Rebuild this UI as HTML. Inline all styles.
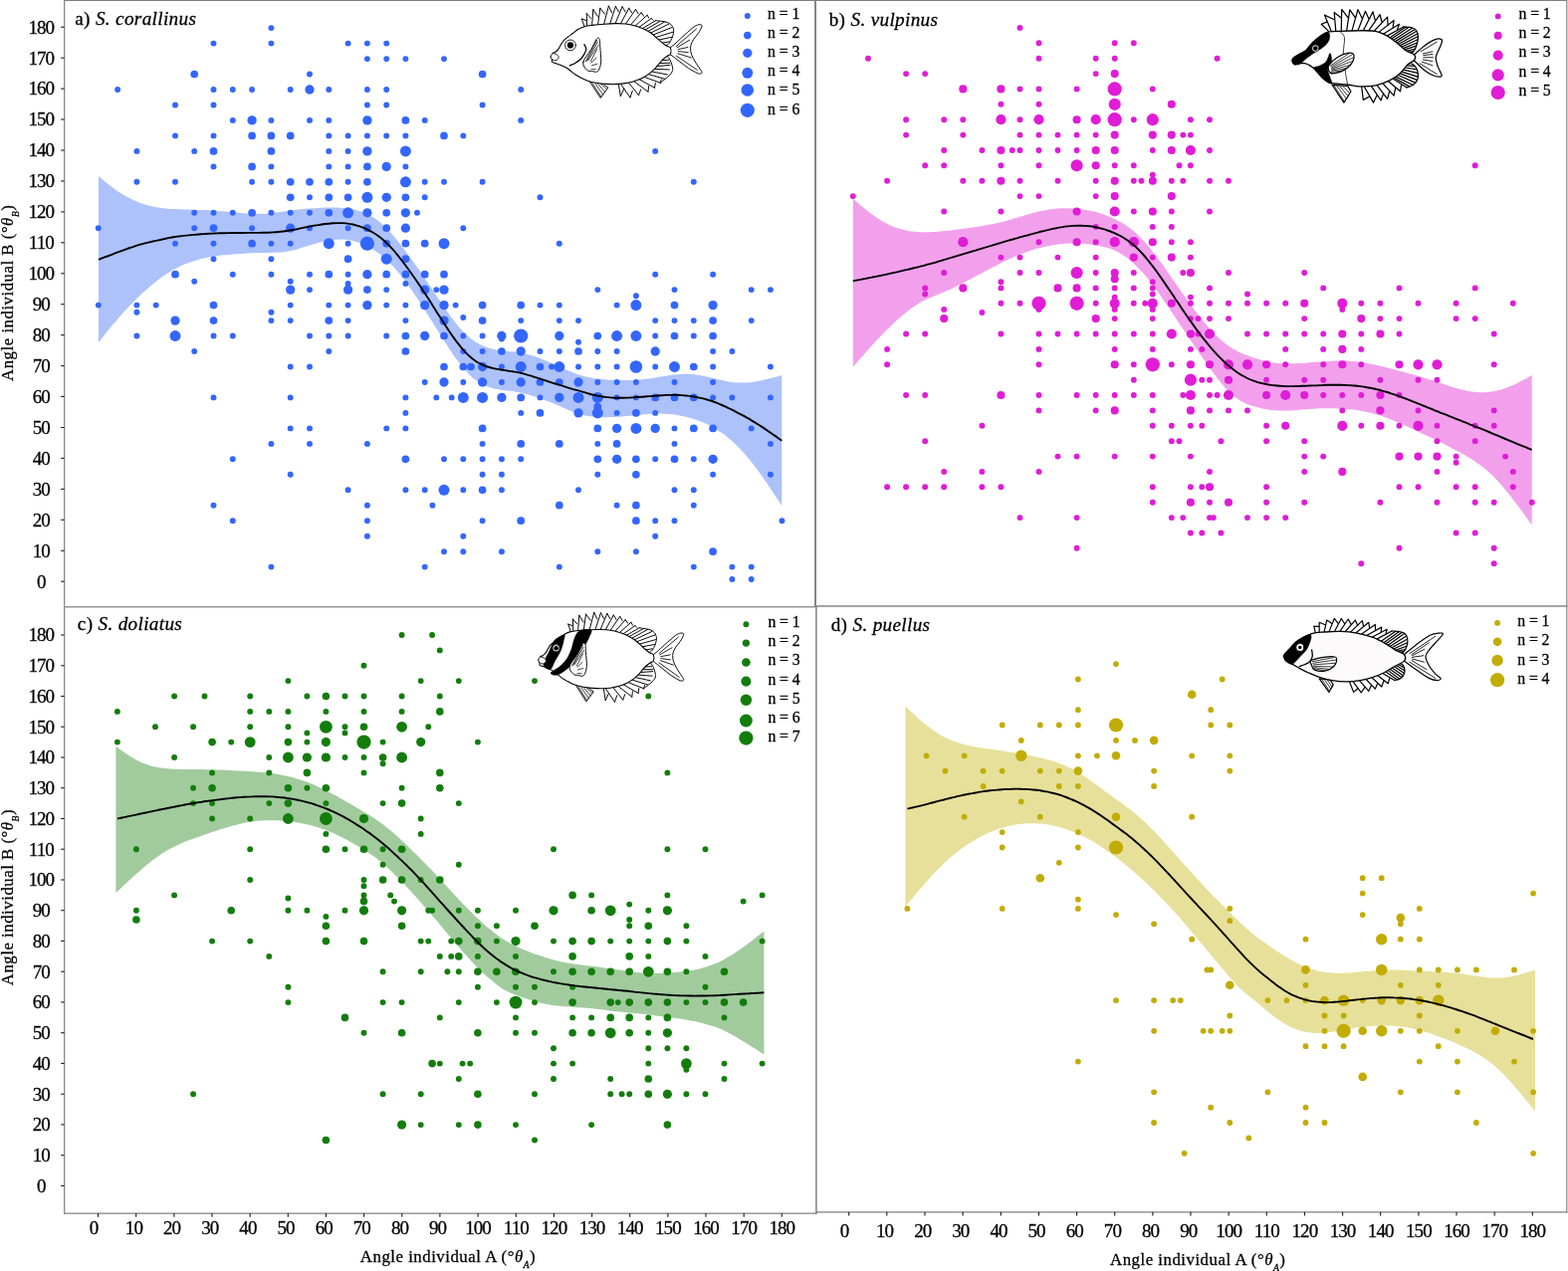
<!DOCTYPE html>
<html lang="en"><head><meta charset="utf-8"><title>Angle individual A vs B</title>
<style>html,body{margin:0;padding:0;background:#fff}svg{display:block}text{stroke:#000;stroke-width:0.28px}</style></head>
<body>
<svg width="1575" height="1277" viewBox="0 0 1575 1277" font-family="'Liberation Serif', 'DejaVu Serif', serif" fill="#000">
<rect width="1575" height="1277" fill="#fff"/>
<path d="M99,177C99.8,177.7 102.3,179.8 104,181.2C105.7,182.5 107.3,183.9 109,185.2C110.7,186.6 112.4,187.9 114,189.1C115.7,190.4 117.4,191.6 119,192.7C120.7,193.8 122.4,194.8 124,195.8C125.7,196.8 127.4,197.7 129.1,198.6C130.7,199.5 132.4,200.3 134.1,201.1C135.7,201.8 137.4,202.5 139.1,203.2C140.7,203.8 142.4,204.4 144.1,205C145.8,205.5 147.4,206 149.1,206.5C150.8,206.9 152.4,207.3 154.1,207.7C155.8,208.1 157.4,208.4 159.1,208.6C160.8,208.9 162.5,209.1 164.1,209.3C165.8,209.5 167.5,209.6 169.1,209.7C170.8,209.9 172.5,210 174.1,210.1C175.8,210.2 177.5,210.2 179.2,210.3C180.8,210.4 182.5,210.4 184.2,210.5C185.8,210.5 187.5,210.6 189.2,210.6C190.8,210.7 192.5,210.7 194.2,210.8C195.9,210.8 197.5,210.9 199.2,210.9C200.9,211 202.5,211 204.2,211.1C205.9,211.1 207.5,211.2 209.2,211.2C210.9,211.3 212.5,211.4 214.2,211.5C215.9,211.6 217.6,211.7 219.2,211.9C220.9,212 222.6,212.1 224.2,212.3C225.9,212.4 227.6,212.6 229.2,212.8C230.9,212.9 232.6,213.1 234.3,213.2C235.9,213.4 237.6,213.6 239.3,213.7C240.9,213.9 242.6,214 244.3,214.2C245.9,214.3 247.6,214.4 249.3,214.5C251,214.6 252.6,214.7 254.3,214.7C256,214.8 257.6,214.8 259.3,214.8C261,214.8 262.6,214.7 264.3,214.7C266,214.6 267.7,214.5 269.3,214.4C271,214.3 272.7,214.1 274.3,213.9C276,213.7 277.7,213.5 279.3,213.3C281,213.1 282.7,212.8 284.4,212.6C286,212.3 287.7,212.1 289.4,211.8C291,211.6 292.7,211.4 294.4,211.2C296,210.9 297.7,210.7 299.4,210.6C301,210.4 302.7,210.2 304.4,210C306.1,209.9 307.7,209.7 309.4,209.6C311.1,209.5 312.7,209.3 314.4,209.2C316.1,209.1 317.7,209 319.4,208.9C321.1,208.8 322.8,208.8 324.4,208.7C326.1,208.6 327.8,208.6 329.4,208.6C331.1,208.5 332.8,208.5 334.4,208.5C336.1,208.6 337.8,208.6 339.5,208.6C341.1,208.7 342.8,208.8 344.5,208.9C346.1,209 347.8,209.2 349.5,209.4C351.1,209.7 352.8,209.9 354.5,210.3C356.2,210.6 357.8,211 359.5,211.5C361.2,212 362.8,212.6 364.5,213.2C366.2,213.8 367.8,214.5 369.5,215.4C371.2,216.2 372.9,217.1 374.5,218.1C376.2,219.2 377.9,220.3 379.5,221.6C381.2,222.9 382.9,224.3 384.5,225.8C386.2,227.4 387.9,229 389.6,230.8C391.2,232.5 392.9,234.4 394.6,236.3C396.2,238.2 397.9,240.3 399.6,242.3C401.2,244.4 402.9,246.6 404.6,248.7C406.2,250.9 407.9,253.1 409.6,255.4C411.3,257.6 412.9,259.9 414.6,262.2C416.3,264.5 417.9,266.8 419.6,269.1C421.3,271.5 422.9,273.9 424.6,276.4C426.3,278.8 428,281.3 429.6,283.8C431.3,286.3 433,288.9 434.6,291.4C436.3,293.9 438,296.5 439.6,299C441.3,301.5 443,304 444.7,306.4C446.3,308.9 448,311.3 449.7,313.7C451.3,316 453,318.3 454.7,320.5C456.3,322.7 458,324.9 459.7,326.9C461.4,328.9 463,330.8 464.7,332.6C466.4,334.4 468,336 469.7,337.5C471.4,339 473,340.3 474.7,341.5C476.4,342.8 478.1,343.8 479.7,344.8C481.4,345.7 483.1,346.6 484.7,347.3C486.4,348.1 488.1,348.7 489.7,349.3C491.4,349.8 493.1,350.3 494.7,350.7C496.4,351.1 498.1,351.4 499.8,351.7C501.4,352 503.1,352.2 504.8,352.4C506.4,352.6 508.1,352.7 509.8,352.9C511.4,353 513.1,353.2 514.8,353.3C516.5,353.5 518.1,353.6 519.8,353.9C521.5,354.1 523.1,354.4 524.8,354.7C526.5,355.1 528.1,355.4 529.8,355.9C531.5,356.3 533.2,356.8 534.8,357.3C536.5,357.9 538.2,358.4 539.8,359C541.5,359.6 543.2,360.3 544.8,360.9C546.5,361.6 548.2,362.3 549.9,363C551.5,363.8 553.2,364.5 554.9,365.3C556.5,366 558.2,366.8 559.9,367.5C561.5,368.3 563.2,369.1 564.9,369.8C566.6,370.6 568.2,371.3 569.9,372C571.6,372.8 573.2,373.5 574.9,374.1C576.6,374.8 578.2,375.4 579.9,376C581.6,376.6 583.3,377.1 584.9,377.5C586.6,378 588.3,378.4 589.9,378.8C591.6,379.1 593.3,379.5 594.9,379.8C596.6,380.1 598.3,380.3 599.9,380.5C601.6,380.8 603.3,381 605,381.1C606.6,381.3 608.3,381.4 610,381.5C611.6,381.6 613.3,381.7 615,381.8C616.6,381.9 618.3,382 620,382C621.7,382.1 623.3,382.1 625,382.1C626.7,382.1 628.3,382.1 630,382.1C631.7,382.1 633.3,382 635,382C636.7,381.9 638.4,381.8 640,381.7C641.7,381.6 643.4,381.4 645,381.2C646.7,381.1 648.4,380.8 650,380.6C651.7,380.4 653.4,380.2 655.1,379.9C656.7,379.7 658.4,379.4 660.1,379.1C661.7,378.8 663.4,378.5 665.1,378.3C666.7,378 668.4,377.7 670.1,377.4C671.8,377.2 673.4,376.9 675.1,376.7C676.8,376.5 678.4,376.3 680.1,376.2C681.8,376 683.4,375.9 685.1,375.9C686.8,375.8 688.4,375.8 690.1,375.8C691.8,375.9 693.5,376 695.1,376.1C696.8,376.2 698.5,376.4 700.1,376.7C701.8,376.9 703.5,377.2 705.1,377.5C706.8,377.8 708.5,378.2 710.2,378.5C711.8,378.9 713.5,379.3 715.2,379.7C716.8,380.1 718.5,380.5 720.2,380.9C721.8,381.3 723.5,381.7 725.2,382.1C726.9,382.5 728.5,382.9 730.2,383.2C731.9,383.5 733.5,383.8 735.2,384C736.9,384.2 738.5,384.4 740.2,384.5C741.9,384.6 743.6,384.6 745.2,384.6C746.9,384.6 748.6,384.5 750.2,384.4C751.9,384.3 753.6,384.2 755.2,384C756.9,383.8 758.6,383.5 760.3,383.2C761.9,382.9 763.6,382.6 765.3,382.2C766.9,381.8 768.6,381.4 770.3,381C771.9,380.6 773.6,380.2 775.3,379.8C777,379.4 778.6,378.9 780.3,378.5C782,378 784.5,377.3 785.3,377.1L785.3,508C784.5,506.7 782,503 780.3,500.4C778.6,497.9 777,495.4 775.3,492.9C773.6,490.4 771.9,488 770.3,485.5C768.6,483.1 766.9,480.6 765.3,478.3C763.6,475.9 761.9,473.5 760.3,471.3C758.6,469 756.9,466.8 755.2,464.7C753.6,462.6 751.9,460.5 750.2,458.6C748.6,456.6 746.9,454.8 745.2,453C743.6,451.2 741.9,449.5 740.2,447.8C738.5,446.2 736.9,444.6 735.2,443.1C733.5,441.6 731.9,440.2 730.2,438.9C728.5,437.6 726.9,436.3 725.2,435.1C723.5,433.9 721.8,432.8 720.2,431.7C718.5,430.6 716.8,429.6 715.2,428.7C713.5,427.8 711.8,427 710.2,426.2C708.5,425.4 706.8,424.7 705.1,424C703.5,423.3 701.8,422.7 700.1,422.1C698.5,421.5 696.8,421 695.1,420.5C693.5,420 691.8,419.5 690.1,419.1C688.4,418.7 686.8,418.3 685.1,418C683.4,417.6 681.8,417.3 680.1,417C678.4,416.8 676.8,416.5 675.1,416.3C673.4,416.2 671.8,416 670.1,415.9C668.4,415.8 666.7,415.7 665.1,415.7C663.4,415.6 661.7,415.6 660.1,415.6C658.4,415.6 656.7,415.7 655.1,415.7C653.4,415.8 651.7,415.9 650,416C648.4,416.2 646.7,416.3 645,416.4C643.4,416.6 641.7,416.7 640,416.9C638.4,417.1 636.7,417.2 635,417.4C633.3,417.6 631.7,417.7 630,417.9C628.3,418 626.7,418.2 625,418.4C623.3,418.5 621.7,418.6 620,418.8C618.3,418.9 616.6,419 615,419.1C613.3,419.2 611.6,419.2 610,419.3C608.3,419.3 606.6,419.3 605,419.3C603.3,419.3 601.6,419.2 599.9,419.1C598.3,419 596.6,418.8 594.9,418.6C593.3,418.4 591.6,418.2 589.9,417.8C588.3,417.5 586.6,417.2 584.9,416.7C583.3,416.3 581.6,415.8 579.9,415.3C578.2,414.7 576.6,414.1 574.9,413.5C573.2,412.8 571.6,412.1 569.9,411.4C568.2,410.7 566.6,410 564.9,409.3C563.2,408.5 561.5,407.8 559.9,407.1C558.2,406.4 556.5,405.7 554.9,405.1C553.2,404.4 551.5,403.7 549.9,403.1C548.2,402.4 546.5,401.8 544.8,401.2C543.2,400.6 541.5,400 539.8,399.4C538.2,398.8 536.5,398.2 534.8,397.7C533.2,397.2 531.5,396.7 529.8,396.2C528.1,395.7 526.5,395.3 524.8,394.9C523.1,394.5 521.5,394.2 519.8,393.9C518.1,393.6 516.5,393.4 514.8,393.1C513.1,392.9 511.4,392.7 509.8,392.5C508.1,392.3 506.4,392.1 504.8,391.9C503.1,391.6 501.4,391.4 499.8,391C498.1,390.7 496.4,390.4 494.7,389.9C493.1,389.5 491.4,389 489.7,388.3C488.1,387.7 486.4,387 484.7,386.2C483.1,385.3 481.4,384.4 479.7,383.3C478.1,382.2 476.4,380.9 474.7,379.5C473,378.1 471.4,376.6 469.7,374.8C468,373.1 466.4,371.2 464.7,369.1C463,367.1 461.4,364.9 459.7,362.6C458,360.3 456.3,357.9 454.7,355.4C453,353 451.3,350.4 449.7,347.9C448,345.3 446.3,342.7 444.7,340C443,337.4 441.3,334.7 439.6,332.1C438,329.4 436.3,326.8 434.6,324.1C433,321.5 431.3,318.8 429.6,316.2C428,313.5 426.3,310.9 424.6,308.3C422.9,305.7 421.3,303.2 419.6,300.6C417.9,298.1 416.3,295.6 414.6,293.1C412.9,290.7 411.3,288.3 409.6,286C407.9,283.7 406.2,281.4 404.6,279.2C402.9,277.1 401.2,275 399.6,273C397.9,271 396.2,269.1 394.6,267.3C392.9,265.5 391.2,263.8 389.6,262.2C387.9,260.6 386.2,259.1 384.5,257.7C382.9,256.3 381.2,255.1 379.5,253.9C377.9,252.7 376.2,251.6 374.5,250.5C372.9,249.5 371.2,248.6 369.5,247.7C367.8,246.9 366.2,246.1 364.5,245.4C362.8,244.7 361.2,244 359.5,243.5C357.8,242.9 356.2,242.4 354.5,242C352.8,241.6 351.1,241.3 349.5,241.1C347.8,240.8 346.1,240.7 344.5,240.6C342.8,240.6 341.1,240.6 339.5,240.7C337.8,240.7 336.1,240.8 334.4,241C332.8,241.2 331.1,241.4 329.4,241.7C327.8,242 326.1,242.3 324.4,242.7C322.8,243.1 321.1,243.5 319.4,244C317.7,244.4 316.1,244.9 314.4,245.4C312.7,245.9 311.1,246.5 309.4,247C307.7,247.5 306.1,248.1 304.4,248.6C302.7,249.2 301,249.7 299.4,250.2C297.7,250.7 296,251.2 294.4,251.6C292.7,252 291,252.3 289.4,252.6C287.7,252.9 286,253.1 284.4,253.2C282.7,253.4 281,253.5 279.3,253.6C277.7,253.7 276,253.8 274.3,253.8C272.7,253.9 271,253.9 269.3,253.9C267.7,254 266,254 264.3,254C262.6,254 261,254 259.3,254.1C257.6,254.1 256,254.1 254.3,254.2C252.6,254.3 251,254.3 249.3,254.4C247.6,254.5 245.9,254.6 244.3,254.7C242.6,254.8 240.9,255 239.3,255.1C237.6,255.2 235.9,255.3 234.3,255.5C232.6,255.6 230.9,255.7 229.2,255.9C227.6,256 225.9,256.2 224.2,256.3C222.6,256.5 220.9,256.6 219.2,256.9C217.6,257.1 215.9,257.3 214.2,257.6C212.5,257.8 210.9,258.1 209.2,258.5C207.5,258.8 205.9,259.2 204.2,259.6C202.5,260 200.9,260.4 199.2,260.9C197.5,261.3 195.9,261.8 194.2,262.4C192.5,262.9 190.8,263.5 189.2,264.1C187.5,264.7 185.8,265.4 184.2,266.1C182.5,266.8 180.8,267.6 179.2,268.4C177.5,269.2 175.8,270 174.1,271C172.5,271.9 170.8,272.9 169.1,274C167.5,275 165.8,276.2 164.1,277.3C162.5,278.5 160.8,279.7 159.1,281C157.4,282.2 155.8,283.6 154.1,284.9C152.4,286.3 150.8,287.7 149.1,289.2C147.4,290.6 145.8,292.1 144.1,293.6C142.4,295.2 140.7,296.7 139.1,298.3C137.4,299.9 135.7,301.6 134.1,303.3C132.4,304.9 130.7,306.7 129.1,308.4C127.4,310.2 125.7,312 124,313.8C122.4,315.6 120.7,317.5 119,319.4C117.4,321.4 115.7,323.3 114,325.3C112.4,327.3 110.7,329.4 109,331.5C107.3,333.5 105.7,335.6 104,337.7C102.3,339.8 99.8,342.9 99,344Z" fill="#adc2fb"/>
<path d="M856.8,199.4C857.6,200.1 860.1,202.4 861.8,203.9C863.5,205.3 865.2,206.8 866.8,208.2C868.5,209.6 870.2,211 871.8,212.3C873.5,213.7 875.2,214.9 876.9,216.1C878.5,217.3 880.2,218.5 881.9,219.6C883.5,220.7 885.2,221.7 886.9,222.7C888.6,223.6 890.2,224.5 891.9,225.3C893.6,226.1 895.2,226.9 896.9,227.5C898.6,228.2 900.3,228.8 901.9,229.3C903.6,229.9 905.3,230.4 906.9,230.8C908.6,231.2 910.3,231.6 912,231.9C913.6,232.2 915.3,232.4 917,232.6C918.6,232.8 920.3,232.9 922,233C923.7,233.1 925.3,233.2 927,233.2C928.7,233.3 930.3,233.3 932,233.2C933.7,233.2 935.4,233.1 937,233C938.7,233 940.4,232.9 942,232.7C943.7,232.6 945.4,232.5 947.1,232.3C948.7,232.1 950.4,232 952.1,231.8C953.7,231.6 955.4,231.4 957.1,231.2C958.8,231 960.4,230.7 962.1,230.5C963.8,230.3 965.4,230.1 967.1,229.8C968.8,229.6 970.4,229.4 972.1,229.2C973.8,228.9 975.5,228.7 977.1,228.5C978.8,228.2 980.5,228 982.1,227.8C983.8,227.5 985.5,227.2 987.2,227C988.8,226.7 990.5,226.4 992.2,226.1C993.8,225.7 995.5,225.4 997.2,225.1C998.9,224.7 1000.5,224.3 1002.2,224C1003.9,223.6 1005.5,223.2 1007.2,222.7C1008.9,222.3 1010.6,221.9 1012.2,221.4C1013.9,220.9 1015.6,220.5 1017.2,220C1018.9,219.5 1020.6,219 1022.3,218.5C1023.9,218 1025.6,217.5 1027.3,217C1028.9,216.5 1030.6,216 1032.3,215.5C1034,215.1 1035.6,214.6 1037.3,214.1C1039,213.7 1040.6,213.2 1042.3,212.8C1044,212.4 1045.7,212 1047.3,211.7C1049,211.3 1050.7,211 1052.3,210.7C1054,210.4 1055.7,210.2 1057.4,210C1059,209.8 1060.7,209.6 1062.4,209.5C1064,209.4 1065.7,209.3 1067.4,209.3C1069.1,209.2 1070.7,209.2 1072.4,209.3C1074.1,209.3 1075.7,209.4 1077.4,209.5C1079.1,209.6 1080.8,209.7 1082.4,209.9C1084.1,210.1 1085.8,210.2 1087.4,210.5C1089.1,210.7 1090.8,210.9 1092.5,211.2C1094.1,211.5 1095.8,211.8 1097.5,212.2C1099.1,212.5 1100.8,213 1102.5,213.4C1104.2,213.9 1105.8,214.4 1107.5,215C1109.2,215.6 1110.8,216.2 1112.5,216.9C1114.2,217.6 1115.9,218.3 1117.5,219C1119.2,219.8 1120.9,220.6 1122.5,221.4C1124.2,222.3 1125.9,223.2 1127.6,224.2C1129.2,225.2 1130.9,226.2 1132.6,227.4C1134.2,228.6 1135.9,229.8 1137.6,231.2C1139.3,232.6 1140.9,234.1 1142.6,235.7C1144.3,237.3 1145.9,239 1147.6,240.7C1149.3,242.5 1151,244.4 1152.6,246.3C1154.3,248.3 1156,250.3 1157.6,252.4C1159.3,254.5 1161,256.7 1162.7,258.9C1164.3,261.2 1166,263.5 1167.7,265.8C1169.3,268.1 1171,270.5 1172.7,272.9C1174.4,275.4 1176,277.8 1177.7,280.2C1179.4,282.7 1181,285.1 1182.7,287.5C1184.4,289.9 1186.1,292.3 1187.7,294.7C1189.4,297 1191.1,299.4 1192.7,301.7C1194.4,304 1196.1,306.3 1197.8,308.5C1199.4,310.8 1201.1,313 1202.8,315.2C1204.4,317.4 1206.1,319.5 1207.8,321.6C1209.4,323.7 1211.1,325.7 1212.8,327.6C1214.5,329.6 1216.1,331.4 1217.8,333.2C1219.5,335 1221.1,336.7 1222.8,338.3C1224.5,339.9 1226.2,341.4 1227.8,342.8C1229.5,344.2 1231.2,345.5 1232.8,346.7C1234.5,347.9 1236.2,349 1237.9,350.1C1239.5,351.1 1241.2,352 1242.9,352.9C1244.5,353.7 1246.2,354.5 1247.9,355.2C1249.6,355.9 1251.2,356.5 1252.9,357.1C1254.6,357.8 1256.2,358.3 1257.9,358.9C1259.6,359.5 1261.3,360.1 1262.9,360.6C1264.6,361.1 1266.3,361.7 1267.9,362.1C1269.6,362.6 1271.3,363 1273,363.4C1274.6,363.8 1276.3,364.1 1278,364.3C1279.6,364.6 1281.3,364.7 1283,364.9C1284.7,365 1286.3,365.1 1288,365.2C1289.7,365.3 1291.3,365.3 1293,365.3C1294.7,365.3 1296.4,365.3 1298,365.3C1299.7,365.3 1301.4,365.2 1303,365.1C1304.7,365.1 1306.4,365 1308.1,364.9C1309.7,364.8 1311.4,364.6 1313.1,364.5C1314.7,364.4 1316.4,364.3 1318.1,364.1C1319.8,364 1321.4,363.8 1323.1,363.7C1324.8,363.6 1326.4,363.4 1328.1,363.3C1329.8,363.2 1331.5,363 1333.1,362.9C1334.8,362.8 1336.5,362.7 1338.1,362.6C1339.8,362.5 1341.5,362.4 1343.2,362.4C1344.8,362.4 1346.5,362.4 1348.2,362.4C1349.8,362.4 1351.5,362.5 1353.2,362.6C1354.9,362.7 1356.5,362.8 1358.2,363C1359.9,363.1 1361.5,363.3 1363.2,363.5C1364.9,363.7 1366.6,363.9 1368.2,364.2C1369.9,364.4 1371.6,364.7 1373.2,365C1374.9,365.3 1376.6,365.6 1378.3,366C1379.9,366.3 1381.6,366.7 1383.3,367C1384.9,367.4 1386.6,367.8 1388.3,368.2C1390,368.6 1391.6,369 1393.3,369.4C1395,369.8 1396.6,370.2 1398.3,370.7C1400,371.1 1401.7,371.5 1403.3,372C1405,372.4 1406.7,372.9 1408.3,373.3C1410,373.8 1411.7,374.2 1413.4,374.7C1415,375.1 1416.7,375.6 1418.4,376C1420,376.5 1421.7,377 1423.4,377.4C1425,377.9 1426.7,378.4 1428.4,378.9C1430.1,379.4 1431.7,379.9 1433.4,380.4C1435.1,381 1436.7,381.5 1438.4,382C1440.1,382.6 1441.8,383.1 1443.4,383.7C1445.1,384.2 1446.8,384.8 1448.4,385.3C1450.1,385.9 1451.8,386.5 1453.5,387C1455.1,387.6 1456.8,388.2 1458.5,388.7C1460.1,389.2 1461.8,389.7 1463.5,390.2C1465.2,390.7 1466.8,391.2 1468.5,391.6C1470.2,392 1471.8,392.4 1473.5,392.7C1475.2,393.1 1476.9,393.4 1478.5,393.6C1480.2,393.8 1481.9,394 1483.5,394.1C1485.2,394.3 1486.9,394.3 1488.6,394.3C1490.2,394.3 1491.9,394.2 1493.6,394.1C1495.2,393.9 1496.9,393.7 1498.6,393.5C1500.3,393.2 1501.9,392.9 1503.6,392.5C1505.3,392.1 1506.9,391.7 1508.6,391.2C1510.3,390.7 1512,390.1 1513.6,389.5C1515.3,388.9 1517,388.2 1518.6,387.5C1520.3,386.8 1522,386 1523.7,385.2C1525.3,384.4 1527,383.5 1528.7,382.6C1530.3,381.7 1532,380.8 1533.7,379.9C1535.4,379 1537.9,377.6 1538.7,377.1L1538.7,527.5C1537.9,526.3 1535.4,522.8 1533.7,520.5C1532,518.2 1530.3,515.9 1528.7,513.6C1527,511.3 1525.3,509 1523.7,506.8C1522,504.5 1520.3,502.3 1518.6,500.2C1517,498 1515.3,495.9 1513.6,493.9C1512,491.8 1510.3,489.8 1508.6,487.9C1506.9,486 1505.3,484.1 1503.6,482.3C1501.9,480.6 1500.3,478.9 1498.6,477.3C1496.9,475.7 1495.2,474.2 1493.6,472.7C1491.9,471.3 1490.2,469.9 1488.6,468.6C1486.9,467.3 1485.2,466.1 1483.5,465C1481.9,463.8 1480.2,462.7 1478.5,461.6C1476.9,460.6 1475.2,459.6 1473.5,458.6C1471.8,457.6 1470.2,456.7 1468.5,455.8C1466.8,454.9 1465.2,454 1463.5,453.1C1461.8,452.2 1460.1,451.3 1458.5,450.4C1456.8,449.5 1455.1,448.6 1453.5,447.7C1451.8,446.9 1450.1,446 1448.4,445.1C1446.8,444.3 1445.1,443.4 1443.4,442.6C1441.8,441.8 1440.1,441 1438.4,440.1C1436.7,439.3 1435.1,438.5 1433.4,437.7C1431.7,436.9 1430.1,436.2 1428.4,435.4C1426.7,434.6 1425,433.8 1423.4,433C1421.7,432.2 1420,431.5 1418.4,430.7C1416.7,429.9 1415,429.1 1413.4,428.4C1411.7,427.6 1410,426.9 1408.3,426.1C1406.7,425.4 1405,424.7 1403.3,423.9C1401.7,423.2 1400,422.5 1398.3,421.9C1396.6,421.2 1395,420.6 1393.3,419.9C1391.6,419.3 1390,418.7 1388.3,418.2C1386.6,417.6 1384.9,417.1 1383.3,416.6C1381.6,416.1 1379.9,415.6 1378.3,415.2C1376.6,414.8 1374.9,414.4 1373.2,414C1371.6,413.7 1369.9,413.3 1368.2,413C1366.6,412.7 1364.9,412.5 1363.2,412.3C1361.5,412 1359.9,411.8 1358.2,411.6C1356.5,411.5 1354.9,411.3 1353.2,411.2C1351.5,411 1349.8,410.9 1348.2,410.8C1346.5,410.7 1344.8,410.6 1343.2,410.5C1341.5,410.4 1339.8,410.4 1338.1,410.3C1336.5,410.3 1334.8,410.2 1333.1,410.2C1331.5,410.2 1329.8,410.3 1328.1,410.3C1326.4,410.3 1324.8,410.4 1323.1,410.5C1321.4,410.6 1319.8,410.7 1318.1,410.8C1316.4,410.9 1314.7,411.1 1313.1,411.2C1311.4,411.3 1309.7,411.5 1308.1,411.6C1306.4,411.8 1304.7,411.9 1303,412C1301.4,412.2 1299.7,412.3 1298,412.4C1296.4,412.5 1294.7,412.6 1293,412.6C1291.3,412.7 1289.7,412.7 1288,412.7C1286.3,412.6 1284.7,412.6 1283,412.5C1281.3,412.4 1279.6,412.2 1278,412.1C1276.3,411.9 1274.6,411.7 1273,411.4C1271.3,411.1 1269.6,410.8 1267.9,410.5C1266.3,410.1 1264.6,409.7 1262.9,409.3C1261.3,408.8 1259.6,408.4 1257.9,407.8C1256.2,407.3 1254.6,406.7 1252.9,406C1251.2,405.3 1249.6,404.6 1247.9,403.7C1246.2,402.8 1244.5,401.9 1242.9,400.7C1241.2,399.6 1239.5,398.3 1237.9,396.8C1236.2,395.4 1234.5,393.8 1232.8,392C1231.2,390.2 1229.5,388.3 1227.8,386.3C1226.2,384.3 1224.5,382.2 1222.8,380C1221.1,377.8 1219.5,375.6 1217.8,373.3C1216.1,371 1214.5,368.7 1212.8,366.4C1211.1,364 1209.4,361.7 1207.8,359.3C1206.1,356.9 1204.4,354.4 1202.8,352C1201.1,349.6 1199.4,347.1 1197.8,344.6C1196.1,342.2 1194.4,339.7 1192.7,337.2C1191.1,334.7 1189.4,332.2 1187.7,329.7C1186.1,327.2 1184.4,324.7 1182.7,322.2C1181,319.7 1179.4,317.2 1177.7,314.7C1176,312.2 1174.4,309.7 1172.7,307.3C1171,304.8 1169.3,302.4 1167.7,299.9C1166,297.5 1164.3,295.1 1162.7,292.8C1161,290.5 1159.3,288.2 1157.6,286C1156,283.8 1154.3,281.6 1152.6,279.6C1151,277.6 1149.3,275.6 1147.6,273.8C1145.9,271.9 1144.3,270.2 1142.6,268.5C1140.9,266.8 1139.3,265.3 1137.6,263.8C1135.9,262.3 1134.2,260.9 1132.6,259.6C1130.9,258.3 1129.2,257.1 1127.6,256C1125.9,254.9 1124.2,253.9 1122.5,253C1120.9,252.1 1119.2,251.4 1117.5,250.7C1115.9,250.1 1114.2,249.5 1112.5,249.1C1110.8,248.6 1109.2,248.2 1107.5,247.8C1105.8,247.5 1104.2,247.1 1102.5,246.8C1100.8,246.5 1099.1,246.3 1097.5,246C1095.8,245.8 1094.1,245.5 1092.5,245.3C1090.8,245.1 1089.1,244.9 1087.4,244.8C1085.8,244.7 1084.1,244.5 1082.4,244.5C1080.8,244.4 1079.1,244.4 1077.4,244.4C1075.7,244.4 1074.1,244.5 1072.4,244.6C1070.7,244.7 1069.1,244.8 1067.4,245C1065.7,245.1 1064,245.3 1062.4,245.5C1060.7,245.8 1059,246 1057.4,246.3C1055.7,246.6 1054,246.9 1052.3,247.3C1050.7,247.6 1049,248 1047.3,248.4C1045.7,248.8 1044,249.2 1042.3,249.6C1040.6,250.1 1039,250.6 1037.3,251.1C1035.6,251.6 1034,252.2 1032.3,252.7C1030.6,253.3 1028.9,253.9 1027.3,254.5C1025.6,255.2 1023.9,255.8 1022.3,256.5C1020.6,257.2 1018.9,257.9 1017.2,258.7C1015.6,259.4 1013.9,260.2 1012.2,261C1010.6,261.8 1008.9,262.6 1007.2,263.4C1005.5,264.2 1003.9,265.1 1002.2,265.9C1000.5,266.8 998.9,267.7 997.2,268.6C995.5,269.4 993.8,270.3 992.2,271.2C990.5,272.1 988.8,273 987.2,273.9C985.5,274.8 983.8,275.6 982.1,276.5C980.5,277.4 978.8,278.3 977.1,279.2C975.5,280.1 973.8,280.9 972.1,281.8C970.4,282.7 968.8,283.6 967.1,284.4C965.4,285.3 963.8,286.1 962.1,287C960.4,287.8 958.8,288.6 957.1,289.5C955.4,290.3 953.7,291 952.1,291.8C950.4,292.5 948.7,293.3 947.1,293.9C945.4,294.6 943.7,295.3 942,295.9C940.4,296.6 938.7,297.2 937,297.9C935.4,298.5 933.7,299.2 932,300C930.3,300.7 928.7,301.6 927,302.5C925.3,303.4 923.7,304.3 922,305.4C920.3,306.4 918.6,307.5 917,308.7C915.3,309.9 913.6,311.1 912,312.4C910.3,313.7 908.6,315 906.9,316.4C905.3,317.8 903.6,319.3 901.9,320.8C900.3,322.3 898.6,323.8 896.9,325.4C895.2,327 893.6,328.6 891.9,330.3C890.2,331.9 888.6,333.6 886.9,335.4C885.2,337.1 883.5,338.8 881.9,340.6C880.2,342.4 878.5,344.2 876.9,346C875.2,347.8 873.5,349.7 871.8,351.6C870.2,353.4 868.5,355.3 866.8,357.2C865.2,359.1 863.5,361 861.8,362.9C860.1,364.8 857.6,367.7 856.8,368.7Z" fill="#f2a0ec"/>
<path d="M116.4,749.7C117.2,750.3 119.7,752.2 121.4,753.4C123.1,754.6 124.7,755.8 126.4,757C128.1,758.1 129.8,759.3 131.4,760.3C133.1,761.4 134.8,762.4 136.4,763.3C138.1,764.2 139.8,765.1 141.4,765.8C143.1,766.5 144.8,767.2 146.4,767.8C148.1,768.4 149.8,768.9 151.5,769.4C153.1,769.9 154.8,770.3 156.5,770.6C158.1,771 159.8,771.2 161.5,771.5C163.1,771.7 164.8,771.9 166.5,772.1C168.1,772.3 169.8,772.4 171.5,772.5C173.2,772.6 174.8,772.7 176.5,772.8C178.2,772.8 179.8,772.9 181.5,772.9C183.2,773 184.8,773 186.5,773C188.2,773 189.8,773 191.5,773C193.2,773 194.9,773.1 196.5,773.1C198.2,773.1 199.9,773.1 201.5,773.1C203.2,773.2 204.9,773.2 206.5,773.2C208.2,773.2 209.9,773.3 211.5,773.3C213.2,773.3 214.9,773.4 216.6,773.4C218.2,773.5 219.9,773.5 221.6,773.5C223.2,773.6 224.9,773.6 226.6,773.7C228.2,773.8 229.9,773.8 231.6,773.9C233.2,774 234.9,774.1 236.6,774.2C238.3,774.3 239.9,774.4 241.6,774.5C243.3,774.6 244.9,774.7 246.6,774.8C248.3,774.9 249.9,775 251.6,775.1C253.3,775.2 254.9,775.3 256.6,775.5C258.3,775.6 260,775.7 261.6,775.8C263.3,776 265,776.1 266.6,776.3C268.3,776.4 270,776.6 271.6,776.8C273.3,777 275,777.3 276.6,777.5C278.3,777.8 280,778.1 281.7,778.4C283.3,778.7 285,779 286.7,779.4C288.3,779.8 290,780.2 291.7,780.6C293.3,781 295,781.4 296.7,781.9C298.3,782.4 300,782.9 301.7,783.4C303.4,784 305,784.5 306.7,785.1C308.4,785.7 310,786.4 311.7,787.1C313.4,787.8 315,788.5 316.7,789.2C318.4,790 320,790.7 321.7,791.5C323.4,792.3 325.1,793.1 326.7,794C328.4,794.8 330.1,795.7 331.7,796.5C333.4,797.4 335.1,798.3 336.7,799.1C338.4,800 340.1,800.9 341.7,801.9C343.4,802.8 345.1,803.7 346.8,804.7C348.4,805.6 350.1,806.6 351.8,807.5C353.4,808.5 355.1,809.5 356.8,810.5C358.4,811.5 360.1,812.5 361.8,813.5C363.4,814.5 365.1,815.5 366.8,816.5C368.5,817.5 370.1,818.5 371.8,819.6C373.5,820.6 375.1,821.7 376.8,822.8C378.5,823.9 380.1,825 381.8,826.3C383.5,827.5 385.1,828.7 386.8,830C388.5,831.3 390.2,832.6 391.8,834C393.5,835.4 395.2,836.8 396.8,838.3C398.5,839.8 400.2,841.3 401.8,842.8C403.5,844.4 405.2,846 406.8,847.5C408.5,849.1 410.2,850.8 411.9,852.4C413.5,854 415.2,855.6 416.9,857.3C418.5,858.9 420.2,860.6 421.9,862.3C423.5,864 425.2,865.7 426.9,867.4C428.5,869.1 430.2,870.8 431.9,872.6C433.6,874.3 435.2,876.1 436.9,877.8C438.6,879.6 440.2,881.4 441.9,883.2C443.6,885 445.2,886.8 446.9,888.6C448.6,890.4 450.2,892.2 451.9,894C453.6,895.8 455.3,897.6 456.9,899.4C458.6,901.2 460.3,903 461.9,904.7C463.6,906.5 465.3,908.2 466.9,910C468.6,911.7 470.3,913.4 471.9,915.1C473.6,916.8 475.3,918.4 477,920.1C478.6,921.7 480.3,923.3 482,924.8C483.6,926.4 485.3,927.9 487,929.4C488.6,930.8 490.3,932.2 492,933.6C493.6,935 495.3,936.3 497,937.5C498.7,938.8 500.3,940 502,941.2C503.7,942.3 505.3,943.4 507,944.5C508.7,945.5 510.3,946.5 512,947.4C513.7,948.4 515.3,949.3 517,950.1C518.7,951 520.4,951.8 522,952.5C523.7,953.3 525.4,954 527,954.6C528.7,955.3 530.4,955.9 532,956.6C533.7,957.2 535.4,957.8 537,958.4C538.7,959 540.4,959.5 542.1,960.1C543.7,960.7 545.4,961.2 547.1,961.8C548.7,962.3 550.4,962.8 552.1,963.3C553.7,963.8 555.4,964.2 557.1,964.7C558.7,965.1 560.4,965.5 562.1,965.9C563.8,966.3 565.4,966.6 567.1,966.9C568.8,967.3 570.4,967.6 572.1,967.8C573.8,968.1 575.4,968.4 577.1,968.6C578.8,968.9 580.4,969.1 582.1,969.3C583.8,969.5 585.5,969.7 587.1,969.9C588.8,970.1 590.5,970.3 592.1,970.5C593.8,970.7 595.5,970.9 597.1,971.1C598.8,971.3 600.5,971.5 602.1,971.7C603.8,971.9 605.5,972.1 607.2,972.4C608.8,972.6 610.5,972.8 612.2,973.1C613.8,973.3 615.5,973.6 617.2,973.8C618.8,974.1 620.5,974.3 622.2,974.6C623.8,974.8 625.5,975.1 627.2,975.3C628.9,975.6 630.5,975.8 632.2,976C633.9,976.3 635.5,976.5 637.2,976.7C638.9,976.8 640.5,977 642.2,977.2C643.9,977.3 645.5,977.5 647.2,977.6C648.9,977.7 650.6,977.8 652.2,977.8C653.9,977.9 655.6,977.9 657.2,977.9C658.9,977.9 660.6,977.9 662.2,977.8C663.9,977.8 665.6,977.7 667.2,977.7C668.9,977.6 670.6,977.5 672.3,977.4C673.9,977.3 675.6,977.2 677.3,977.1C678.9,976.9 680.6,976.8 682.3,976.6C683.9,976.5 685.6,976.3 687.3,976.1C688.9,975.8 690.6,975.6 692.3,975.3C694,975.1 695.6,974.8 697.3,974.4C699,974.1 700.6,973.8 702.3,973.4C704,973 705.6,972.5 707.3,972C709,971.6 710.6,971 712.3,970.5C714,969.9 715.7,969.3 717.3,968.6C719,967.9 720.7,967.2 722.3,966.4C724,965.7 725.7,964.8 727.3,963.9C729,963.1 730.7,962.1 732.3,961.1C734,960.1 735.7,959 737.4,957.9C739,956.8 740.7,955.7 742.4,954.5C744,953.4 745.7,952.2 747.4,951C749,949.7 750.7,948.5 752.4,947.2C754,946 755.7,944.7 757.4,943.4C759.1,942.1 760.7,940.8 762.4,939.5C764.1,938.2 766.6,936.3 767.4,935.6L767.4,1059.5C766.6,1059 764.1,1057.4 762.4,1056.3C760.7,1055.2 759.1,1054.2 757.4,1053.1C755.7,1052 754,1051 752.4,1049.9C750.7,1048.9 749,1047.8 747.4,1046.8C745.7,1045.8 744,1044.7 742.4,1043.7C740.7,1042.7 739,1041.7 737.4,1040.7C735.7,1039.8 734,1038.8 732.3,1038C730.7,1037.1 729,1036.2 727.3,1035.5C725.7,1034.7 724,1034 722.3,1033.3C720.7,1032.6 719,1032 717.3,1031.5C715.7,1030.9 714,1030.4 712.3,1029.9C710.6,1029.4 709,1028.9 707.3,1028.4C705.6,1028 704,1027.6 702.3,1027.2C700.6,1026.8 699,1026.5 697.3,1026.1C695.6,1025.8 694,1025.5 692.3,1025.2C690.6,1024.9 688.9,1024.6 687.3,1024.3C685.6,1024 683.9,1023.8 682.3,1023.6C680.6,1023.3 678.9,1023.1 677.3,1022.8C675.6,1022.6 673.9,1022.4 672.3,1022.2C670.6,1022 668.9,1021.7 667.2,1021.5C665.6,1021.3 663.9,1021.1 662.2,1020.9C660.6,1020.6 658.9,1020.4 657.2,1020.2C655.6,1020 653.9,1019.8 652.2,1019.6C650.6,1019.4 648.9,1019.2 647.2,1019C645.5,1018.8 643.9,1018.6 642.2,1018.4C640.5,1018.3 638.9,1018.1 637.2,1017.9C635.5,1017.7 633.9,1017.5 632.2,1017.4C630.5,1017.2 628.9,1017 627.2,1016.9C625.5,1016.7 623.8,1016.6 622.2,1016.4C620.5,1016.2 618.8,1016.1 617.2,1015.9C615.5,1015.7 613.8,1015.5 612.2,1015.4C610.5,1015.2 608.8,1015 607.2,1014.8C605.5,1014.6 603.8,1014.3 602.1,1014.1C600.5,1013.9 598.8,1013.7 597.1,1013.6C595.5,1013.4 593.8,1013.2 592.1,1013C590.5,1012.9 588.8,1012.7 587.1,1012.6C585.5,1012.5 583.8,1012.3 582.1,1012.2C580.4,1012.1 578.8,1012 577.1,1011.9C575.4,1011.7 573.8,1011.6 572.1,1011.5C570.4,1011.4 568.8,1011.3 567.1,1011.2C565.4,1011 563.8,1010.9 562.1,1010.8C560.4,1010.6 558.7,1010.4 557.1,1010.2C555.4,1010 553.7,1009.8 552.1,1009.5C550.4,1009.2 548.7,1008.9 547.1,1008.6C545.4,1008.3 543.7,1007.9 542.1,1007.5C540.4,1007.1 538.7,1006.6 537,1006.1C535.4,1005.6 533.7,1005.1 532,1004.6C530.4,1004 528.7,1003.4 527,1002.8C525.4,1002.3 523.7,1001.7 522,1001.1C520.4,1000.5 518.7,1000 517,999.3C515.3,998.7 513.7,998.1 512,997.3C510.3,996.5 508.7,995.6 507,994.7C505.3,993.7 503.7,992.6 502,991.4C500.3,990.2 498.7,989 497,987.7C495.3,986.4 493.6,985 492,983.6C490.3,982.2 488.6,980.7 487,979.2C485.3,977.7 483.6,976.1 482,974.5C480.3,972.8 478.6,971.1 477,969.4C475.3,967.7 473.6,965.9 471.9,964.1C470.3,962.2 468.6,960.4 466.9,958.5C465.3,956.6 463.6,954.7 461.9,952.8C460.3,950.8 458.6,948.9 456.9,946.9C455.3,945 453.6,943 451.9,941C450.2,939 448.6,937 446.9,935C445.2,933.1 443.6,931.1 441.9,929.1C440.2,927.1 438.6,925.1 436.9,923.1C435.2,921.1 433.6,919.1 431.9,917.2C430.2,915.2 428.5,913.3 426.9,911.4C425.2,909.4 423.5,907.6 421.9,905.7C420.2,903.8 418.5,902 416.9,900.1C415.2,898.3 413.5,896.5 411.9,894.7C410.2,892.9 408.5,891.1 406.8,889.3C405.2,887.6 403.5,885.8 401.8,884.1C400.2,882.4 398.5,880.7 396.8,879C395.2,877.3 393.5,875.7 391.8,874.1C390.2,872.5 388.5,870.9 386.8,869.4C385.1,867.9 383.5,866.5 381.8,865.2C380.1,863.8 378.5,862.5 376.8,861.3C375.1,860.1 373.5,859 371.8,857.9C370.1,856.7 368.5,855.7 366.8,854.7C365.1,853.6 363.4,852.6 361.8,851.6C360.1,850.6 358.4,849.6 356.8,848.6C355.1,847.6 353.4,846.7 351.8,845.7C350.1,844.8 348.4,843.8 346.8,843C345.1,842.1 343.4,841.2 341.7,840.4C340.1,839.6 338.4,838.8 336.7,838C335.1,837.2 333.4,836.5 331.7,835.8C330.1,835.1 328.4,834.4 326.7,833.8C325.1,833.2 323.4,832.6 321.7,832C320,831.5 318.4,831 316.7,830.5C315,830 313.4,829.5 311.7,829.1C310,828.7 308.4,828.3 306.7,827.9C305,827.5 303.4,827.2 301.7,826.9C300,826.6 298.3,826.3 296.7,826C295,825.7 293.3,825.5 291.7,825.3C290,825.1 288.3,824.9 286.7,824.8C285,824.6 283.3,824.5 281.7,824.4C280,824.3 278.3,824.3 276.6,824.2C275,824.2 273.3,824.2 271.6,824.2C270,824.2 268.3,824.3 266.6,824.3C265,824.4 263.3,824.5 261.6,824.6C260,824.8 258.3,824.9 256.6,825.1C254.9,825.3 253.3,825.5 251.6,825.8C249.9,826 248.3,826.3 246.6,826.6C244.9,827 243.3,827.3 241.6,827.7C239.9,828.1 238.3,828.5 236.6,828.9C234.9,829.3 233.2,829.7 231.6,830.2C229.9,830.7 228.2,831.2 226.6,831.7C224.9,832.2 223.2,832.7 221.6,833.2C219.9,833.8 218.2,834.3 216.6,834.9C214.9,835.4 213.2,836 211.5,836.5C209.9,837.1 208.2,837.7 206.5,838.2C204.9,838.8 203.2,839.4 201.5,839.9C199.9,840.5 198.2,841.1 196.5,841.7C194.9,842.3 193.2,842.9 191.5,843.6C189.8,844.2 188.2,844.8 186.5,845.5C184.8,846.2 183.2,846.9 181.5,847.6C179.8,848.4 178.2,849.1 176.5,849.9C174.8,850.7 173.2,851.6 171.5,852.5C169.8,853.4 168.1,854.3 166.5,855.3C164.8,856.3 163.1,857.4 161.5,858.5C159.8,859.6 158.1,860.7 156.5,861.9C154.8,863.1 153.1,864.4 151.5,865.7C149.8,867 148.1,868.4 146.4,869.8C144.8,871.2 143.1,872.7 141.4,874.2C139.8,875.6 138.1,877.1 136.4,878.6C134.8,880.1 133.1,881.6 131.4,883.1C129.8,884.7 128.1,886.2 126.4,887.7C124.7,889.3 123.1,890.8 121.4,892.4C119.7,893.9 117.2,896.2 116.4,897Z" fill="#a1cb9d"/>
<path d="M909.4,709.8C910.2,710.6 912.7,712.9 914.4,714.4C916,715.9 917.7,717.5 919.4,719C921,720.5 922.7,722 924.3,723.4C926,724.9 927.7,726.3 929.3,727.6C931,729 932.6,730.3 934.3,731.5C936,732.7 937.6,733.9 939.3,735C940.9,736.1 942.6,737.2 944.3,738.2C945.9,739.2 947.6,740.1 949.2,740.9C950.9,741.8 952.6,742.5 954.2,743.2C955.9,743.9 957.6,744.5 959.2,745.1C960.9,745.7 962.5,746.2 964.2,746.7C965.9,747.2 967.5,747.6 969.2,748C970.8,748.5 972.5,748.8 974.2,749.2C975.8,749.5 977.5,749.9 979.1,750.2C980.8,750.5 982.5,750.7 984.1,751C985.8,751.3 987.4,751.6 989.1,751.8C990.8,752.1 992.4,752.3 994.1,752.6C995.7,752.8 997.4,753 999.1,753.3C1000.7,753.5 1002.4,753.7 1004,754C1005.7,754.2 1007.4,754.5 1009,754.7C1010.7,755 1012.3,755.2 1014,755.5C1015.7,755.7 1017.3,756 1019,756.3C1020.6,756.6 1022.3,756.8 1024,757.1C1025.6,757.4 1027.3,757.7 1028.9,758C1030.6,758.3 1032.3,758.7 1033.9,759C1035.6,759.3 1037.2,759.7 1038.9,760C1040.6,760.4 1042.2,760.7 1043.9,761.1C1045.6,761.5 1047.2,761.9 1048.9,762.3C1050.5,762.7 1052.2,763.2 1053.9,763.6C1055.5,764.1 1057.2,764.6 1058.8,765.1C1060.5,765.6 1062.2,766.2 1063.8,766.8C1065.5,767.4 1067.1,768.1 1068.8,768.8C1070.5,769.5 1072.1,770.3 1073.8,771.1C1075.4,771.8 1077.1,772.7 1078.8,773.6C1080.4,774.5 1082.1,775.4 1083.7,776.4C1085.4,777.5 1087.1,778.5 1088.7,779.6C1090.4,780.7 1092,781.9 1093.7,783.1C1095.4,784.3 1097,785.5 1098.7,786.7C1100.3,787.9 1102,789.1 1103.7,790.3C1105.3,791.5 1107,792.7 1108.6,793.9C1110.3,795.2 1112,796.4 1113.6,797.6C1115.3,798.8 1116.9,800 1118.6,801.2C1120.3,802.4 1121.9,803.6 1123.6,804.8C1125.2,806 1126.9,807.2 1128.6,808.4C1130.2,809.6 1131.9,810.9 1133.5,812.1C1135.2,813.4 1136.9,814.7 1138.5,816.1C1140.2,817.4 1141.9,818.8 1143.5,820.2C1145.2,821.6 1146.8,823.1 1148.5,824.6C1150.2,826.2 1151.8,827.7 1153.5,829.4C1155.1,831 1156.8,832.6 1158.5,834.3C1160.1,836.1 1161.8,837.8 1163.4,839.6C1165.1,841.4 1166.8,843.2 1168.4,845C1170.1,846.8 1171.7,848.7 1173.4,850.6C1175.1,852.4 1176.7,854.3 1178.4,856.2C1180,858 1181.7,859.9 1183.4,861.8C1185,863.6 1186.7,865.5 1188.3,867.3C1190,869.2 1191.7,871 1193.3,872.8C1195,874.7 1196.6,876.5 1198.3,878.3C1200,880.1 1201.6,882 1203.3,883.8C1204.9,885.6 1206.6,887.4 1208.3,889.2C1209.9,891 1211.6,892.7 1213.2,894.5C1214.9,896.2 1216.6,898 1218.2,899.7C1219.9,901.4 1221.5,903.1 1223.2,904.8C1224.9,906.4 1226.5,908.1 1228.2,909.8C1229.9,911.4 1231.5,913.1 1233.2,914.7C1234.8,916.4 1236.5,918 1238.2,919.7C1239.8,921.3 1241.5,922.9 1243.1,924.5C1244.8,926.1 1246.5,927.6 1248.1,929.2C1249.8,930.7 1251.4,932.2 1253.1,933.7C1254.8,935.1 1256.4,936.5 1258.1,937.9C1259.7,939.3 1261.4,940.6 1263.1,941.9C1264.7,943.1 1266.4,944.4 1268,945.6C1269.7,946.8 1271.4,947.9 1273,949.1C1274.7,950.2 1276.3,951.3 1278,952.5C1279.7,953.6 1281.3,954.7 1283,955.8C1284.6,956.9 1286.3,958 1288,959C1289.6,960.1 1291.3,961.1 1292.9,962.1C1294.6,963.1 1296.3,964.1 1297.9,965C1299.6,965.9 1301.2,966.8 1302.9,967.7C1304.6,968.5 1306.2,969.3 1307.9,970C1309.5,970.8 1311.2,971.5 1312.9,972.1C1314.5,972.7 1316.2,973.3 1317.9,973.8C1319.5,974.3 1321.2,974.8 1322.8,975.2C1324.5,975.6 1326.2,976 1327.8,976.3C1329.5,976.6 1331.1,976.9 1332.8,977.1C1334.5,977.3 1336.1,977.4 1337.8,977.5C1339.4,977.7 1341.1,977.7 1342.8,977.8C1344.4,977.8 1346.1,977.8 1347.7,977.8C1349.4,977.8 1351.1,977.7 1352.7,977.6C1354.4,977.5 1356,977.4 1357.7,977.2C1359.4,977.1 1361,977 1362.7,976.8C1364.3,976.6 1366,976.5 1367.7,976.3C1369.3,976.2 1371,976 1372.6,975.8C1374.3,975.7 1376,975.5 1377.6,975.4C1379.3,975.2 1380.9,975.1 1382.6,975C1384.3,974.9 1385.9,974.8 1387.6,974.7C1389.2,974.6 1390.9,974.6 1392.6,974.5C1394.2,974.5 1395.9,974.5 1397.5,974.5C1399.2,974.5 1400.9,974.5 1402.5,974.5C1404.2,974.5 1405.8,974.6 1407.5,974.6C1409.2,974.7 1410.8,974.8 1412.5,974.9C1414.2,974.9 1415.8,975 1417.5,975.1C1419.1,975.2 1420.8,975.3 1422.5,975.4C1424.1,975.5 1425.8,975.6 1427.4,975.6C1429.1,975.7 1430.8,975.8 1432.4,975.8C1434.1,975.9 1435.7,976 1437.4,976C1439.1,976.1 1440.7,976.2 1442.4,976.2C1444,976.3 1445.7,976.4 1447.4,976.5C1449,976.6 1450.7,976.7 1452.3,976.8C1454,976.9 1455.7,977 1457.3,977.2C1459,977.3 1460.6,977.5 1462.3,977.7C1464,977.9 1465.6,978.1 1467.3,978.3C1468.9,978.5 1470.6,978.8 1472.3,979C1473.9,979.3 1475.6,979.5 1477.2,979.8C1478.9,980.1 1480.6,980.3 1482.2,980.6C1483.9,980.8 1485.5,981.1 1487.2,981.3C1488.9,981.5 1490.5,981.7 1492.2,981.9C1493.8,982.1 1495.5,982.3 1497.2,982.4C1498.8,982.5 1500.5,982.6 1502.2,982.6C1503.8,982.6 1505.5,982.5 1507.1,982.4C1508.8,982.4 1510.5,982.2 1512.1,982C1513.8,981.8 1515.4,981.6 1517.1,981.3C1518.8,981 1520.4,980.7 1522.1,980.3C1523.7,980 1525.4,979.5 1527.1,979.1C1528.7,978.6 1530.4,978.1 1532,977.6C1533.7,977.1 1535.4,976.5 1537,976C1538.7,975.5 1541.2,974.7 1542,974.4L1542,1116.4C1541.2,1115.4 1538.7,1112.3 1537,1110.3C1535.4,1108.3 1533.7,1106.2 1532,1104.2C1530.4,1102.2 1528.7,1100.2 1527.1,1098.2C1525.4,1096.2 1523.7,1094.3 1522.1,1092.4C1520.4,1090.5 1518.8,1088.6 1517.1,1086.7C1515.4,1084.9 1513.8,1083.1 1512.1,1081.3C1510.5,1079.6 1508.8,1077.9 1507.1,1076.3C1505.5,1074.7 1503.8,1073.1 1502.2,1071.7C1500.5,1070.2 1498.8,1068.9 1497.2,1067.6C1495.5,1066.3 1493.8,1065.1 1492.2,1064C1490.5,1062.9 1488.9,1061.8 1487.2,1060.7C1485.5,1059.7 1483.9,1058.7 1482.2,1057.8C1480.6,1056.9 1478.9,1056 1477.2,1055.1C1475.6,1054.3 1473.9,1053.5 1472.3,1052.7C1470.6,1051.9 1468.9,1051.1 1467.3,1050.4C1465.6,1049.6 1464,1048.9 1462.3,1048.2C1460.6,1047.5 1459,1046.8 1457.3,1046.1C1455.7,1045.4 1454,1044.8 1452.3,1044.1C1450.7,1043.5 1449,1042.8 1447.4,1042.2C1445.7,1041.6 1444,1041 1442.4,1040.4C1440.7,1039.8 1439.1,1039.2 1437.4,1038.6C1435.7,1038.1 1434.1,1037.5 1432.4,1037C1430.8,1036.5 1429.1,1036 1427.4,1035.5C1425.8,1035.1 1424.1,1034.6 1422.5,1034.2C1420.8,1033.8 1419.1,1033.4 1417.5,1033.1C1415.8,1032.8 1414.2,1032.4 1412.5,1032.2C1410.8,1031.9 1409.2,1031.6 1407.5,1031.4C1405.8,1031.2 1404.2,1031 1402.5,1030.9C1400.9,1030.7 1399.2,1030.6 1397.5,1030.5C1395.9,1030.5 1394.2,1030.4 1392.6,1030.4C1390.9,1030.4 1389.2,1030.4 1387.6,1030.4C1385.9,1030.4 1384.3,1030.5 1382.6,1030.6C1380.9,1030.7 1379.3,1030.8 1377.6,1030.9C1376,1031.1 1374.3,1031.2 1372.6,1031.4C1371,1031.5 1369.3,1031.7 1367.7,1031.9C1366,1032.1 1364.3,1032.4 1362.7,1032.6C1361,1032.8 1359.4,1033.1 1357.7,1033.4C1356,1033.6 1354.4,1033.9 1352.7,1034.2C1351.1,1034.5 1349.4,1034.7 1347.7,1035C1346.1,1035.3 1344.4,1035.6 1342.8,1035.9C1341.1,1036.2 1339.4,1036.5 1337.8,1036.8C1336.1,1037 1334.5,1037.3 1332.8,1037.4C1331.1,1037.6 1329.5,1037.8 1327.8,1037.8C1326.2,1037.9 1324.5,1038 1322.8,1037.9C1321.2,1037.9 1319.5,1037.8 1317.9,1037.7C1316.2,1037.5 1314.5,1037.3 1312.9,1037.1C1311.2,1036.8 1309.5,1036.4 1307.9,1036C1306.2,1035.5 1304.6,1035 1302.9,1034.4C1301.2,1033.8 1299.6,1033.2 1297.9,1032.4C1296.3,1031.7 1294.6,1030.9 1292.9,1030C1291.3,1029.1 1289.6,1028.1 1288,1027.1C1286.3,1026 1284.6,1024.9 1283,1023.7C1281.3,1022.5 1279.7,1021.3 1278,1020C1276.3,1018.7 1274.7,1017.3 1273,1016C1271.4,1014.6 1269.7,1013.2 1268,1011.8C1266.4,1010.4 1264.7,1008.9 1263.1,1007.6C1261.4,1006.2 1259.7,1004.8 1258.1,1003.5C1256.4,1002.2 1254.8,1000.9 1253.1,999.6C1251.4,998.2 1249.8,996.9 1248.1,995.4C1246.5,994 1244.8,992.4 1243.1,990.7C1241.5,989 1239.8,987.2 1238.2,985.3C1236.5,983.5 1234.8,981.5 1233.2,979.6C1231.5,977.6 1229.9,975.6 1228.2,973.6C1226.5,971.7 1224.9,969.7 1223.2,967.7C1221.5,965.7 1219.9,963.7 1218.2,961.7C1216.6,959.8 1214.9,957.8 1213.2,955.8C1211.6,953.8 1209.9,951.8 1208.3,949.8C1206.6,947.8 1204.9,945.8 1203.3,943.8C1201.6,941.8 1200,939.8 1198.3,937.8C1196.6,935.8 1195,933.9 1193.3,931.9C1191.7,929.9 1190,928 1188.3,926C1186.7,924.1 1185,922.2 1183.4,920.3C1181.7,918.4 1180,916.6 1178.4,914.8C1176.7,912.9 1175.1,911.2 1173.4,909.4C1171.7,907.6 1170.1,905.9 1168.4,904.2C1166.8,902.5 1165.1,900.8 1163.4,899.1C1161.8,897.4 1160.1,895.8 1158.5,894.1C1156.8,892.5 1155.1,890.9 1153.5,889.3C1151.8,887.7 1150.2,886.1 1148.5,884.6C1146.8,883 1145.2,881.5 1143.5,880C1141.9,878.5 1140.2,877 1138.5,875.6C1136.9,874.2 1135.2,872.7 1133.5,871.3C1131.9,870 1130.2,868.6 1128.6,867.3C1126.9,865.9 1125.2,864.6 1123.6,863.3C1121.9,862.1 1120.3,860.8 1118.6,859.6C1116.9,858.3 1115.3,857.1 1113.6,855.9C1112,854.7 1110.3,853.6 1108.6,852.4C1107,851.3 1105.3,850.2 1103.7,849.2C1102,848.1 1100.3,847.1 1098.7,846.1C1097,845.1 1095.4,844.2 1093.7,843.3C1092,842.4 1090.4,841.5 1088.7,840.6C1087.1,839.8 1085.4,839 1083.7,838.2C1082.1,837.5 1080.4,836.8 1078.8,836.1C1077.1,835.4 1075.4,834.8 1073.8,834.2C1072.1,833.6 1070.5,833 1068.8,832.5C1067.1,831.9 1065.5,831.4 1063.8,831C1062.2,830.5 1060.5,830.1 1058.8,829.8C1057.2,829.4 1055.5,829.1 1053.9,828.8C1052.2,828.5 1050.5,828.3 1048.9,828.1C1047.2,827.9 1045.6,827.7 1043.9,827.6C1042.2,827.5 1040.6,827.4 1038.9,827.3C1037.2,827.3 1035.6,827.3 1033.9,827.3C1032.3,827.3 1030.6,827.4 1028.9,827.5C1027.3,827.6 1025.6,827.8 1024,828C1022.3,828.2 1020.6,828.4 1019,828.7C1017.3,829 1015.7,829.3 1014,829.7C1012.3,830.1 1010.7,830.5 1009,831C1007.4,831.4 1005.7,831.9 1004,832.5C1002.4,833 1000.7,833.6 999.1,834.2C997.4,834.9 995.7,835.5 994.1,836.3C992.4,837 990.8,837.7 989.1,838.5C987.4,839.3 985.8,840.2 984.1,841.1C982.5,842 980.8,842.9 979.1,843.9C977.5,844.8 975.8,845.9 974.2,846.9C972.5,848 970.8,849.1 969.2,850.2C967.5,851.4 965.9,852.6 964.2,853.8C962.5,855.1 960.9,856.3 959.2,857.7C957.6,859 955.9,860.4 954.2,861.8C952.6,863.3 950.9,864.7 949.2,866.3C947.6,867.9 945.9,869.5 944.3,871.2C942.6,872.8 940.9,874.6 939.3,876.3C937.6,878.1 936,879.9 934.3,881.7C932.6,883.6 931,885.5 929.3,887.4C927.7,889.3 926,891.2 924.3,893.1C922.7,895.1 921,897.1 919.4,899C917.7,901 916,903 914.4,905C912.7,907 910.2,910 909.4,911Z" fill="#e7e09a"/>
<g fill="#3366ff">
<circle cx="272.4" cy="28.1" r="2.95"/>
<circle cx="214.5" cy="43.6" r="2.95"/>
<circle cx="272.4" cy="43.6" r="2.95"/>
<circle cx="349.6" cy="43.6" r="2.95"/>
<circle cx="368.9" cy="43.6" r="2.95"/>
<circle cx="388.2" cy="43.6" r="2.95"/>
<circle cx="368.9" cy="59.1" r="2.95"/>
<circle cx="388.2" cy="59.1" r="2.95"/>
<circle cx="407.4" cy="59.1" r="2.95"/>
<circle cx="446" cy="59.1" r="2.95"/>
<circle cx="195.2" cy="74.5" r="3.85"/>
<circle cx="311" cy="74.5" r="2.95"/>
<circle cx="484.6" cy="74.5" r="3.85"/>
<circle cx="118.1" cy="90" r="2.95"/>
<circle cx="214.5" cy="90" r="2.95"/>
<circle cx="233.8" cy="90" r="2.95"/>
<circle cx="253.1" cy="90" r="2.95"/>
<circle cx="291.7" cy="90" r="2.95"/>
<circle cx="311" cy="90" r="4.65"/>
<circle cx="330.3" cy="90" r="2.95"/>
<circle cx="368.9" cy="90" r="2.95"/>
<circle cx="388.2" cy="90" r="2.95"/>
<circle cx="523.2" cy="90" r="2.95"/>
<circle cx="176" cy="105.5" r="2.95"/>
<circle cx="214.5" cy="105.5" r="2.95"/>
<circle cx="368.9" cy="105.5" r="2.95"/>
<circle cx="388.2" cy="105.5" r="2.95"/>
<circle cx="484.6" cy="105.5" r="2.95"/>
<circle cx="233.8" cy="120.9" r="2.95"/>
<circle cx="253.1" cy="120.9" r="4.65"/>
<circle cx="272.4" cy="120.9" r="2.95"/>
<circle cx="311" cy="120.9" r="2.95"/>
<circle cx="330.3" cy="120.9" r="2.95"/>
<circle cx="368.9" cy="120.9" r="4.65"/>
<circle cx="407.4" cy="120.9" r="3.85"/>
<circle cx="426.7" cy="120.9" r="2.95"/>
<circle cx="523.2" cy="120.9" r="2.95"/>
<circle cx="176" cy="136.4" r="2.95"/>
<circle cx="214.5" cy="136.4" r="2.95"/>
<circle cx="253.1" cy="136.4" r="3.85"/>
<circle cx="272.4" cy="136.4" r="3.85"/>
<circle cx="291.7" cy="136.4" r="3.85"/>
<circle cx="330.3" cy="136.4" r="2.95"/>
<circle cx="349.6" cy="136.4" r="2.95"/>
<circle cx="368.9" cy="136.4" r="2.95"/>
<circle cx="388.2" cy="136.4" r="2.95"/>
<circle cx="407.4" cy="136.4" r="2.95"/>
<circle cx="446" cy="136.4" r="3.85"/>
<circle cx="465.3" cy="136.4" r="2.95"/>
<circle cx="137.4" cy="151.9" r="2.95"/>
<circle cx="195.2" cy="151.9" r="2.95"/>
<circle cx="214.5" cy="151.9" r="3.85"/>
<circle cx="272.4" cy="151.9" r="3.85"/>
<circle cx="330.3" cy="151.9" r="2.95"/>
<circle cx="349.6" cy="151.9" r="2.95"/>
<circle cx="368.9" cy="151.9" r="4.65"/>
<circle cx="407.4" cy="151.9" r="5.48"/>
<circle cx="658.2" cy="151.9" r="2.95"/>
<circle cx="214.5" cy="167.4" r="2.95"/>
<circle cx="253.1" cy="167.4" r="3.85"/>
<circle cx="272.4" cy="167.4" r="2.95"/>
<circle cx="330.3" cy="167.4" r="2.95"/>
<circle cx="349.6" cy="167.4" r="2.95"/>
<circle cx="368.9" cy="167.4" r="3.85"/>
<circle cx="388.2" cy="167.4" r="4.65"/>
<circle cx="407.4" cy="167.4" r="2.95"/>
<circle cx="137.4" cy="182.8" r="2.95"/>
<circle cx="176" cy="182.8" r="2.95"/>
<circle cx="253.1" cy="182.8" r="2.95"/>
<circle cx="272.4" cy="182.8" r="2.95"/>
<circle cx="291.7" cy="182.8" r="3.85"/>
<circle cx="311" cy="182.8" r="3.85"/>
<circle cx="330.3" cy="182.8" r="3.85"/>
<circle cx="349.6" cy="182.8" r="2.95"/>
<circle cx="368.9" cy="182.8" r="3.85"/>
<circle cx="407.4" cy="182.8" r="5.48"/>
<circle cx="426.7" cy="182.8" r="2.95"/>
<circle cx="446" cy="182.8" r="2.95"/>
<circle cx="484.6" cy="182.8" r="2.95"/>
<circle cx="696.8" cy="182.8" r="2.95"/>
<circle cx="291.7" cy="198.3" r="3.85"/>
<circle cx="311" cy="198.3" r="2.95"/>
<circle cx="330.3" cy="198.3" r="3.85"/>
<circle cx="349.6" cy="198.3" r="3.85"/>
<circle cx="368.9" cy="198.3" r="5.48"/>
<circle cx="388.2" cy="198.3" r="4.65"/>
<circle cx="407.4" cy="198.3" r="3.85"/>
<circle cx="426.7" cy="198.3" r="2.95"/>
<circle cx="542.5" cy="198.3" r="2.95"/>
<circle cx="195.2" cy="213.8" r="2.95"/>
<circle cx="214.5" cy="213.8" r="2.95"/>
<circle cx="233.8" cy="213.8" r="2.95"/>
<circle cx="253.1" cy="213.8" r="3.85"/>
<circle cx="272.4" cy="213.8" r="2.95"/>
<circle cx="291.7" cy="213.8" r="2.95"/>
<circle cx="311" cy="213.8" r="2.95"/>
<circle cx="330.3" cy="213.8" r="3.85"/>
<circle cx="349.6" cy="213.8" r="5.48"/>
<circle cx="368.9" cy="213.8" r="4.65"/>
<circle cx="388.2" cy="213.8" r="3.85"/>
<circle cx="407.4" cy="213.8" r="4.65"/>
<circle cx="419" cy="213.8" r="2.95"/>
<circle cx="98.8" cy="229.2" r="2.95"/>
<circle cx="195.2" cy="229.2" r="2.95"/>
<circle cx="214.5" cy="229.2" r="3.85"/>
<circle cx="253.1" cy="229.2" r="2.95"/>
<circle cx="291.7" cy="229.2" r="4.65"/>
<circle cx="311" cy="229.2" r="2.95"/>
<circle cx="349.6" cy="229.2" r="2.95"/>
<circle cx="368.9" cy="229.2" r="3.85"/>
<circle cx="388.2" cy="229.2" r="3.85"/>
<circle cx="407.4" cy="229.2" r="4.65"/>
<circle cx="465.3" cy="229.2" r="2.95"/>
<circle cx="176" cy="244.7" r="2.95"/>
<circle cx="214.5" cy="244.7" r="2.95"/>
<circle cx="253.1" cy="244.7" r="3.85"/>
<circle cx="272.4" cy="244.7" r="2.95"/>
<circle cx="291.7" cy="244.7" r="2.95"/>
<circle cx="330.3" cy="244.7" r="5.48"/>
<circle cx="349.6" cy="244.7" r="2.95"/>
<circle cx="368.9" cy="244.7" r="7.1"/>
<circle cx="388.2" cy="244.7" r="3.85"/>
<circle cx="407.4" cy="244.7" r="3.85"/>
<circle cx="426.7" cy="244.7" r="3.85"/>
<circle cx="446" cy="244.7" r="5.48"/>
<circle cx="561.8" cy="244.7" r="2.95"/>
<circle cx="214.5" cy="260.2" r="2.95"/>
<circle cx="272.4" cy="260.2" r="2.95"/>
<circle cx="349.6" cy="260.2" r="3.85"/>
<circle cx="388.2" cy="260.2" r="5.48"/>
<circle cx="407.4" cy="260.2" r="3.85"/>
<circle cx="176" cy="275.7" r="3.85"/>
<circle cx="233.8" cy="275.7" r="2.95"/>
<circle cx="272.4" cy="275.7" r="2.95"/>
<circle cx="311" cy="275.7" r="2.95"/>
<circle cx="330.3" cy="275.7" r="3.85"/>
<circle cx="349.6" cy="275.7" r="2.95"/>
<circle cx="368.9" cy="275.7" r="4.65"/>
<circle cx="388.2" cy="275.7" r="3.85"/>
<circle cx="407.4" cy="275.7" r="3.85"/>
<circle cx="426.7" cy="275.7" r="3.85"/>
<circle cx="446" cy="275.7" r="3.85"/>
<circle cx="658.2" cy="275.7" r="2.95"/>
<circle cx="716.1" cy="275.7" r="2.95"/>
<circle cx="195.2" cy="282.8" r="2.95"/>
<circle cx="291.7" cy="282.8" r="2.95"/>
<circle cx="349.6" cy="284.9" r="2.95"/>
<circle cx="407.4" cy="284.9" r="2.95"/>
<circle cx="291.7" cy="291.1" r="4.65"/>
<circle cx="311" cy="291.1" r="2.95"/>
<circle cx="349.6" cy="291.1" r="4.65"/>
<circle cx="368.9" cy="291.1" r="3.85"/>
<circle cx="388.2" cy="291.1" r="2.95"/>
<circle cx="426.7" cy="291.1" r="4.65"/>
<circle cx="438.3" cy="291.1" r="2.95"/>
<circle cx="446" cy="291.1" r="4.65"/>
<circle cx="600.3" cy="291.1" r="2.95"/>
<circle cx="677.5" cy="291.1" r="2.95"/>
<circle cx="754.7" cy="291.1" r="2.95"/>
<circle cx="773.9" cy="291.1" r="2.95"/>
<circle cx="638.9" cy="297.3" r="2.95"/>
<circle cx="98.8" cy="306.6" r="2.95"/>
<circle cx="137.4" cy="306.6" r="2.95"/>
<circle cx="156.7" cy="306.6" r="2.95"/>
<circle cx="214.5" cy="306.6" r="3.85"/>
<circle cx="291.7" cy="306.6" r="2.95"/>
<circle cx="330.3" cy="306.6" r="2.95"/>
<circle cx="349.6" cy="306.6" r="2.95"/>
<circle cx="368.9" cy="306.6" r="4.65"/>
<circle cx="388.2" cy="306.6" r="2.95"/>
<circle cx="407.4" cy="306.6" r="2.95"/>
<circle cx="426.7" cy="306.6" r="4.65"/>
<circle cx="446" cy="306.6" r="4.65"/>
<circle cx="457.6" cy="306.6" r="2.95"/>
<circle cx="484.6" cy="306.6" r="3.85"/>
<circle cx="523.2" cy="306.6" r="3.85"/>
<circle cx="542.5" cy="306.6" r="2.95"/>
<circle cx="561.8" cy="306.6" r="2.95"/>
<circle cx="619.6" cy="306.6" r="2.95"/>
<circle cx="638.9" cy="306.6" r="5.48"/>
<circle cx="677.5" cy="306.6" r="3.85"/>
<circle cx="716.1" cy="306.6" r="4.65"/>
<circle cx="137.4" cy="313.7" r="2.95"/>
<circle cx="272.4" cy="313.7" r="2.95"/>
<circle cx="465.3" cy="319" r="2.95"/>
<circle cx="176" cy="322.1" r="4.65"/>
<circle cx="214.5" cy="322.1" r="3.85"/>
<circle cx="272.4" cy="322.1" r="2.95"/>
<circle cx="291.7" cy="322.1" r="2.95"/>
<circle cx="330.3" cy="322.1" r="3.85"/>
<circle cx="349.6" cy="322.1" r="2.95"/>
<circle cx="407.4" cy="322.1" r="2.95"/>
<circle cx="446" cy="322.1" r="4.65"/>
<circle cx="484.6" cy="322.1" r="3.85"/>
<circle cx="523.2" cy="322.1" r="2.95"/>
<circle cx="561.8" cy="322.1" r="2.95"/>
<circle cx="581" cy="322.1" r="2.95"/>
<circle cx="658.2" cy="322.1" r="2.95"/>
<circle cx="677.5" cy="322.1" r="2.95"/>
<circle cx="696.8" cy="322.1" r="2.95"/>
<circle cx="716.1" cy="322.1" r="3.85"/>
<circle cx="754.7" cy="322.1" r="2.95"/>
<circle cx="137.4" cy="337.5" r="2.95"/>
<circle cx="176" cy="337.5" r="5.48"/>
<circle cx="214.5" cy="337.5" r="2.95"/>
<circle cx="233.8" cy="337.5" r="2.95"/>
<circle cx="311" cy="337.5" r="2.95"/>
<circle cx="330.3" cy="337.5" r="2.95"/>
<circle cx="349.6" cy="337.5" r="2.95"/>
<circle cx="388.2" cy="337.5" r="2.95"/>
<circle cx="407.4" cy="337.5" r="3.85"/>
<circle cx="426.7" cy="337.5" r="4.65"/>
<circle cx="446" cy="337.5" r="3.85"/>
<circle cx="465.3" cy="337.5" r="2.95"/>
<circle cx="484.6" cy="337.5" r="2.95"/>
<circle cx="503.9" cy="337.5" r="4.65"/>
<circle cx="523.2" cy="337.5" r="7.1"/>
<circle cx="561.8" cy="337.5" r="4.65"/>
<circle cx="600.3" cy="337.5" r="3.85"/>
<circle cx="619.6" cy="337.5" r="5.48"/>
<circle cx="638.9" cy="337.5" r="5.48"/>
<circle cx="658.2" cy="337.5" r="2.95"/>
<circle cx="677.5" cy="337.5" r="3.85"/>
<circle cx="696.8" cy="337.5" r="2.95"/>
<circle cx="716.1" cy="337.5" r="3.85"/>
<circle cx="581" cy="343.7" r="2.95"/>
<circle cx="503.9" cy="340.6" r="2.95"/>
<circle cx="195.2" cy="353" r="2.95"/>
<circle cx="330.3" cy="353" r="2.95"/>
<circle cx="407.4" cy="353" r="3.85"/>
<circle cx="465.3" cy="353" r="2.95"/>
<circle cx="484.6" cy="353" r="2.95"/>
<circle cx="503.9" cy="353" r="3.85"/>
<circle cx="523.2" cy="353" r="4.65"/>
<circle cx="542.5" cy="353" r="2.95"/>
<circle cx="561.8" cy="353" r="2.95"/>
<circle cx="581" cy="353" r="3.85"/>
<circle cx="600.3" cy="353" r="2.95"/>
<circle cx="619.6" cy="353" r="2.95"/>
<circle cx="658.2" cy="353" r="4.65"/>
<circle cx="716.1" cy="353" r="2.95"/>
<circle cx="735.4" cy="353" r="2.95"/>
<circle cx="291.7" cy="368.5" r="2.95"/>
<circle cx="311" cy="368.5" r="2.95"/>
<circle cx="446" cy="368.5" r="3.85"/>
<circle cx="465.3" cy="368.5" r="3.85"/>
<circle cx="473" cy="368.5" r="3.85"/>
<circle cx="484.6" cy="368.5" r="4.65"/>
<circle cx="503.9" cy="368.5" r="2.95"/>
<circle cx="523.2" cy="368.5" r="5.48"/>
<circle cx="542.5" cy="368.5" r="3.85"/>
<circle cx="554" cy="368.5" r="2.95"/>
<circle cx="561.8" cy="368.5" r="5.48"/>
<circle cx="581" cy="368.5" r="2.95"/>
<circle cx="600.3" cy="368.5" r="2.95"/>
<circle cx="619.6" cy="368.5" r="2.95"/>
<circle cx="638.9" cy="368.5" r="6.29"/>
<circle cx="658.2" cy="368.5" r="2.95"/>
<circle cx="677.5" cy="368.5" r="5.48"/>
<circle cx="696.8" cy="368.5" r="3.85"/>
<circle cx="716.1" cy="368.5" r="2.95"/>
<circle cx="773.9" cy="368.5" r="2.95"/>
<circle cx="426.7" cy="384" r="2.95"/>
<circle cx="446" cy="384" r="4.65"/>
<circle cx="465.3" cy="384" r="2.95"/>
<circle cx="484.6" cy="384" r="4.65"/>
<circle cx="503.9" cy="384" r="2.95"/>
<circle cx="523.2" cy="384" r="4.65"/>
<circle cx="542.5" cy="384" r="3.85"/>
<circle cx="561.8" cy="384" r="3.85"/>
<circle cx="581" cy="384" r="4.65"/>
<circle cx="600.3" cy="384" r="2.95"/>
<circle cx="619.6" cy="384" r="2.95"/>
<circle cx="638.9" cy="384" r="2.95"/>
<circle cx="677.5" cy="384" r="2.95"/>
<circle cx="716.1" cy="384" r="2.95"/>
<circle cx="214.5" cy="399.4" r="2.95"/>
<circle cx="291.7" cy="399.4" r="2.95"/>
<circle cx="407.4" cy="399.4" r="2.95"/>
<circle cx="438.3" cy="399.4" r="2.95"/>
<circle cx="453.7" cy="399.4" r="2.95"/>
<circle cx="465.3" cy="399.4" r="5.48"/>
<circle cx="484.6" cy="399.4" r="5.48"/>
<circle cx="503.9" cy="399.4" r="4.65"/>
<circle cx="523.2" cy="399.4" r="3.85"/>
<circle cx="542.5" cy="399.4" r="2.95"/>
<circle cx="561.8" cy="399.4" r="4.65"/>
<circle cx="581" cy="399.4" r="5.48"/>
<circle cx="600.3" cy="399.4" r="5.48"/>
<circle cx="619.6" cy="399.4" r="2.95"/>
<circle cx="638.9" cy="399.4" r="2.95"/>
<circle cx="658.2" cy="399.4" r="3.85"/>
<circle cx="677.5" cy="399.4" r="3.85"/>
<circle cx="696.8" cy="399.4" r="3.85"/>
<circle cx="716.1" cy="399.4" r="2.95"/>
<circle cx="735.4" cy="399.4" r="2.95"/>
<circle cx="773.9" cy="399.4" r="2.95"/>
<circle cx="600.3" cy="408.7" r="3.85"/>
<circle cx="407.4" cy="414.9" r="2.95"/>
<circle cx="523.2" cy="414.9" r="2.95"/>
<circle cx="542.5" cy="414.9" r="3.85"/>
<circle cx="581" cy="414.9" r="4.65"/>
<circle cx="600.3" cy="414.9" r="5.48"/>
<circle cx="619.6" cy="414.9" r="2.95"/>
<circle cx="638.9" cy="414.9" r="3.85"/>
<circle cx="658.2" cy="414.9" r="2.95"/>
<circle cx="291.7" cy="430.4" r="2.95"/>
<circle cx="311" cy="430.4" r="2.95"/>
<circle cx="388.2" cy="430.4" r="2.95"/>
<circle cx="407.4" cy="430.4" r="2.95"/>
<circle cx="484.6" cy="430.4" r="3.85"/>
<circle cx="600.3" cy="430.4" r="3.85"/>
<circle cx="619.6" cy="430.4" r="4.65"/>
<circle cx="638.9" cy="430.4" r="5.48"/>
<circle cx="658.2" cy="430.4" r="4.65"/>
<circle cx="677.5" cy="430.4" r="2.95"/>
<circle cx="696.8" cy="430.4" r="3.85"/>
<circle cx="716.1" cy="430.4" r="3.85"/>
<circle cx="754.7" cy="430.4" r="2.95"/>
<circle cx="272.4" cy="445.9" r="2.95"/>
<circle cx="311" cy="445.9" r="2.95"/>
<circle cx="368.9" cy="445.9" r="2.95"/>
<circle cx="484.6" cy="445.9" r="2.95"/>
<circle cx="523.2" cy="445.9" r="3.85"/>
<circle cx="561.8" cy="445.9" r="3.85"/>
<circle cx="600.3" cy="445.9" r="2.95"/>
<circle cx="619.6" cy="445.9" r="3.85"/>
<circle cx="677.5" cy="445.9" r="2.95"/>
<circle cx="773.9" cy="445.9" r="2.95"/>
<circle cx="233.8" cy="461.3" r="2.95"/>
<circle cx="407.4" cy="461.3" r="3.85"/>
<circle cx="446" cy="461.3" r="2.95"/>
<circle cx="465.3" cy="461.3" r="2.95"/>
<circle cx="484.6" cy="461.3" r="2.95"/>
<circle cx="503.9" cy="461.3" r="2.95"/>
<circle cx="523.2" cy="461.3" r="2.95"/>
<circle cx="600.3" cy="461.3" r="3.85"/>
<circle cx="619.6" cy="461.3" r="4.65"/>
<circle cx="638.9" cy="461.3" r="3.85"/>
<circle cx="658.2" cy="461.3" r="2.95"/>
<circle cx="677.5" cy="461.3" r="3.85"/>
<circle cx="696.8" cy="461.3" r="2.95"/>
<circle cx="716.1" cy="461.3" r="4.65"/>
<circle cx="291.7" cy="476.8" r="2.95"/>
<circle cx="484.6" cy="476.8" r="2.95"/>
<circle cx="503.9" cy="476.8" r="2.95"/>
<circle cx="600.3" cy="476.8" r="2.95"/>
<circle cx="638.9" cy="476.8" r="3.85"/>
<circle cx="716.1" cy="476.8" r="2.95"/>
<circle cx="773.9" cy="476.8" r="2.95"/>
<circle cx="349.6" cy="492.3" r="2.95"/>
<circle cx="407.4" cy="492.3" r="2.95"/>
<circle cx="426.7" cy="492.3" r="2.95"/>
<circle cx="446" cy="492.3" r="5.48"/>
<circle cx="465.3" cy="492.3" r="2.95"/>
<circle cx="484.6" cy="492.3" r="3.85"/>
<circle cx="503.9" cy="492.3" r="2.95"/>
<circle cx="581" cy="492.3" r="2.95"/>
<circle cx="677.5" cy="492.3" r="2.95"/>
<circle cx="696.8" cy="492.3" r="2.95"/>
<circle cx="214.5" cy="507.7" r="2.95"/>
<circle cx="368.9" cy="507.7" r="2.95"/>
<circle cx="434.4" cy="507.7" r="2.95"/>
<circle cx="561.8" cy="507.7" r="3.85"/>
<circle cx="619.6" cy="507.7" r="2.95"/>
<circle cx="638.9" cy="507.7" r="3.85"/>
<circle cx="696.8" cy="507.7" r="2.95"/>
<circle cx="233.8" cy="523.2" r="2.95"/>
<circle cx="368.9" cy="523.2" r="2.95"/>
<circle cx="484.6" cy="523.2" r="2.95"/>
<circle cx="523.2" cy="523.2" r="3.85"/>
<circle cx="638.9" cy="523.2" r="3.85"/>
<circle cx="658.2" cy="523.2" r="2.95"/>
<circle cx="677.5" cy="523.2" r="2.95"/>
<circle cx="785.5" cy="523.2" r="2.95"/>
<circle cx="368.9" cy="538.7" r="2.95"/>
<circle cx="465.3" cy="538.7" r="2.95"/>
<circle cx="658.2" cy="538.7" r="2.95"/>
<circle cx="446" cy="554.2" r="2.95"/>
<circle cx="465.3" cy="554.2" r="2.95"/>
<circle cx="503.9" cy="554.2" r="2.95"/>
<circle cx="600.3" cy="554.2" r="2.95"/>
<circle cx="638.9" cy="554.2" r="2.95"/>
<circle cx="716.1" cy="554.2" r="3.85"/>
<circle cx="272.4" cy="569.6" r="2.95"/>
<circle cx="426.7" cy="569.6" r="2.95"/>
<circle cx="561.8" cy="569.6" r="2.95"/>
<circle cx="696.8" cy="569.6" r="2.95"/>
<circle cx="735.4" cy="569.6" r="2.95"/>
<circle cx="754.7" cy="569.6" r="2.95"/>
<circle cx="735.4" cy="582" r="2.95"/>
<circle cx="754.7" cy="582" r="2.95"/>
</g>
<path d="M99,260.8C99.8,260.5 102.3,259.5 104,258.9C105.7,258.3 107.3,257.6 109,257C110.7,256.4 112.4,255.7 114,255.1C115.7,254.4 117.4,253.8 119,253.2C120.7,252.5 122.4,251.9 124,251.3C125.7,250.7 127.4,250.1 129.1,249.5C130.7,248.9 132.4,248.3 134.1,247.8C135.7,247.2 137.4,246.7 139.1,246.2C140.7,245.7 142.4,245.3 144.1,244.8C145.8,244.4 147.4,244 149.1,243.6C150.8,243.2 152.4,242.8 154.1,242.4C155.8,242 157.4,241.7 159.1,241.3C160.8,240.9 162.5,240.5 164.1,240.2C165.8,239.8 167.5,239.5 169.1,239.1C170.8,238.8 172.5,238.5 174.1,238.2C175.8,237.9 177.5,237.7 179.2,237.5C180.8,237.2 182.5,237.1 184.2,236.9C185.8,236.7 187.5,236.5 189.2,236.4C190.8,236.2 192.5,236.1 194.2,235.9C195.9,235.8 197.5,235.7 199.2,235.5C200.9,235.4 202.5,235.2 204.2,235.1C205.9,235 207.5,234.9 209.2,234.7C210.9,234.6 212.5,234.5 214.2,234.5C215.9,234.4 217.6,234.3 219.2,234.3C220.9,234.2 222.6,234.2 224.2,234.2C225.9,234.1 227.6,234.1 229.2,234.1C230.9,234.1 232.6,234.1 234.3,234C235.9,234 237.6,234 239.3,234C240.9,234 242.6,234 244.3,234C245.9,234 247.6,234 249.3,233.9C251,233.9 252.6,233.9 254.3,233.9C256,233.9 257.6,233.9 259.3,233.9C261,233.9 262.6,233.9 264.3,233.8C266,233.8 267.7,233.8 269.3,233.7C271,233.6 272.7,233.5 274.3,233.4C276,233.3 277.7,233.2 279.3,233C281,232.9 282.7,232.7 284.4,232.5C286,232.3 287.7,232.1 289.4,231.8C291,231.6 292.7,231.3 294.4,231C296,230.7 297.7,230.3 299.4,230C301,229.6 302.7,229.3 304.4,228.9C306.1,228.6 307.7,228.2 309.4,227.9C311.1,227.5 312.7,227.2 314.4,226.9C316.1,226.6 317.7,226.3 319.4,226.1C321.1,225.8 322.8,225.6 324.4,225.3C326.1,225.1 327.8,224.9 329.4,224.7C331.1,224.6 332.8,224.4 334.4,224.3C336.1,224.2 337.8,224.1 339.5,224.1C341.1,224.1 342.8,224.1 344.5,224.1C346.1,224.2 347.8,224.3 349.5,224.6C351.1,224.8 352.8,225.1 354.5,225.5C356.2,225.9 357.8,226.4 359.5,226.9C361.2,227.4 362.8,228 364.5,228.7C366.2,229.4 367.8,230.1 369.5,230.9C371.2,231.7 372.9,232.5 374.5,233.5C376.2,234.5 377.9,235.6 379.5,236.8C381.2,238 382.9,239.2 384.5,240.7C386.2,242.1 387.9,243.6 389.6,245.3C391.2,246.9 392.9,248.7 394.6,250.6C396.2,252.5 397.9,254.5 399.6,256.6C401.2,258.6 402.9,260.8 404.6,263C406.2,265.2 407.9,267.4 409.6,269.7C411.3,272 412.9,274.3 414.6,276.7C416.3,279 417.9,281.4 419.6,283.9C421.3,286.3 422.9,288.8 424.6,291.4C426.3,293.9 428,296.5 429.6,299.1C431.3,301.7 433,304.3 434.6,306.9C436.3,309.6 438,312.2 439.6,314.9C441.3,317.5 443,320.2 444.7,322.8C446.3,325.4 448,328 449.7,330.5C451.3,333 453,335.5 454.7,337.9C456.3,340.2 458,342.5 459.7,344.7C461.4,346.9 463,348.9 464.7,350.9C466.4,352.8 468,354.5 469.7,356.2C471.4,357.8 473,359.2 474.7,360.5C476.4,361.8 478.1,363 479.7,364C481.4,365 483.1,365.8 484.7,366.6C486.4,367.4 488.1,368 489.7,368.5C491.4,369.1 493.1,369.5 494.7,369.9C496.4,370.3 498.1,370.6 499.8,370.9C501.4,371.2 503.1,371.5 504.8,371.8C506.4,372 508.1,372.2 509.8,372.5C511.4,372.7 513.1,373 514.8,373.2C516.5,373.5 518.1,373.8 519.8,374.1C521.5,374.4 523.1,374.8 524.8,375.2C526.5,375.6 528.1,376.1 529.8,376.6C531.5,377 533.2,377.6 534.8,378.1C536.5,378.6 538.2,379.1 539.8,379.7C541.5,380.2 543.2,380.8 544.8,381.3C546.5,381.9 548.2,382.4 549.9,383C551.5,383.5 553.2,384 554.9,384.6C556.5,385.1 558.2,385.7 559.9,386.2C561.5,386.7 563.2,387.2 564.9,387.7C566.6,388.3 568.2,388.8 569.9,389.3C571.6,389.8 573.2,390.3 574.9,390.8C576.6,391.2 578.2,391.7 579.9,392.2C581.6,392.7 583.3,393.2 584.9,393.7C586.6,394.2 588.3,394.7 589.9,395.1C591.6,395.6 593.3,396 594.9,396.5C596.6,396.9 598.3,397.2 599.9,397.6C601.6,397.9 603.3,398.2 605,398.5C606.6,398.7 608.3,398.9 610,399.1C611.6,399.3 613.3,399.5 615,399.6C616.6,399.7 618.3,399.7 620,399.8C621.7,399.8 623.3,399.8 625,399.8C626.7,399.8 628.3,399.7 630,399.6C631.7,399.6 633.3,399.5 635,399.4C636.7,399.3 638.4,399.2 640,399C641.7,398.9 643.4,398.8 645,398.7C646.7,398.6 648.4,398.4 650,398.3C651.7,398.2 653.4,398.1 655.1,397.9C656.7,397.8 658.4,397.7 660.1,397.5C661.7,397.4 663.4,397.3 665.1,397.2C666.7,397.1 668.4,397 670.1,396.9C671.8,396.8 673.4,396.8 675.1,396.8C676.8,396.7 678.4,396.8 680.1,396.8C681.8,396.9 683.4,397 685.1,397.1C686.8,397.2 688.4,397.4 690.1,397.6C691.8,397.8 693.5,398 695.1,398.3C696.8,398.5 698.5,398.8 700.1,399.1C701.8,399.4 703.5,399.8 705.1,400.2C706.8,400.6 708.5,401 710.2,401.5C711.8,402 713.5,402.5 715.2,403C716.8,403.6 718.5,404.2 720.2,404.9C721.8,405.6 723.5,406.3 725.2,407C726.9,407.7 728.5,408.5 730.2,409.3C731.9,410.1 733.5,410.9 735.2,411.7C736.9,412.5 738.5,413.4 740.2,414.3C741.9,415.1 743.6,416 745.2,416.9C746.9,417.8 748.6,418.7 750.2,419.7C751.9,420.6 753.6,421.6 755.2,422.6C756.9,423.6 758.6,424.6 760.3,425.7C761.9,426.7 763.6,427.8 765.3,428.9C766.9,430 768.6,431.1 770.3,432.2C771.9,433.4 773.6,434.5 775.3,435.7C777,436.8 778.6,438 780.3,439.2C782,440.3 784.5,442.1 785.3,442.7" fill="none" stroke="#000" stroke-width="1.9"/>
<g fill="#e01cd6">
<circle cx="1024.5" cy="27.9" r="2.95"/>
<circle cx="1043.5" cy="43.3" r="2.95"/>
<circle cx="1119.7" cy="43.3" r="2.95"/>
<circle cx="1138.8" cy="43.3" r="2.95"/>
<circle cx="872" cy="58.7" r="2.95"/>
<circle cx="1043.5" cy="58.7" r="2.95"/>
<circle cx="1100.7" cy="58.7" r="2.95"/>
<circle cx="1119.7" cy="58.7" r="2.95"/>
<circle cx="1222.6" cy="58.7" r="2.95"/>
<circle cx="910.1" cy="74.1" r="2.95"/>
<circle cx="929.2" cy="74.1" r="2.95"/>
<circle cx="1100.7" cy="74.1" r="2.95"/>
<circle cx="1119.7" cy="74.1" r="4.05"/>
<circle cx="967.3" cy="89.4" r="4.05"/>
<circle cx="1005.4" cy="89.4" r="4.05"/>
<circle cx="1024.5" cy="89.4" r="2.95"/>
<circle cx="1043.5" cy="89.4" r="2.95"/>
<circle cx="1081.6" cy="89.4" r="2.95"/>
<circle cx="1119.7" cy="89.4" r="7.1"/>
<circle cx="1157.8" cy="89.4" r="2.95"/>
<circle cx="1005.4" cy="104.8" r="2.95"/>
<circle cx="1043.5" cy="104.8" r="2.95"/>
<circle cx="1119.7" cy="104.8" r="6.09"/>
<circle cx="1176.8" cy="104.8" r="4.05"/>
<circle cx="910.1" cy="120.2" r="2.95"/>
<circle cx="948.2" cy="120.2" r="2.95"/>
<circle cx="967.3" cy="120.2" r="2.95"/>
<circle cx="1005.4" cy="120.2" r="5.08"/>
<circle cx="1024.5" cy="120.2" r="2.95"/>
<circle cx="1043.5" cy="120.2" r="5.08"/>
<circle cx="1081.6" cy="120.2" r="4.05"/>
<circle cx="1100.7" cy="120.2" r="5.08"/>
<circle cx="1119.7" cy="120.2" r="7.1"/>
<circle cx="1138.8" cy="120.2" r="2.95"/>
<circle cx="1157.8" cy="120.2" r="6.09"/>
<circle cx="1195.9" cy="120.2" r="2.95"/>
<circle cx="1215" cy="120.2" r="2.95"/>
<circle cx="910.1" cy="135.6" r="2.95"/>
<circle cx="967.3" cy="135.6" r="2.95"/>
<circle cx="1024.5" cy="135.6" r="2.95"/>
<circle cx="1043.5" cy="135.6" r="2.95"/>
<circle cx="1062.5" cy="135.6" r="2.95"/>
<circle cx="1081.6" cy="135.6" r="2.95"/>
<circle cx="1100.7" cy="135.6" r="2.95"/>
<circle cx="1119.7" cy="135.6" r="4.05"/>
<circle cx="1157.8" cy="135.6" r="4.05"/>
<circle cx="1176.8" cy="135.6" r="4.05"/>
<circle cx="1188.3" cy="135.6" r="2.95"/>
<circle cx="1195.9" cy="135.6" r="2.95"/>
<circle cx="948.2" cy="151" r="2.95"/>
<circle cx="986.4" cy="151" r="2.95"/>
<circle cx="1005.4" cy="151" r="4.05"/>
<circle cx="1016.8" cy="151" r="2.95"/>
<circle cx="1024.5" cy="151" r="2.95"/>
<circle cx="1043.5" cy="151" r="2.95"/>
<circle cx="1062.5" cy="151" r="2.95"/>
<circle cx="1081.6" cy="151" r="2.95"/>
<circle cx="1100.7" cy="151" r="4.05"/>
<circle cx="1119.7" cy="151" r="4.05"/>
<circle cx="1157.8" cy="151" r="2.95"/>
<circle cx="1176.8" cy="151" r="4.05"/>
<circle cx="1195.9" cy="151" r="5.08"/>
<circle cx="1215" cy="151" r="2.95"/>
<circle cx="929.2" cy="166.3" r="2.95"/>
<circle cx="948.2" cy="166.3" r="2.95"/>
<circle cx="1005.4" cy="166.3" r="2.95"/>
<circle cx="1043.5" cy="166.3" r="2.95"/>
<circle cx="1081.6" cy="166.3" r="6.09"/>
<circle cx="1100.7" cy="166.3" r="4.05"/>
<circle cx="1119.7" cy="166.3" r="2.95"/>
<circle cx="1138.8" cy="166.3" r="2.95"/>
<circle cx="1184.5" cy="166.3" r="2.95"/>
<circle cx="1195.9" cy="166.3" r="2.95"/>
<circle cx="1481.7" cy="166.3" r="2.95"/>
<circle cx="1157.8" cy="175.6" r="2.95"/>
<circle cx="891.1" cy="181.7" r="2.95"/>
<circle cx="967.3" cy="181.7" r="2.95"/>
<circle cx="986.4" cy="181.7" r="2.95"/>
<circle cx="1005.4" cy="181.7" r="4.05"/>
<circle cx="1024.5" cy="181.7" r="2.95"/>
<circle cx="1062.5" cy="181.7" r="2.95"/>
<circle cx="1100.7" cy="181.7" r="2.95"/>
<circle cx="1119.7" cy="181.7" r="4.05"/>
<circle cx="1138.8" cy="181.7" r="2.95"/>
<circle cx="1146.4" cy="181.7" r="2.95"/>
<circle cx="1157.8" cy="181.7" r="4.05"/>
<circle cx="1176.8" cy="181.7" r="2.95"/>
<circle cx="1188.3" cy="181.7" r="2.95"/>
<circle cx="1215" cy="181.7" r="2.95"/>
<circle cx="1234" cy="181.7" r="2.95"/>
<circle cx="856.8" cy="197.1" r="2.95"/>
<circle cx="1024.5" cy="197.1" r="2.95"/>
<circle cx="1043.5" cy="197.1" r="2.95"/>
<circle cx="1100.7" cy="197.1" r="2.95"/>
<circle cx="1119.7" cy="197.1" r="4.05"/>
<circle cx="1176.8" cy="197.1" r="4.05"/>
<circle cx="948.2" cy="212.5" r="2.95"/>
<circle cx="1005.4" cy="212.5" r="2.95"/>
<circle cx="1081.6" cy="212.5" r="4.05"/>
<circle cx="1119.7" cy="212.5" r="5.08"/>
<circle cx="1138.8" cy="212.5" r="2.95"/>
<circle cx="1157.8" cy="212.5" r="4.05"/>
<circle cx="1176.8" cy="212.5" r="2.95"/>
<circle cx="1215" cy="212.5" r="2.95"/>
<circle cx="1100.7" cy="227.9" r="2.95"/>
<circle cx="1119.7" cy="227.9" r="2.95"/>
<circle cx="1157.8" cy="227.9" r="2.95"/>
<circle cx="1176.8" cy="227.9" r="2.95"/>
<circle cx="967.3" cy="243.2" r="5.08"/>
<circle cx="1043.5" cy="243.2" r="2.95"/>
<circle cx="1081.6" cy="243.2" r="4.05"/>
<circle cx="1100.7" cy="243.2" r="2.95"/>
<circle cx="1119.7" cy="243.2" r="5.08"/>
<circle cx="1138.8" cy="243.2" r="5.08"/>
<circle cx="1157.8" cy="243.2" r="4.05"/>
<circle cx="1176.8" cy="243.2" r="2.95"/>
<circle cx="1195.9" cy="243.2" r="2.95"/>
<circle cx="1005.4" cy="258.6" r="2.95"/>
<circle cx="1024.5" cy="258.6" r="2.95"/>
<circle cx="1062.5" cy="258.6" r="2.95"/>
<circle cx="1100.7" cy="258.6" r="2.95"/>
<circle cx="1138.8" cy="258.6" r="4.05"/>
<circle cx="1157.8" cy="258.6" r="2.95"/>
<circle cx="1176.8" cy="258.6" r="4.05"/>
<circle cx="1195.9" cy="258.6" r="2.95"/>
<circle cx="948.2" cy="274" r="2.95"/>
<circle cx="1024.5" cy="274" r="2.95"/>
<circle cx="1043.5" cy="274" r="2.95"/>
<circle cx="1081.6" cy="274" r="6.09"/>
<circle cx="1100.7" cy="274" r="2.95"/>
<circle cx="1119.7" cy="274" r="4.05"/>
<circle cx="1138.8" cy="274" r="2.95"/>
<circle cx="1188.3" cy="274" r="2.95"/>
<circle cx="1195.9" cy="274" r="4.05"/>
<circle cx="1234" cy="274" r="2.95"/>
<circle cx="1310.2" cy="274" r="2.95"/>
<circle cx="1119.7" cy="280.2" r="4.05"/>
<circle cx="1005.4" cy="283.2" r="2.95"/>
<circle cx="1157.8" cy="283.2" r="2.95"/>
<circle cx="929.2" cy="289.4" r="2.95"/>
<circle cx="967.3" cy="289.4" r="4.05"/>
<circle cx="1005.4" cy="289.4" r="2.95"/>
<circle cx="1062.5" cy="289.4" r="4.05"/>
<circle cx="1081.6" cy="289.4" r="4.05"/>
<circle cx="1100.7" cy="289.4" r="2.95"/>
<circle cx="1119.7" cy="289.4" r="2.95"/>
<circle cx="1138.8" cy="289.4" r="2.95"/>
<circle cx="1157.8" cy="289.4" r="2.95"/>
<circle cx="1215" cy="289.4" r="2.95"/>
<circle cx="1329.2" cy="289.4" r="2.95"/>
<circle cx="1405.5" cy="289.4" r="2.95"/>
<circle cx="1481.7" cy="289.4" r="2.95"/>
<circle cx="929.2" cy="295.5" r="2.95"/>
<circle cx="1157.8" cy="295.5" r="2.95"/>
<circle cx="1253" cy="295.5" r="2.95"/>
<circle cx="1195.9" cy="298.6" r="2.95"/>
<circle cx="1119.7" cy="298.6" r="2.95"/>
<circle cx="1005.4" cy="304.8" r="2.95"/>
<circle cx="1024.5" cy="304.8" r="2.95"/>
<circle cx="1043.5" cy="304.8" r="7.1"/>
<circle cx="1081.6" cy="304.8" r="7.1"/>
<circle cx="1100.7" cy="304.8" r="2.95"/>
<circle cx="1119.7" cy="304.8" r="5.08"/>
<circle cx="1138.8" cy="304.8" r="2.95"/>
<circle cx="1150.2" cy="304.8" r="2.95"/>
<circle cx="1157.8" cy="304.8" r="5.08"/>
<circle cx="1176.8" cy="304.8" r="4.05"/>
<circle cx="1195.9" cy="304.8" r="2.95"/>
<circle cx="1215" cy="304.8" r="2.95"/>
<circle cx="1234" cy="304.8" r="2.95"/>
<circle cx="1253" cy="304.8" r="2.95"/>
<circle cx="1272.1" cy="304.8" r="2.95"/>
<circle cx="1291.2" cy="304.8" r="2.95"/>
<circle cx="1310.2" cy="304.8" r="4.05"/>
<circle cx="1348.3" cy="304.8" r="5.08"/>
<circle cx="1367.3" cy="304.8" r="2.95"/>
<circle cx="1386.4" cy="304.8" r="2.95"/>
<circle cx="1424.5" cy="304.8" r="2.95"/>
<circle cx="1462.6" cy="304.8" r="2.95"/>
<circle cx="1519.8" cy="304.8" r="2.95"/>
<circle cx="948.2" cy="310.9" r="2.95"/>
<circle cx="1043.5" cy="310.9" r="2.95"/>
<circle cx="1119.7" cy="310.9" r="2.95"/>
<circle cx="1348.3" cy="310.9" r="2.95"/>
<circle cx="1157.8" cy="310.9" r="2.95"/>
<circle cx="986.4" cy="314" r="2.95"/>
<circle cx="948.2" cy="320.1" r="4.05"/>
<circle cx="1100.7" cy="320.1" r="4.05"/>
<circle cx="1119.7" cy="320.1" r="2.95"/>
<circle cx="1157.8" cy="320.1" r="2.95"/>
<circle cx="1195.9" cy="320.1" r="2.95"/>
<circle cx="1203.5" cy="320.1" r="2.95"/>
<circle cx="1215" cy="320.1" r="2.95"/>
<circle cx="1234" cy="320.1" r="2.95"/>
<circle cx="1310.2" cy="320.1" r="2.95"/>
<circle cx="1367.3" cy="320.1" r="4.05"/>
<circle cx="1386.4" cy="320.1" r="2.95"/>
<circle cx="1405.5" cy="320.1" r="2.95"/>
<circle cx="1462.6" cy="320.1" r="2.95"/>
<circle cx="1481.7" cy="320.1" r="2.95"/>
<circle cx="910.1" cy="335.5" r="2.95"/>
<circle cx="929.2" cy="335.5" r="2.95"/>
<circle cx="1005.4" cy="335.5" r="2.95"/>
<circle cx="1043.5" cy="335.5" r="2.95"/>
<circle cx="1062.5" cy="335.5" r="2.95"/>
<circle cx="1081.6" cy="335.5" r="2.95"/>
<circle cx="1100.7" cy="335.5" r="2.95"/>
<circle cx="1119.7" cy="335.5" r="2.95"/>
<circle cx="1138.8" cy="335.5" r="2.95"/>
<circle cx="1157.8" cy="335.5" r="2.95"/>
<circle cx="1176.8" cy="335.5" r="5.08"/>
<circle cx="1195.9" cy="335.5" r="4.05"/>
<circle cx="1203.5" cy="335.5" r="2.95"/>
<circle cx="1215" cy="335.5" r="5.08"/>
<circle cx="1253" cy="335.5" r="2.95"/>
<circle cx="1272.1" cy="335.5" r="2.95"/>
<circle cx="1291.2" cy="335.5" r="2.95"/>
<circle cx="1310.2" cy="335.5" r="2.95"/>
<circle cx="1329.2" cy="335.5" r="2.95"/>
<circle cx="1348.3" cy="335.5" r="4.05"/>
<circle cx="1367.3" cy="335.5" r="2.95"/>
<circle cx="1386.4" cy="335.5" r="4.05"/>
<circle cx="1405.5" cy="335.5" r="2.95"/>
<circle cx="1500.7" cy="335.5" r="2.95"/>
<circle cx="891.1" cy="350.9" r="2.95"/>
<circle cx="1043.5" cy="350.9" r="2.95"/>
<circle cx="1119.7" cy="350.9" r="2.95"/>
<circle cx="1157.8" cy="350.9" r="2.95"/>
<circle cx="1195.9" cy="350.9" r="2.95"/>
<circle cx="1207.3" cy="350.9" r="2.95"/>
<circle cx="1291.2" cy="350.9" r="2.95"/>
<circle cx="1329.2" cy="350.9" r="2.95"/>
<circle cx="1348.3" cy="350.9" r="4.05"/>
<circle cx="1367.3" cy="350.9" r="2.95"/>
<circle cx="891.1" cy="366.3" r="2.95"/>
<circle cx="1043.5" cy="366.3" r="2.95"/>
<circle cx="1119.7" cy="366.3" r="4.05"/>
<circle cx="1138.8" cy="366.3" r="2.95"/>
<circle cx="1157.8" cy="366.3" r="7.1"/>
<circle cx="1176.8" cy="366.3" r="2.95"/>
<circle cx="1195.9" cy="366.3" r="4.05"/>
<circle cx="1215" cy="366.3" r="4.05"/>
<circle cx="1234" cy="366.3" r="5.08"/>
<circle cx="1253" cy="366.3" r="5.08"/>
<circle cx="1272.1" cy="366.3" r="4.05"/>
<circle cx="1291.2" cy="366.3" r="2.95"/>
<circle cx="1329.2" cy="366.3" r="2.95"/>
<circle cx="1348.3" cy="366.3" r="4.05"/>
<circle cx="1367.3" cy="366.3" r="2.95"/>
<circle cx="1405.5" cy="366.3" r="4.05"/>
<circle cx="1424.5" cy="366.3" r="5.08"/>
<circle cx="1443.5" cy="366.3" r="5.08"/>
<circle cx="1500.7" cy="366.3" r="2.95"/>
<circle cx="1138.8" cy="381.7" r="2.95"/>
<circle cx="1195.9" cy="381.7" r="6.09"/>
<circle cx="1207.3" cy="381.7" r="2.95"/>
<circle cx="1215" cy="381.7" r="2.95"/>
<circle cx="1234" cy="381.7" r="4.05"/>
<circle cx="1272.1" cy="381.7" r="2.95"/>
<circle cx="1310.2" cy="381.7" r="2.95"/>
<circle cx="1329.2" cy="381.7" r="2.95"/>
<circle cx="1386.4" cy="381.7" r="2.95"/>
<circle cx="1424.5" cy="381.7" r="2.95"/>
<circle cx="1443.5" cy="381.7" r="2.95"/>
<circle cx="910.1" cy="397" r="2.95"/>
<circle cx="929.2" cy="397" r="2.95"/>
<circle cx="1005.4" cy="397" r="4.05"/>
<circle cx="1043.5" cy="397" r="2.95"/>
<circle cx="1081.6" cy="397" r="2.95"/>
<circle cx="1100.7" cy="397" r="2.95"/>
<circle cx="1119.7" cy="397" r="2.95"/>
<circle cx="1138.8" cy="397" r="2.95"/>
<circle cx="1157.8" cy="397" r="2.95"/>
<circle cx="1188.3" cy="397" r="2.95"/>
<circle cx="1195.9" cy="397" r="5.08"/>
<circle cx="1215" cy="397" r="2.95"/>
<circle cx="1222.6" cy="397" r="2.95"/>
<circle cx="1234" cy="397" r="5.08"/>
<circle cx="1272.1" cy="397" r="4.05"/>
<circle cx="1291.2" cy="397" r="5.08"/>
<circle cx="1310.2" cy="397" r="4.05"/>
<circle cx="1329.2" cy="397" r="2.95"/>
<circle cx="1348.3" cy="397" r="2.95"/>
<circle cx="1367.3" cy="397" r="2.95"/>
<circle cx="1386.4" cy="397" r="4.05"/>
<circle cx="1405.5" cy="397" r="2.95"/>
<circle cx="1043.5" cy="412.4" r="2.95"/>
<circle cx="1100.7" cy="412.4" r="2.95"/>
<circle cx="1119.7" cy="412.4" r="4.05"/>
<circle cx="1157.8" cy="412.4" r="2.95"/>
<circle cx="1195.9" cy="412.4" r="4.05"/>
<circle cx="1215" cy="412.4" r="2.95"/>
<circle cx="1234" cy="412.4" r="2.95"/>
<circle cx="1253" cy="412.4" r="2.95"/>
<circle cx="1348.3" cy="412.4" r="2.95"/>
<circle cx="1386.4" cy="412.4" r="4.05"/>
<circle cx="1424.5" cy="412.4" r="2.95"/>
<circle cx="1500.7" cy="412.4" r="2.95"/>
<circle cx="986.4" cy="427.8" r="2.95"/>
<circle cx="1157.8" cy="427.8" r="2.95"/>
<circle cx="1176.8" cy="427.8" r="2.95"/>
<circle cx="1195.9" cy="427.8" r="2.95"/>
<circle cx="1207.3" cy="427.8" r="2.95"/>
<circle cx="1272.1" cy="427.8" r="2.95"/>
<circle cx="1291.2" cy="427.8" r="4.05"/>
<circle cx="1348.3" cy="427.8" r="5.08"/>
<circle cx="1367.3" cy="427.8" r="2.95"/>
<circle cx="1386.4" cy="427.8" r="4.05"/>
<circle cx="1405.5" cy="427.8" r="2.95"/>
<circle cx="1424.5" cy="427.8" r="5.08"/>
<circle cx="1443.5" cy="427.8" r="2.95"/>
<circle cx="1481.7" cy="427.8" r="2.95"/>
<circle cx="1500.7" cy="427.8" r="2.95"/>
<circle cx="929.2" cy="443.2" r="2.95"/>
<circle cx="1176.8" cy="443.2" r="2.95"/>
<circle cx="1184.5" cy="443.2" r="2.95"/>
<circle cx="1226.4" cy="443.2" r="2.95"/>
<circle cx="1272.1" cy="443.2" r="2.95"/>
<circle cx="1310.2" cy="443.2" r="2.95"/>
<circle cx="1443.5" cy="443.2" r="2.95"/>
<circle cx="1481.7" cy="443.2" r="2.95"/>
<circle cx="1062.5" cy="458.6" r="2.95"/>
<circle cx="1081.6" cy="458.6" r="2.95"/>
<circle cx="1119.7" cy="458.6" r="2.95"/>
<circle cx="1157.8" cy="458.6" r="2.95"/>
<circle cx="1195.9" cy="458.6" r="2.95"/>
<circle cx="1310.2" cy="458.6" r="2.95"/>
<circle cx="1329.2" cy="458.6" r="2.95"/>
<circle cx="1405.5" cy="458.6" r="4.05"/>
<circle cx="1424.5" cy="458.6" r="4.05"/>
<circle cx="1443.5" cy="458.6" r="4.05"/>
<circle cx="1462.6" cy="458.6" r="2.95"/>
<circle cx="1512.1" cy="458.6" r="2.95"/>
<circle cx="1462.6" cy="464.7" r="2.95"/>
<circle cx="948.2" cy="473.9" r="2.95"/>
<circle cx="986.4" cy="473.9" r="2.95"/>
<circle cx="1043.5" cy="473.9" r="2.95"/>
<circle cx="1215" cy="473.9" r="2.95"/>
<circle cx="1310.2" cy="473.9" r="2.95"/>
<circle cx="1348.3" cy="473.9" r="4.05"/>
<circle cx="1443.5" cy="473.9" r="2.95"/>
<circle cx="1519.8" cy="473.9" r="2.95"/>
<circle cx="891.1" cy="489.3" r="2.95"/>
<circle cx="910.1" cy="489.3" r="2.95"/>
<circle cx="929.2" cy="489.3" r="2.95"/>
<circle cx="948.2" cy="489.3" r="2.95"/>
<circle cx="986.4" cy="489.3" r="2.95"/>
<circle cx="1005.4" cy="489.3" r="2.95"/>
<circle cx="1157.8" cy="489.3" r="2.95"/>
<circle cx="1195.9" cy="489.3" r="2.95"/>
<circle cx="1207.3" cy="489.3" r="2.95"/>
<circle cx="1215" cy="489.3" r="4.05"/>
<circle cx="1272.1" cy="489.3" r="2.95"/>
<circle cx="1405.5" cy="489.3" r="2.95"/>
<circle cx="1424.5" cy="489.3" r="2.95"/>
<circle cx="1462.6" cy="489.3" r="2.95"/>
<circle cx="1481.7" cy="489.3" r="2.95"/>
<circle cx="1519.8" cy="489.3" r="2.95"/>
<circle cx="1157.8" cy="504.7" r="2.95"/>
<circle cx="1195.9" cy="504.7" r="4.05"/>
<circle cx="1215" cy="504.7" r="2.95"/>
<circle cx="1234" cy="504.7" r="4.05"/>
<circle cx="1272.1" cy="504.7" r="2.95"/>
<circle cx="1310.2" cy="504.7" r="2.95"/>
<circle cx="1386.4" cy="504.7" r="2.95"/>
<circle cx="1443.5" cy="504.7" r="2.95"/>
<circle cx="1481.7" cy="504.7" r="2.95"/>
<circle cx="1500.7" cy="504.7" r="2.95"/>
<circle cx="1538.8" cy="504.7" r="2.95"/>
<circle cx="1024.5" cy="520.1" r="2.95"/>
<circle cx="1081.6" cy="520.1" r="2.95"/>
<circle cx="1176.8" cy="520.1" r="2.95"/>
<circle cx="1188.3" cy="520.1" r="2.95"/>
<circle cx="1215" cy="520.1" r="2.95"/>
<circle cx="1218.8" cy="520.1" r="2.95"/>
<circle cx="1253" cy="520.1" r="2.95"/>
<circle cx="1272.1" cy="520.1" r="2.95"/>
<circle cx="1291.2" cy="520.1" r="2.95"/>
<circle cx="1195.9" cy="535.5" r="2.95"/>
<circle cx="1207.3" cy="535.5" r="2.95"/>
<circle cx="1226.4" cy="535.5" r="2.95"/>
<circle cx="1462.6" cy="535.5" r="2.95"/>
<circle cx="1481.7" cy="535.5" r="2.95"/>
<circle cx="1081.6" cy="550.8" r="2.95"/>
<circle cx="1405.5" cy="550.8" r="2.95"/>
<circle cx="1500.7" cy="550.8" r="2.95"/>
<circle cx="1367.3" cy="566.2" r="2.95"/>
<circle cx="1500.7" cy="566.2" r="2.95"/>
</g>
<path d="M856.8,282.4C857.6,282.2 860.1,281.7 861.8,281.4C863.5,281.1 865.2,280.7 866.8,280.4C868.5,280.1 870.2,279.7 871.8,279.4C873.5,279.1 875.2,278.8 876.9,278.4C878.5,278.1 880.2,277.8 881.9,277.4C883.5,277.1 885.2,276.7 886.9,276.4C888.6,276 890.2,275.7 891.9,275.3C893.6,275 895.2,274.6 896.9,274.2C898.6,273.8 900.3,273.4 901.9,273.1C903.6,272.7 905.3,272.3 906.9,271.9C908.6,271.5 910.3,271.1 912,270.7C913.6,270.3 915.3,269.9 917,269.5C918.6,269.1 920.3,268.7 922,268.3C923.7,267.9 925.3,267.5 927,267.1C928.7,266.6 930.3,266.2 932,265.7C933.7,265.3 935.4,264.8 937,264.3C938.7,263.8 940.4,263.3 942,262.8C943.7,262.3 945.4,261.8 947.1,261.3C948.7,260.8 950.4,260.3 952.1,259.8C953.7,259.3 955.4,258.8 957.1,258.3C958.8,257.8 960.4,257.3 962.1,256.8C963.8,256.3 965.4,255.8 967.1,255.3C968.8,254.8 970.4,254.3 972.1,253.8C973.8,253.3 975.5,252.8 977.1,252.3C978.8,251.8 980.5,251.3 982.1,250.8C983.8,250.3 985.5,249.8 987.2,249.3C988.8,248.8 990.5,248.3 992.2,247.8C993.8,247.3 995.5,246.8 997.2,246.3C998.9,245.8 1000.5,245.3 1002.2,244.8C1003.9,244.3 1005.5,243.8 1007.2,243.3C1008.9,242.9 1010.6,242.4 1012.2,241.9C1013.9,241.4 1015.6,240.9 1017.2,240.5C1018.9,240 1020.6,239.5 1022.3,239.1C1023.9,238.6 1025.6,238.1 1027.3,237.7C1028.9,237.2 1030.6,236.7 1032.3,236.3C1034,235.8 1035.6,235.3 1037.3,234.9C1039,234.4 1040.6,234 1042.3,233.6C1044,233.1 1045.7,232.7 1047.3,232.3C1049,231.9 1050.7,231.5 1052.3,231.1C1054,230.7 1055.7,230.3 1057.4,229.9C1059,229.6 1060.7,229.3 1062.4,228.9C1064,228.6 1065.7,228.3 1067.4,228.1C1069.1,227.8 1070.7,227.6 1072.4,227.4C1074.1,227.2 1075.7,227 1077.4,226.9C1079.1,226.8 1080.8,226.7 1082.4,226.6C1084.1,226.6 1085.8,226.6 1087.4,226.7C1089.1,226.7 1090.8,226.8 1092.5,227C1094.1,227.1 1095.8,227.3 1097.5,227.6C1099.1,227.9 1100.8,228.2 1102.5,228.6C1104.2,228.9 1105.8,229.4 1107.5,229.9C1109.2,230.3 1110.8,230.9 1112.5,231.5C1114.2,232.1 1115.9,232.7 1117.5,233.4C1119.2,234.1 1120.9,234.8 1122.5,235.6C1124.2,236.5 1125.9,237.3 1127.6,238.3C1129.2,239.3 1130.9,240.3 1132.6,241.5C1134.2,242.7 1135.9,243.9 1137.6,245.3C1139.3,246.7 1140.9,248.2 1142.6,249.8C1144.3,251.4 1145.9,253.2 1147.6,255C1149.3,256.8 1151,258.8 1152.6,260.8C1154.3,262.8 1156,265 1157.6,267.2C1159.3,269.4 1161,271.7 1162.7,274C1164.3,276.3 1166,278.7 1167.7,281.1C1169.3,283.6 1171,286 1172.7,288.5C1174.4,290.9 1176,293.4 1177.7,295.9C1179.4,298.4 1181,300.9 1182.7,303.4C1184.4,305.9 1186.1,308.4 1187.7,310.9C1189.4,313.4 1191.1,315.8 1192.7,318.3C1194.4,320.7 1196.1,323.1 1197.8,325.4C1199.4,327.8 1201.1,330.1 1202.8,332.3C1204.4,334.6 1206.1,336.7 1207.8,338.9C1209.4,341 1211.1,343.1 1212.8,345.1C1214.5,347.2 1216.1,349.1 1217.8,351.1C1219.5,353 1221.1,354.8 1222.8,356.6C1224.5,358.4 1226.2,360.1 1227.8,361.7C1229.5,363.3 1231.2,364.9 1232.8,366.4C1234.5,367.8 1236.2,369.2 1237.9,370.5C1239.5,371.8 1241.2,373.1 1242.9,374.2C1244.5,375.3 1246.2,376.4 1247.9,377.3C1249.6,378.3 1251.2,379.2 1252.9,380C1254.6,380.8 1256.2,381.5 1257.9,382.1C1259.6,382.8 1261.3,383.3 1262.9,383.9C1264.6,384.4 1266.3,384.8 1267.9,385.2C1269.6,385.6 1271.3,385.9 1273,386.2C1274.6,386.5 1276.3,386.7 1278,387C1279.6,387.2 1281.3,387.4 1283,387.5C1284.7,387.7 1286.3,387.8 1288,387.9C1289.7,388 1291.3,388.1 1293,388.1C1294.7,388.1 1296.4,388.1 1298,388.1C1299.7,388.1 1301.4,388.1 1303,388C1304.7,388 1306.4,387.9 1308.1,387.8C1309.7,387.8 1311.4,387.7 1313.1,387.6C1314.7,387.5 1316.4,387.5 1318.1,387.4C1319.8,387.3 1321.4,387.2 1323.1,387.2C1324.8,387.1 1326.4,387 1328.1,387C1329.8,386.9 1331.5,386.8 1333.1,386.8C1334.8,386.8 1336.5,386.7 1338.1,386.7C1339.8,386.7 1341.5,386.7 1343.2,386.7C1344.8,386.7 1346.5,386.7 1348.2,386.8C1349.8,386.8 1351.5,386.9 1353.2,387C1354.9,387 1356.5,387.1 1358.2,387.3C1359.9,387.4 1361.5,387.6 1363.2,387.7C1364.9,387.9 1366.6,388.1 1368.2,388.4C1369.9,388.6 1371.6,388.9 1373.2,389.2C1374.9,389.4 1376.6,389.8 1378.3,390.1C1379.9,390.5 1381.6,390.8 1383.3,391.3C1384.9,391.7 1386.6,392.1 1388.3,392.6C1390,393 1391.6,393.5 1393.3,394C1395,394.6 1396.6,395.1 1398.3,395.7C1400,396.2 1401.7,396.8 1403.3,397.4C1405,398 1406.7,398.6 1408.3,399.2C1410,399.9 1411.7,400.5 1413.4,401.2C1415,401.8 1416.7,402.5 1418.4,403.2C1420,403.8 1421.7,404.5 1423.4,405.2C1425,405.8 1426.7,406.5 1428.4,407.2C1430.1,407.9 1431.7,408.5 1433.4,409.2C1435.1,409.9 1436.7,410.5 1438.4,411.2C1440.1,411.9 1441.8,412.5 1443.4,413.2C1445.1,413.9 1446.8,414.5 1448.4,415.2C1450.1,415.9 1451.8,416.5 1453.5,417.2C1455.1,417.9 1456.8,418.5 1458.5,419.2C1460.1,419.9 1461.8,420.5 1463.5,421.2C1465.2,421.9 1466.8,422.5 1468.5,423.2C1470.2,423.9 1471.8,424.5 1473.5,425.2C1475.2,425.9 1476.9,426.5 1478.5,427.2C1480.2,427.9 1481.9,428.5 1483.5,429.2C1485.2,429.9 1486.9,430.5 1488.6,431.2C1490.2,431.9 1491.9,432.6 1493.6,433.2C1495.2,433.9 1496.9,434.6 1498.6,435.3C1500.3,436 1501.9,436.7 1503.6,437.4C1505.3,438.1 1506.9,438.8 1508.6,439.5C1510.3,440.2 1512,440.9 1513.6,441.6C1515.3,442.3 1517,443 1518.6,443.7C1520.3,444.4 1522,445.1 1523.7,445.8C1525.3,446.4 1527,447.1 1528.7,447.8C1530.3,448.5 1532,449.1 1533.7,449.8C1535.4,450.5 1537.9,451.5 1538.7,451.8" fill="none" stroke="#000" stroke-width="1.9"/>
<g fill="#137d0c">
<circle cx="403.6" cy="638" r="2.95"/>
<circle cx="434.1" cy="638" r="2.95"/>
<circle cx="441.8" cy="653.4" r="2.95"/>
<circle cx="365.5" cy="668.7" r="2.95"/>
<circle cx="289.4" cy="684.1" r="2.95"/>
<circle cx="422.7" cy="684.1" r="2.95"/>
<circle cx="460.8" cy="684.1" r="2.95"/>
<circle cx="537" cy="684.1" r="2.95"/>
<circle cx="175.1" cy="699.5" r="2.95"/>
<circle cx="205.5" cy="699.5" r="2.95"/>
<circle cx="251.2" cy="699.5" r="2.95"/>
<circle cx="308.4" cy="699.5" r="2.95"/>
<circle cx="327.4" cy="699.5" r="3.8"/>
<circle cx="346.5" cy="699.5" r="2.95"/>
<circle cx="365.5" cy="699.5" r="2.95"/>
<circle cx="403.6" cy="699.5" r="2.95"/>
<circle cx="441.8" cy="699.5" r="2.95"/>
<circle cx="651.3" cy="699.5" r="2.95"/>
<circle cx="117.9" cy="714.9" r="2.95"/>
<circle cx="251.2" cy="714.9" r="2.95"/>
<circle cx="270.3" cy="714.9" r="2.95"/>
<circle cx="289.4" cy="714.9" r="2.95"/>
<circle cx="327.4" cy="714.9" r="2.95"/>
<circle cx="365.5" cy="714.9" r="2.95"/>
<circle cx="403.6" cy="714.9" r="2.95"/>
<circle cx="441.8" cy="714.9" r="3.8"/>
<circle cx="156" cy="730.3" r="2.95"/>
<circle cx="194.1" cy="730.3" r="2.95"/>
<circle cx="251.2" cy="730.3" r="2.95"/>
<circle cx="289.4" cy="730.3" r="2.95"/>
<circle cx="327.4" cy="730.3" r="6.4"/>
<circle cx="346.5" cy="730.3" r="2.95"/>
<circle cx="365.5" cy="730.3" r="3.8"/>
<circle cx="403.6" cy="730.3" r="5.4"/>
<circle cx="430.3" cy="730.3" r="2.95"/>
<circle cx="308.4" cy="736.4" r="2.95"/>
<circle cx="346.5" cy="736.4" r="2.95"/>
<circle cx="117.9" cy="745.6" r="2.95"/>
<circle cx="213.1" cy="745.6" r="3.8"/>
<circle cx="232.2" cy="745.6" r="2.95"/>
<circle cx="251.2" cy="745.6" r="5.4"/>
<circle cx="289.4" cy="745.6" r="3.8"/>
<circle cx="308.4" cy="745.6" r="2.95"/>
<circle cx="327.4" cy="745.6" r="4.6"/>
<circle cx="365.5" cy="745.6" r="7.1"/>
<circle cx="384.6" cy="745.6" r="2.95"/>
<circle cx="422.7" cy="745.6" r="4.6"/>
<circle cx="479.9" cy="745.6" r="2.95"/>
<circle cx="175.1" cy="761" r="2.95"/>
<circle cx="270.3" cy="761" r="2.95"/>
<circle cx="289.4" cy="761" r="5.4"/>
<circle cx="308.4" cy="761" r="4.6"/>
<circle cx="327.4" cy="761" r="4.6"/>
<circle cx="346.5" cy="761" r="2.95"/>
<circle cx="365.5" cy="761" r="2.95"/>
<circle cx="384.6" cy="761" r="3.8"/>
<circle cx="403.6" cy="761" r="5.4"/>
<circle cx="384.6" cy="767.2" r="2.95"/>
<circle cx="213.1" cy="776.4" r="2.95"/>
<circle cx="270.3" cy="776.4" r="2.95"/>
<circle cx="308.4" cy="776.4" r="3.8"/>
<circle cx="365.5" cy="776.4" r="2.95"/>
<circle cx="441.8" cy="776.4" r="3.8"/>
<circle cx="670.4" cy="776.4" r="2.95"/>
<circle cx="194.1" cy="791.8" r="2.95"/>
<circle cx="213.1" cy="791.8" r="3.8"/>
<circle cx="289.4" cy="791.8" r="3.8"/>
<circle cx="308.4" cy="791.8" r="2.95"/>
<circle cx="327.4" cy="791.8" r="3.8"/>
<circle cx="403.6" cy="791.8" r="2.95"/>
<circle cx="441.8" cy="791.8" r="3.8"/>
<circle cx="194.1" cy="807.1" r="2.95"/>
<circle cx="213.1" cy="807.1" r="2.95"/>
<circle cx="270.3" cy="807.1" r="2.95"/>
<circle cx="289.4" cy="807.1" r="3.8"/>
<circle cx="327.4" cy="807.1" r="2.95"/>
<circle cx="384.6" cy="807.1" r="2.95"/>
<circle cx="403.6" cy="807.1" r="3.8"/>
<circle cx="460.8" cy="807.1" r="2.95"/>
<circle cx="213.1" cy="822.5" r="2.95"/>
<circle cx="251.2" cy="822.5" r="2.95"/>
<circle cx="289.4" cy="822.5" r="5.4"/>
<circle cx="327.4" cy="822.5" r="6.4"/>
<circle cx="365.5" cy="822.5" r="4.6"/>
<circle cx="422.7" cy="822.5" r="2.95"/>
<circle cx="327.4" cy="837.9" r="2.95"/>
<circle cx="422.7" cy="837.9" r="2.95"/>
<circle cx="136.9" cy="853.3" r="2.95"/>
<circle cx="251.2" cy="853.3" r="2.95"/>
<circle cx="327.4" cy="853.3" r="3.8"/>
<circle cx="346.5" cy="853.3" r="2.95"/>
<circle cx="365.5" cy="853.3" r="3.8"/>
<circle cx="384.6" cy="853.3" r="2.95"/>
<circle cx="403.6" cy="853.3" r="3.8"/>
<circle cx="556" cy="853.3" r="2.95"/>
<circle cx="670.4" cy="853.3" r="2.95"/>
<circle cx="708.5" cy="853.3" r="2.95"/>
<circle cx="384.6" cy="868.7" r="2.95"/>
<circle cx="460.8" cy="868.7" r="2.95"/>
<circle cx="251.2" cy="884" r="2.95"/>
<circle cx="365.5" cy="884" r="2.95"/>
<circle cx="384.6" cy="884" r="3.8"/>
<circle cx="403.6" cy="884" r="3.8"/>
<circle cx="422.7" cy="884" r="2.95"/>
<circle cx="441.8" cy="884" r="3.8"/>
<circle cx="365.5" cy="890.2" r="2.95"/>
<circle cx="175.1" cy="899.4" r="2.95"/>
<circle cx="365.5" cy="899.4" r="2.95"/>
<circle cx="392.2" cy="899.4" r="2.95"/>
<circle cx="575.1" cy="899.4" r="3.8"/>
<circle cx="594.1" cy="899.4" r="2.95"/>
<circle cx="670.4" cy="899.4" r="2.95"/>
<circle cx="765.6" cy="899.4" r="2.95"/>
<circle cx="289.4" cy="902.5" r="2.95"/>
<circle cx="365.5" cy="905.6" r="3.8"/>
<circle cx="396" cy="905.6" r="2.95"/>
<circle cx="746.6" cy="905.6" r="2.95"/>
<circle cx="632.2" cy="908.6" r="2.95"/>
<circle cx="136.9" cy="914.8" r="2.95"/>
<circle cx="232.2" cy="914.8" r="3.8"/>
<circle cx="289.4" cy="914.8" r="2.95"/>
<circle cx="308.4" cy="914.8" r="2.95"/>
<circle cx="346.5" cy="914.8" r="2.95"/>
<circle cx="365.5" cy="914.8" r="4.6"/>
<circle cx="403.6" cy="914.8" r="4.6"/>
<circle cx="430.3" cy="914.8" r="2.95"/>
<circle cx="434.1" cy="914.8" r="2.95"/>
<circle cx="460.8" cy="914.8" r="2.95"/>
<circle cx="479.9" cy="914.8" r="2.95"/>
<circle cx="518" cy="914.8" r="2.95"/>
<circle cx="556" cy="914.8" r="4.6"/>
<circle cx="594.1" cy="914.8" r="3.8"/>
<circle cx="613.2" cy="914.8" r="5.4"/>
<circle cx="651.3" cy="914.8" r="2.95"/>
<circle cx="670.4" cy="914.8" r="4.6"/>
<circle cx="327.4" cy="920.9" r="2.95"/>
<circle cx="136.9" cy="924" r="3.8"/>
<circle cx="632.2" cy="924" r="2.95"/>
<circle cx="327.4" cy="930.2" r="3.8"/>
<circle cx="403.6" cy="930.2" r="3.8"/>
<circle cx="479.9" cy="930.2" r="2.95"/>
<circle cx="498.9" cy="930.2" r="2.95"/>
<circle cx="537" cy="930.2" r="3.8"/>
<circle cx="632.2" cy="930.2" r="2.95"/>
<circle cx="651.3" cy="930.2" r="3.8"/>
<circle cx="689.4" cy="930.2" r="2.95"/>
<circle cx="213.1" cy="945.6" r="2.95"/>
<circle cx="251.2" cy="945.6" r="2.95"/>
<circle cx="327.4" cy="945.6" r="3.8"/>
<circle cx="365.5" cy="945.6" r="3.8"/>
<circle cx="422.7" cy="945.6" r="2.95"/>
<circle cx="430.3" cy="945.6" r="2.95"/>
<circle cx="453.2" cy="945.6" r="2.95"/>
<circle cx="460.8" cy="945.6" r="3.8"/>
<circle cx="479.9" cy="945.6" r="3.8"/>
<circle cx="498.9" cy="945.6" r="2.95"/>
<circle cx="518" cy="945.6" r="4.6"/>
<circle cx="556" cy="945.6" r="2.95"/>
<circle cx="575.1" cy="945.6" r="3.8"/>
<circle cx="594.1" cy="945.6" r="3.8"/>
<circle cx="613.2" cy="945.6" r="2.95"/>
<circle cx="632.2" cy="945.6" r="2.95"/>
<circle cx="651.3" cy="945.6" r="2.95"/>
<circle cx="670.4" cy="945.6" r="3.8"/>
<circle cx="689.4" cy="945.6" r="2.95"/>
<circle cx="765.6" cy="945.6" r="2.95"/>
<circle cx="270.3" cy="960.9" r="2.95"/>
<circle cx="441.8" cy="960.9" r="2.95"/>
<circle cx="453.2" cy="960.9" r="2.95"/>
<circle cx="460.8" cy="960.9" r="3.8"/>
<circle cx="479.9" cy="960.9" r="2.95"/>
<circle cx="518" cy="960.9" r="2.95"/>
<circle cx="575.1" cy="960.9" r="3.8"/>
<circle cx="632.2" cy="960.9" r="3.8"/>
<circle cx="651.3" cy="960.9" r="2.95"/>
<circle cx="708.5" cy="960.9" r="2.95"/>
<circle cx="384.6" cy="976.3" r="2.95"/>
<circle cx="422.7" cy="976.3" r="2.95"/>
<circle cx="449.4" cy="976.3" r="2.95"/>
<circle cx="460.8" cy="976.3" r="2.95"/>
<circle cx="479.9" cy="976.3" r="3.8"/>
<circle cx="498.9" cy="976.3" r="3.8"/>
<circle cx="518" cy="976.3" r="3.8"/>
<circle cx="556" cy="976.3" r="2.95"/>
<circle cx="575.1" cy="976.3" r="3.8"/>
<circle cx="594.1" cy="976.3" r="3.8"/>
<circle cx="613.2" cy="976.3" r="3.8"/>
<circle cx="632.2" cy="976.3" r="3.8"/>
<circle cx="651.3" cy="976.3" r="5.4"/>
<circle cx="670.4" cy="976.3" r="3.8"/>
<circle cx="689.4" cy="976.3" r="2.95"/>
<circle cx="727.5" cy="976.3" r="3.8"/>
<circle cx="289.4" cy="991.7" r="2.95"/>
<circle cx="479.9" cy="991.7" r="2.95"/>
<circle cx="518" cy="991.7" r="2.95"/>
<circle cx="537" cy="991.7" r="2.95"/>
<circle cx="575.1" cy="991.7" r="2.95"/>
<circle cx="708.5" cy="991.7" r="2.95"/>
<circle cx="289.4" cy="1007.1" r="2.95"/>
<circle cx="384.6" cy="1007.1" r="2.95"/>
<circle cx="403.6" cy="1007.1" r="2.95"/>
<circle cx="460.8" cy="1007.1" r="2.95"/>
<circle cx="498.9" cy="1007.1" r="2.95"/>
<circle cx="518" cy="1007.1" r="6.4"/>
<circle cx="537" cy="1007.1" r="2.95"/>
<circle cx="575.1" cy="1007.1" r="3.8"/>
<circle cx="613.2" cy="1007.1" r="3.8"/>
<circle cx="620.8" cy="1007.1" r="2.95"/>
<circle cx="632.2" cy="1007.1" r="3.8"/>
<circle cx="651.3" cy="1007.1" r="3.8"/>
<circle cx="670.4" cy="1007.1" r="3.8"/>
<circle cx="689.4" cy="1007.1" r="2.95"/>
<circle cx="708.5" cy="1007.1" r="2.95"/>
<circle cx="727.5" cy="1007.1" r="3.8"/>
<circle cx="746.6" cy="1007.1" r="3.8"/>
<circle cx="346.5" cy="1022.4" r="3.8"/>
<circle cx="441.8" cy="1022.4" r="2.95"/>
<circle cx="518" cy="1022.4" r="2.95"/>
<circle cx="575.1" cy="1022.4" r="2.95"/>
<circle cx="594.1" cy="1022.4" r="2.95"/>
<circle cx="613.2" cy="1022.4" r="3.8"/>
<circle cx="632.2" cy="1022.4" r="3.8"/>
<circle cx="651.3" cy="1022.4" r="2.95"/>
<circle cx="670.4" cy="1022.4" r="3.8"/>
<circle cx="727.5" cy="1022.4" r="2.95"/>
<circle cx="365.5" cy="1037.8" r="2.95"/>
<circle cx="403.6" cy="1037.8" r="3.8"/>
<circle cx="479.9" cy="1037.8" r="3.8"/>
<circle cx="518" cy="1037.8" r="2.95"/>
<circle cx="537" cy="1037.8" r="2.95"/>
<circle cx="575.1" cy="1037.8" r="3.8"/>
<circle cx="594.1" cy="1037.8" r="3.8"/>
<circle cx="613.2" cy="1037.8" r="5.4"/>
<circle cx="632.2" cy="1037.8" r="3.8"/>
<circle cx="651.3" cy="1037.8" r="2.95"/>
<circle cx="670.4" cy="1037.8" r="4.6"/>
<circle cx="556" cy="1053.2" r="2.95"/>
<circle cx="651.3" cy="1053.2" r="2.95"/>
<circle cx="670.4" cy="1053.2" r="2.95"/>
<circle cx="689.4" cy="1053.2" r="2.95"/>
<circle cx="434.1" cy="1068.6" r="3.8"/>
<circle cx="441.8" cy="1068.6" r="2.95"/>
<circle cx="464.6" cy="1068.6" r="2.95"/>
<circle cx="472.2" cy="1068.6" r="2.95"/>
<circle cx="556" cy="1068.6" r="2.95"/>
<circle cx="575.1" cy="1068.6" r="2.95"/>
<circle cx="651.3" cy="1068.6" r="2.95"/>
<circle cx="689.4" cy="1068.6" r="5.4"/>
<circle cx="727.5" cy="1068.6" r="2.95"/>
<circle cx="765.6" cy="1068.6" r="2.95"/>
<circle cx="689.4" cy="1074.7" r="2.95"/>
<circle cx="460.8" cy="1084" r="2.95"/>
<circle cx="556" cy="1084" r="2.95"/>
<circle cx="613.2" cy="1084" r="2.95"/>
<circle cx="651.3" cy="1084" r="3.8"/>
<circle cx="727.5" cy="1084" r="2.95"/>
<circle cx="194.1" cy="1099.3" r="2.95"/>
<circle cx="384.6" cy="1099.3" r="2.95"/>
<circle cx="422.7" cy="1099.3" r="2.95"/>
<circle cx="479.9" cy="1099.3" r="3.8"/>
<circle cx="537" cy="1099.3" r="2.95"/>
<circle cx="613.2" cy="1099.3" r="2.95"/>
<circle cx="624.6" cy="1099.3" r="2.95"/>
<circle cx="632.2" cy="1099.3" r="2.95"/>
<circle cx="651.3" cy="1099.3" r="3.8"/>
<circle cx="670.4" cy="1099.3" r="4.6"/>
<circle cx="689.4" cy="1099.3" r="2.95"/>
<circle cx="708.5" cy="1099.3" r="2.95"/>
<circle cx="403.6" cy="1130.1" r="4.6"/>
<circle cx="422.7" cy="1130.1" r="2.95"/>
<circle cx="460.8" cy="1130.1" r="2.95"/>
<circle cx="479.9" cy="1130.1" r="3.8"/>
<circle cx="518" cy="1130.1" r="2.95"/>
<circle cx="594.1" cy="1130.1" r="2.95"/>
<circle cx="670.4" cy="1130.1" r="3.8"/>
<circle cx="327.4" cy="1145.5" r="3.8"/>
<circle cx="537" cy="1145.5" r="2.95"/>
</g>
<path d="M117.9,822.6C118.7,822.4 121.2,821.9 122.9,821.5C124.6,821.2 126.2,820.8 127.9,820.4C129.6,820.1 131.2,819.7 132.9,819.4C134.6,819 136.2,818.7 137.9,818.3C139.6,817.9 141.2,817.6 142.9,817.2C144.5,816.9 146.2,816.5 147.9,816.2C149.5,815.8 151.2,815.5 152.9,815.1C154.5,814.8 156.2,814.4 157.9,814.1C159.5,813.7 161.2,813.4 162.9,813C164.5,812.7 166.2,812.4 167.9,812C169.5,811.7 171.2,811.4 172.9,811C174.5,810.7 176.2,810.4 177.9,810C179.5,809.7 181.2,809.4 182.9,809.1C184.5,808.7 186.2,808.4 187.8,808.1C189.5,807.8 191.2,807.5 192.8,807.2C194.5,806.9 196.2,806.7 197.8,806.4C199.5,806.2 201.2,805.9 202.8,805.7C204.5,805.4 206.2,805.2 207.8,805C209.5,804.7 211.2,804.5 212.8,804.3C214.5,804.1 216.2,803.9 217.8,803.6C219.5,803.4 221.2,803.2 222.8,803C224.5,802.8 226.2,802.6 227.8,802.4C229.5,802.2 231.1,802 232.8,801.8C234.5,801.6 236.1,801.5 237.8,801.3C239.5,801.2 241.1,801 242.8,800.9C244.5,800.8 246.1,800.7 247.8,800.6C249.5,800.5 251.1,800.4 252.8,800.4C254.5,800.3 256.1,800.2 257.8,800.2C259.5,800.2 261.1,800.2 262.8,800.2C264.5,800.2 266.1,800.2 267.8,800.2C269.4,800.3 271.1,800.4 272.8,800.4C274.4,800.5 276.1,800.6 277.8,800.8C279.4,800.9 281.1,801.1 282.8,801.2C284.4,801.4 286.1,801.6 287.8,801.9C289.4,802.1 291.1,802.3 292.8,802.6C294.4,802.9 296.1,803.2 297.8,803.5C299.4,803.9 301.1,804.2 302.8,804.6C304.4,805 306.1,805.4 307.8,805.8C309.4,806.3 311.1,806.7 312.8,807.2C314.4,807.7 316.1,808.3 317.7,808.8C319.4,809.4 321.1,809.9 322.7,810.6C324.4,811.2 326.1,811.8 327.7,812.5C329.4,813.1 331.1,813.8 332.7,814.6C334.4,815.3 336.1,816.1 337.7,816.9C339.4,817.7 341.1,818.5 342.7,819.3C344.4,820.2 346.1,821.1 347.7,822.1C349.4,823 351.1,824 352.7,825C354.4,826 356.1,827 357.7,828.1C359.4,829.1 361,830.2 362.7,831.3C364.4,832.4 366,833.5 367.7,834.7C369.4,835.8 371,837 372.7,838.2C374.4,839.4 376,840.6 377.7,841.9C379.4,843.2 381,844.5 382.7,845.9C384.4,847.2 386,848.7 387.7,850.1C389.4,851.6 391,853 392.7,854.6C394.4,856.1 396,857.6 397.7,859.2C399.4,860.7 401,862.3 402.7,863.9C404.3,865.5 406,867.1 407.7,868.7C409.3,870.4 411,872 412.7,873.7C414.3,875.4 416,877.1 417.7,878.8C419.3,880.6 421,882.3 422.7,884.1C424.3,885.9 426,887.7 427.7,889.6C429.3,891.4 431,893.3 432.7,895.1C434.3,897 436,898.9 437.7,900.8C439.3,902.6 441,904.5 442.6,906.4C444.3,908.3 446,910.1 447.6,912C449.3,913.8 451,915.7 452.6,917.5C454.3,919.3 456,921.2 457.6,923C459.3,924.8 461,926.6 462.6,928.5C464.3,930.3 466,932.1 467.6,933.9C469.3,935.7 471,937.5 472.6,939.2C474.3,941 476,942.7 477.6,944.4C479.3,946.1 481,947.7 482.6,949.3C484.3,950.9 486,952.5 487.6,954C489.3,955.5 490.9,956.9 492.6,958.3C494.3,959.7 495.9,961 497.6,962.3C499.3,963.5 500.9,964.7 502.6,965.9C504.3,967 505.9,968.1 507.6,969.1C509.3,970.2 510.9,971.1 512.6,972.1C514.3,973 515.9,973.9 517.6,974.7C519.3,975.5 520.9,976.3 522.6,977C524.3,977.7 525.9,978.4 527.6,979C529.2,979.7 530.9,980.2 532.6,980.8C534.2,981.4 535.9,981.9 537.6,982.4C539.2,982.9 540.9,983.3 542.6,983.8C544.2,984.2 545.9,984.6 547.6,985C549.2,985.4 550.9,985.8 552.6,986.1C554.2,986.5 555.9,986.9 557.6,987.2C559.2,987.5 560.9,987.8 562.6,988.1C564.2,988.4 565.9,988.7 567.6,988.9C569.2,989.2 570.9,989.4 572.5,989.7C574.2,989.9 575.9,990.1 577.5,990.4C579.2,990.6 580.9,990.8 582.5,991C584.2,991.1 585.9,991.3 587.5,991.5C589.2,991.7 590.9,991.8 592.5,992C594.2,992.2 595.9,992.4 597.5,992.5C599.2,992.7 600.9,992.8 602.5,993C604.2,993.2 605.9,993.3 607.5,993.5C609.2,993.7 610.9,993.8 612.5,994C614.2,994.1 615.9,994.3 617.5,994.5C619.2,994.7 620.8,994.8 622.5,995C624.2,995.2 625.8,995.3 627.5,995.5C629.2,995.7 630.8,995.9 632.5,996C634.2,996.2 635.8,996.4 637.5,996.6C639.2,996.7 640.8,996.9 642.5,997.1C644.2,997.3 645.8,997.4 647.5,997.6C649.2,997.8 650.8,997.9 652.5,998.1C654.2,998.3 655.8,998.4 657.5,998.6C659.1,998.7 660.8,998.9 662.5,999C664.1,999.2 665.8,999.3 667.5,999.4C669.1,999.6 670.8,999.7 672.5,999.8C674.1,999.9 675.8,1000 677.5,1000.1C679.1,1000.1 680.8,1000.2 682.5,1000.3C684.1,1000.3 685.8,1000.4 687.5,1000.4C689.1,1000.5 690.8,1000.5 692.5,1000.5C694.1,1000.5 695.8,1000.6 697.5,1000.6C699.1,1000.6 700.8,1000.6 702.4,1000.5C704.1,1000.5 705.8,1000.5 707.4,1000.5C709.1,1000.5 710.8,1000.4 712.4,1000.4C714.1,1000.3 715.8,1000.2 717.4,1000.2C719.1,1000.1 720.8,1000 722.4,1000C724.1,999.9 725.8,999.8 727.4,999.7C729.1,999.6 730.8,999.5 732.4,999.4C734.1,999.3 735.8,999.2 737.4,999.1C739.1,999 740.8,998.9 742.4,998.8C744.1,998.7 745.8,998.6 747.4,998.5C749.1,998.4 750.7,998.3 752.4,998.2C754.1,998.1 755.7,998 757.4,997.9C759.1,997.8 760.7,997.7 762.4,997.6C764.1,997.5 766.6,997.3 767.4,997.3" fill="none" stroke="#000" stroke-width="1.9"/>
<g fill="#c2ac06">
<circle cx="1121" cy="667.1" r="2.9"/>
<circle cx="1082.9" cy="682.5" r="2.9"/>
<circle cx="1227.7" cy="682.5" r="2.9"/>
<circle cx="1197.2" cy="697.8" r="4.3"/>
<circle cx="1082.9" cy="713.2" r="2.9"/>
<circle cx="1216.2" cy="713.2" r="2.9"/>
<circle cx="1006.7" cy="728.5" r="2.9"/>
<circle cx="1044.8" cy="728.5" r="2.9"/>
<circle cx="1063.8" cy="728.5" r="2.9"/>
<circle cx="1082.9" cy="728.5" r="2.9"/>
<circle cx="1121" cy="728.5" r="7.1"/>
<circle cx="1216.2" cy="728.5" r="2.9"/>
<circle cx="1235.3" cy="728.5" r="2.9"/>
<circle cx="1025.8" cy="743.9" r="2.9"/>
<circle cx="1121" cy="743.9" r="2.9"/>
<circle cx="1140" cy="743.9" r="2.9"/>
<circle cx="1159.1" cy="743.9" r="4.3"/>
<circle cx="930.5" cy="759.3" r="2.9"/>
<circle cx="968.6" cy="759.3" r="2.9"/>
<circle cx="1025.8" cy="759.3" r="5.7"/>
<circle cx="1082.9" cy="759.3" r="2.9"/>
<circle cx="1102" cy="759.3" r="2.9"/>
<circle cx="1121" cy="759.3" r="4.3"/>
<circle cx="1197.2" cy="759.3" r="2.9"/>
<circle cx="1235.3" cy="759.3" r="2.9"/>
<circle cx="949.5" cy="774.6" r="2.9"/>
<circle cx="987.6" cy="774.6" r="2.9"/>
<circle cx="1006.7" cy="774.6" r="2.9"/>
<circle cx="1044.8" cy="774.6" r="2.9"/>
<circle cx="1063.8" cy="774.6" r="2.9"/>
<circle cx="1082.9" cy="774.6" r="4.3"/>
<circle cx="1159.1" cy="774.6" r="2.9"/>
<circle cx="1235.3" cy="774.6" r="2.9"/>
<circle cx="987.6" cy="790" r="2.9"/>
<circle cx="1063.8" cy="790" r="2.9"/>
<circle cx="1082.9" cy="790" r="2.9"/>
<circle cx="1159.1" cy="790" r="2.9"/>
<circle cx="1025.8" cy="805.4" r="2.9"/>
<circle cx="968.6" cy="820.7" r="2.9"/>
<circle cx="1044.8" cy="820.7" r="2.9"/>
<circle cx="1121" cy="820.7" r="4.3"/>
<circle cx="1197.2" cy="820.7" r="2.9"/>
<circle cx="1006.7" cy="836.1" r="2.9"/>
<circle cx="1082.9" cy="836.1" r="2.9"/>
<circle cx="1006.7" cy="851.5" r="2.9"/>
<circle cx="1082.9" cy="851.5" r="2.9"/>
<circle cx="1121" cy="851.5" r="7.1"/>
<circle cx="1063.8" cy="866.8" r="2.9"/>
<circle cx="1044.8" cy="882.2" r="4.3"/>
<circle cx="1368.7" cy="882.2" r="2.9"/>
<circle cx="1387.7" cy="882.2" r="2.9"/>
<circle cx="1368.7" cy="897.6" r="2.9"/>
<circle cx="1540.1" cy="897.6" r="2.9"/>
<circle cx="1082.9" cy="903.7" r="2.9"/>
<circle cx="911.4" cy="912.9" r="2.9"/>
<circle cx="1006.7" cy="912.9" r="2.9"/>
<circle cx="1082.9" cy="912.9" r="2.9"/>
<circle cx="1235.3" cy="912.9" r="2.9"/>
<circle cx="1425.8" cy="912.9" r="2.9"/>
<circle cx="1121" cy="919.1" r="2.9"/>
<circle cx="1368.7" cy="919.1" r="2.9"/>
<circle cx="1406.8" cy="922.1" r="4.3"/>
<circle cx="1235.3" cy="925.2" r="2.9"/>
<circle cx="1159.1" cy="928.3" r="2.9"/>
<circle cx="1406.8" cy="928.3" r="2.9"/>
<circle cx="1197.2" cy="943.7" r="2.9"/>
<circle cx="1311.5" cy="943.7" r="2.9"/>
<circle cx="1387.7" cy="943.7" r="5.7"/>
<circle cx="1406.8" cy="943.7" r="2.9"/>
<circle cx="1425.8" cy="943.7" r="2.9"/>
<circle cx="1212.4" cy="974.4" r="2.9"/>
<circle cx="1216.2" cy="974.4" r="2.9"/>
<circle cx="1311.5" cy="974.4" r="4.3"/>
<circle cx="1387.7" cy="974.4" r="5.7"/>
<circle cx="1425.8" cy="974.4" r="2.9"/>
<circle cx="1444.8" cy="974.4" r="2.9"/>
<circle cx="1463.9" cy="974.4" r="2.9"/>
<circle cx="1482.9" cy="974.4" r="2.9"/>
<circle cx="1521" cy="974.4" r="2.9"/>
<circle cx="1235.3" cy="989.8" r="4.3"/>
<circle cx="1311.5" cy="989.8" r="2.9"/>
<circle cx="1406.8" cy="989.8" r="2.9"/>
<circle cx="1444.8" cy="989.8" r="2.9"/>
<circle cx="1121" cy="1005.1" r="2.9"/>
<circle cx="1159.1" cy="1005.1" r="2.9"/>
<circle cx="1178.2" cy="1005.1" r="2.9"/>
<circle cx="1185.8" cy="1005.1" r="2.9"/>
<circle cx="1273.4" cy="1005.1" r="2.9"/>
<circle cx="1292.5" cy="1005.1" r="2.9"/>
<circle cx="1311.5" cy="1005.1" r="2.9"/>
<circle cx="1330.5" cy="1005.1" r="4.3"/>
<circle cx="1349.6" cy="1005.1" r="5.7"/>
<circle cx="1368.7" cy="1005.1" r="2.9"/>
<circle cx="1387.7" cy="1005.1" r="4.3"/>
<circle cx="1406.8" cy="1005.1" r="4.3"/>
<circle cx="1425.8" cy="1005.1" r="4.3"/>
<circle cx="1444.8" cy="1005.1" r="5.7"/>
<circle cx="1235.3" cy="1020.5" r="2.9"/>
<circle cx="1330.5" cy="1020.5" r="2.9"/>
<circle cx="1349.6" cy="1020.5" r="2.9"/>
<circle cx="1425.8" cy="1020.5" r="2.9"/>
<circle cx="1159.1" cy="1035.8" r="2.9"/>
<circle cx="1208.6" cy="1035.8" r="2.9"/>
<circle cx="1216.2" cy="1035.8" r="2.9"/>
<circle cx="1227.7" cy="1035.8" r="2.9"/>
<circle cx="1235.3" cy="1035.8" r="2.9"/>
<circle cx="1330.5" cy="1035.8" r="2.9"/>
<circle cx="1349.6" cy="1035.8" r="7.1"/>
<circle cx="1368.7" cy="1035.8" r="4.3"/>
<circle cx="1387.7" cy="1035.8" r="5.7"/>
<circle cx="1406.8" cy="1035.8" r="2.9"/>
<circle cx="1425.8" cy="1035.8" r="2.9"/>
<circle cx="1463.9" cy="1035.8" r="2.9"/>
<circle cx="1502" cy="1035.8" r="4.3"/>
<circle cx="1540.1" cy="1035.8" r="2.9"/>
<circle cx="1311.5" cy="1051.2" r="2.9"/>
<circle cx="1330.5" cy="1051.2" r="2.9"/>
<circle cx="1349.6" cy="1051.2" r="2.9"/>
<circle cx="1444.8" cy="1051.2" r="2.9"/>
<circle cx="1082.9" cy="1066.6" r="2.9"/>
<circle cx="1425.8" cy="1066.6" r="2.9"/>
<circle cx="1463.9" cy="1066.6" r="2.9"/>
<circle cx="1521" cy="1066.6" r="2.9"/>
<circle cx="1368.7" cy="1081.9" r="4.3"/>
<circle cx="1159.1" cy="1097.3" r="2.9"/>
<circle cx="1273.4" cy="1097.3" r="2.9"/>
<circle cx="1406.8" cy="1097.3" r="2.9"/>
<circle cx="1463.9" cy="1097.3" r="2.9"/>
<circle cx="1540.1" cy="1097.3" r="2.9"/>
<circle cx="1216.2" cy="1112.7" r="2.9"/>
<circle cx="1311.5" cy="1112.7" r="2.9"/>
<circle cx="1159.1" cy="1128" r="2.9"/>
<circle cx="1235.3" cy="1128" r="2.9"/>
<circle cx="1311.5" cy="1128" r="2.9"/>
<circle cx="1330.5" cy="1128" r="2.9"/>
<circle cx="1482.9" cy="1128" r="2.9"/>
<circle cx="1254.3" cy="1143.4" r="2.9"/>
<circle cx="1189.6" cy="1158.8" r="2.9"/>
<circle cx="1540.1" cy="1158.8" r="2.9"/>
</g>
<path d="M911.4,812.7C912.2,812.5 914.7,811.9 916.4,811.5C918.1,811.1 919.7,810.7 921.4,810.3C923,809.9 924.7,809.5 926.4,809.1C928,808.6 929.7,808.2 931.4,807.8C933,807.4 934.7,806.9 936.3,806.5C938,806.1 939.7,805.6 941.3,805.2C943,804.8 944.7,804.3 946.3,803.9C948,803.5 949.6,803 951.3,802.6C953,802.2 954.6,801.8 956.3,801.4C958,801 959.6,800.6 961.3,800.2C963,799.8 964.6,799.5 966.3,799.1C967.9,798.7 969.6,798.4 971.3,798C972.9,797.7 974.6,797.4 976.3,797.1C977.9,796.7 979.6,796.4 981.2,796.2C982.9,795.9 984.6,795.6 986.2,795.4C987.9,795.1 989.6,794.9 991.2,794.7C992.9,794.4 994.5,794.3 996.2,794.1C997.9,793.9 999.5,793.7 1001.2,793.6C1002.9,793.4 1004.5,793.3 1006.2,793.2C1007.9,793.1 1009.5,793 1011.2,792.9C1012.8,792.8 1014.5,792.7 1016.2,792.7C1017.8,792.6 1019.5,792.6 1021.2,792.6C1022.8,792.6 1024.5,792.6 1026.1,792.7C1027.8,792.7 1029.5,792.8 1031.1,792.9C1032.8,793 1034.5,793.1 1036.1,793.3C1037.8,793.4 1039.4,793.6 1041.1,793.8C1042.8,794 1044.4,794.2 1046.1,794.5C1047.8,794.8 1049.4,795.1 1051.1,795.4C1052.8,795.7 1054.4,796.1 1056.1,796.5C1057.7,796.8 1059.4,797.3 1061.1,797.7C1062.7,798.2 1064.4,798.7 1066.1,799.2C1067.7,799.8 1069.4,800.4 1071,801C1072.7,801.6 1074.4,802.3 1076,803C1077.7,803.7 1079.4,804.4 1081,805.2C1082.7,806 1084.3,806.8 1086,807.6C1087.7,808.5 1089.3,809.4 1091,810.3C1092.7,811.2 1094.3,812.1 1096,813.1C1097.7,814.1 1099.3,815.1 1101,816.2C1102.6,817.3 1104.3,818.4 1106,819.5C1107.6,820.7 1109.3,821.8 1111,823C1112.6,824.2 1114.3,825.4 1115.9,826.6C1117.6,827.8 1119.3,829 1120.9,830.3C1122.6,831.5 1124.3,832.7 1125.9,833.9C1127.6,835.1 1129.2,836.3 1130.9,837.6C1132.6,838.9 1134.2,840.2 1135.9,841.5C1137.6,842.8 1139.2,844.2 1140.9,845.7C1142.6,847.1 1144.2,848.6 1145.9,850.1C1147.5,851.6 1149.2,853.1 1150.9,854.7C1152.5,856.3 1154.2,857.9 1155.9,859.5C1157.5,861.1 1159.2,862.8 1160.8,864.4C1162.5,866.1 1164.2,867.8 1165.8,869.6C1167.5,871.3 1169.2,873 1170.8,874.8C1172.5,876.6 1174.1,878.4 1175.8,880.2C1177.5,882 1179.1,883.9 1180.8,885.7C1182.5,887.5 1184.1,889.3 1185.8,891.2C1187.5,893 1189.1,894.8 1190.8,896.6C1192.4,898.4 1194.1,900.2 1195.8,902C1197.4,903.8 1199.1,905.6 1200.8,907.4C1202.4,909.2 1204.1,910.9 1205.7,912.7C1207.4,914.5 1209.1,916.3 1210.7,918C1212.4,919.8 1214.1,921.6 1215.7,923.4C1217.4,925.2 1219,927 1220.7,928.8C1222.4,930.7 1224,932.5 1225.7,934.3C1227.4,936.2 1229,938.1 1230.7,939.9C1232.4,941.8 1234,943.7 1235.7,945.6C1237.3,947.4 1239,949.3 1240.7,951.2C1242.3,953.1 1244,954.9 1245.7,956.7C1247.3,958.5 1249,960.3 1250.6,962.1C1252.3,963.8 1254,965.5 1255.6,967.2C1257.3,968.8 1259,970.4 1260.6,971.9C1262.3,973.5 1263.9,975 1265.6,976.4C1267.3,977.8 1268.9,979.2 1270.6,980.6C1272.3,981.9 1273.9,983.2 1275.6,984.6C1277.3,985.9 1278.9,987.2 1280.6,988.4C1282.2,989.7 1283.9,991 1285.6,992.1C1287.2,993.3 1288.9,994.4 1290.6,995.5C1292.2,996.5 1293.9,997.5 1295.5,998.3C1297.2,999.2 1298.9,1000 1300.5,1000.7C1302.2,1001.5 1303.9,1002.1 1305.5,1002.7C1307.2,1003.3 1308.8,1003.8 1310.5,1004.3C1312.2,1004.7 1313.8,1005.1 1315.5,1005.5C1317.2,1005.8 1318.8,1006.1 1320.5,1006.3C1322.2,1006.5 1323.8,1006.7 1325.5,1006.8C1327.1,1007 1328.8,1007 1330.5,1007.1C1332.1,1007.1 1333.8,1007.1 1335.5,1007.1C1337.1,1007 1338.8,1006.9 1340.4,1006.8C1342.1,1006.7 1343.8,1006.6 1345.4,1006.4C1347.1,1006.3 1348.8,1006.1 1350.4,1005.9C1352.1,1005.7 1353.7,1005.5 1355.4,1005.3C1357.1,1005.1 1358.7,1004.9 1360.4,1004.7C1362.1,1004.5 1363.7,1004.3 1365.4,1004.1C1367.1,1003.9 1368.7,1003.8 1370.4,1003.6C1372,1003.4 1373.7,1003.3 1375.4,1003.1C1377,1003 1378.7,1002.9 1380.4,1002.8C1382,1002.6 1383.7,1002.6 1385.3,1002.5C1387,1002.4 1388.7,1002.4 1390.3,1002.3C1392,1002.3 1393.7,1002.3 1395.3,1002.3C1397,1002.3 1398.6,1002.3 1400.3,1002.4C1402,1002.4 1403.6,1002.5 1405.3,1002.6C1407,1002.7 1408.6,1002.8 1410.3,1002.9C1412,1003.1 1413.6,1003.3 1415.3,1003.4C1416.9,1003.6 1418.6,1003.8 1420.3,1004.1C1421.9,1004.3 1423.6,1004.6 1425.3,1004.8C1426.9,1005.1 1428.6,1005.4 1430.2,1005.7C1431.9,1006 1433.6,1006.4 1435.2,1006.7C1436.9,1007.1 1438.6,1007.5 1440.2,1007.9C1441.9,1008.2 1443.5,1008.7 1445.2,1009.1C1446.9,1009.5 1448.5,1009.9 1450.2,1010.4C1451.9,1010.9 1453.5,1011.3 1455.2,1011.8C1456.9,1012.3 1458.5,1012.8 1460.2,1013.4C1461.8,1013.9 1463.5,1014.4 1465.2,1015C1466.8,1015.5 1468.5,1016.1 1470.2,1016.6C1471.8,1017.2 1473.5,1017.8 1475.1,1018.4C1476.8,1019 1478.5,1019.6 1480.1,1020.2C1481.8,1020.9 1483.5,1021.5 1485.1,1022.1C1486.8,1022.8 1488.4,1023.4 1490.1,1024.1C1491.8,1024.7 1493.4,1025.4 1495.1,1026.1C1496.8,1026.7 1498.4,1027.4 1500.1,1028.1C1501.8,1028.7 1503.4,1029.4 1505.1,1030.1C1506.7,1030.7 1508.4,1031.4 1510.1,1032.1C1511.7,1032.7 1513.4,1033.4 1515.1,1034.1C1516.7,1034.7 1518.4,1035.4 1520,1036.1C1521.7,1036.7 1523.4,1037.4 1525,1038C1526.7,1038.7 1528.4,1039.4 1530,1040C1531.7,1040.7 1533.3,1041.4 1535,1042C1536.7,1042.7 1539.2,1043.7 1540,1044" fill="none" stroke="#000" stroke-width="1.9"/>
<g fill="none">
<path d="M64.7,0.4H1574" stroke="#808080" stroke-width="1.2"/>
<path d="M64.7,0V1219.7" stroke="#808080" stroke-width="1.2"/>
<path d="M819.05,0V609.6" stroke="#808080" stroke-width="1.9"/>
<path d="M819.9,609V1219.6" stroke="#8a8a8a" stroke-width="1.6"/>
<path d="M1573.8,0V1218.4" stroke="#808080" stroke-width="1.2"/>
<path d="M64.1,609.7H819.6" stroke="#949494" stroke-width="1.4"/>
<path d="M819.1,609H1574.4" stroke="#848484" stroke-width="1.5"/>
<path d="M64.1,1219.1H820.6" stroke="#808080" stroke-width="1.2"/>
<path d="M819.1,1217.8H1574.4" stroke="#808080" stroke-width="1.2"/>
</g>
<g stroke="#1a1a1a" stroke-width="1.1">
<path d="M61.2,584.2H64.7"/>
<path d="M61.2,553.3H64.7"/>
<path d="M61.2,522.3H64.7"/>
<path d="M61.2,491.4H64.7"/>
<path d="M61.2,460.4H64.7"/>
<path d="M61.2,429.5H64.7"/>
<path d="M61.2,398.5H64.7"/>
<path d="M61.2,367.6H64.7"/>
<path d="M61.2,336.6H64.7"/>
<path d="M61.2,305.7H64.7"/>
<path d="M61.2,274.8H64.7"/>
<path d="M61.2,243.8H64.7"/>
<path d="M61.2,212.9H64.7"/>
<path d="M61.2,181.9H64.7"/>
<path d="M61.2,151H64.7"/>
<path d="M61.2,120H64.7"/>
<path d="M61.2,89.1H64.7"/>
<path d="M61.2,58.2H64.7"/>
<path d="M61.2,27.2H64.7"/>
<path d="M61.2,1191.4H64.7"/>
<path d="M61.2,1160.7H64.7"/>
<path d="M61.2,1129.9H64.7"/>
<path d="M61.2,1099.2H64.7"/>
<path d="M61.2,1068.4H64.7"/>
<path d="M61.2,1037.7H64.7"/>
<path d="M61.2,1006.9H64.7"/>
<path d="M61.2,976.2H64.7"/>
<path d="M61.2,945.4H64.7"/>
<path d="M61.2,914.7H64.7"/>
<path d="M61.2,884H64.7"/>
<path d="M61.2,853.2H64.7"/>
<path d="M61.2,822.5H64.7"/>
<path d="M61.2,791.7H64.7"/>
<path d="M61.2,761H64.7"/>
<path d="M61.2,730.2H64.7"/>
<path d="M61.2,699.5H64.7"/>
<path d="M61.2,668.8H64.7"/>
<path d="M61.2,638H64.7"/>
<path d="M98.5,1219.1V1222.8"/>
<path d="M136.7,1219.1V1222.8"/>
<path d="M174.9,1219.1V1222.8"/>
<path d="M213,1219.1V1222.8"/>
<path d="M251.2,1219.1V1222.8"/>
<path d="M289.3,1219.1V1222.8"/>
<path d="M327.5,1219.1V1222.8"/>
<path d="M365.6,1219.1V1222.8"/>
<path d="M403.8,1219.1V1222.8"/>
<path d="M441.9,1219.1V1222.8"/>
<path d="M480.1,1219.1V1222.8"/>
<path d="M518.3,1219.1V1222.8"/>
<path d="M556.4,1219.1V1222.8"/>
<path d="M594.6,1219.1V1222.8"/>
<path d="M632.7,1219.1V1222.8"/>
<path d="M670.9,1219.1V1222.8"/>
<path d="M709,1219.1V1222.8"/>
<path d="M747.2,1219.1V1222.8"/>
<path d="M785.3,1219.1V1222.8"/>
<path d="M852.7,1217.8V1221.5"/>
<path d="M890.8,1217.8V1221.5"/>
<path d="M929,1217.8V1221.5"/>
<path d="M967.1,1217.8V1221.5"/>
<path d="M1005.3,1217.8V1221.5"/>
<path d="M1043.4,1217.8V1221.5"/>
<path d="M1081.6,1217.8V1221.5"/>
<path d="M1119.7,1217.8V1221.5"/>
<path d="M1157.9,1217.8V1221.5"/>
<path d="M1196,1217.8V1221.5"/>
<path d="M1234.2,1217.8V1221.5"/>
<path d="M1272.3,1217.8V1221.5"/>
<path d="M1310.4,1217.8V1221.5"/>
<path d="M1348.6,1217.8V1221.5"/>
<path d="M1386.7,1217.8V1221.5"/>
<path d="M1424.9,1217.8V1221.5"/>
<path d="M1463,1217.8V1221.5"/>
<path d="M1501.2,1217.8V1221.5"/>
<path d="M1539.3,1217.8V1221.5"/>
</g>
<g font-size="19" letter-spacing="-0.95" text-anchor="middle">
<text x="41.3" y="590.5">0</text>
<text x="41.3" y="559.6">10</text>
<text x="41.3" y="528.6">20</text>
<text x="41.3" y="497.7">30</text>
<text x="41.3" y="466.7">40</text>
<text x="41.3" y="435.8">50</text>
<text x="41.3" y="404.8">60</text>
<text x="41.3" y="373.9">70</text>
<text x="41.3" y="342.9">80</text>
<text x="41.3" y="312">90</text>
<text x="41.3" y="281.1">100</text>
<text x="41.3" y="250.1">110</text>
<text x="41.3" y="219.2">120</text>
<text x="41.3" y="188.2">130</text>
<text x="41.3" y="157.3">140</text>
<text x="41.3" y="126.3">150</text>
<text x="41.3" y="95.4">160</text>
<text x="41.3" y="64.5">170</text>
<text x="41.3" y="33.5">180</text>
<text x="41.3" y="1197.7">0</text>
<text x="41.3" y="1167">10</text>
<text x="41.3" y="1136.2">20</text>
<text x="41.3" y="1105.5">30</text>
<text x="41.3" y="1074.7">40</text>
<text x="41.3" y="1044">50</text>
<text x="41.3" y="1013.2">60</text>
<text x="41.3" y="982.5">70</text>
<text x="41.3" y="951.7">80</text>
<text x="41.3" y="921">90</text>
<text x="41.3" y="890.3">100</text>
<text x="41.3" y="859.5">110</text>
<text x="41.3" y="828.8">120</text>
<text x="41.3" y="798">130</text>
<text x="41.3" y="767.3">140</text>
<text x="41.3" y="736.5">150</text>
<text x="41.3" y="705.8">160</text>
<text x="41.3" y="675.1">170</text>
<text x="41.3" y="644.3">180</text>
</g>
<g font-size="19" letter-spacing="-0.95" text-anchor="middle">
<text x="94" y="1240.3">0</text>
<text x="134.4" y="1240.3">10</text>
<text x="172.6" y="1240.3">20</text>
<text x="210.7" y="1240.3">30</text>
<text x="248.9" y="1240.3">40</text>
<text x="287" y="1240.3">50</text>
<text x="325.2" y="1240.3">60</text>
<text x="363.3" y="1240.3">70</text>
<text x="401.5" y="1240.3">80</text>
<text x="439.6" y="1240.3">90</text>
<text x="480.1" y="1240.3">100</text>
<text x="518.3" y="1240.3">110</text>
<text x="556.4" y="1240.3">120</text>
<text x="594.6" y="1240.3">130</text>
<text x="632.7" y="1240.3">140</text>
<text x="670.9" y="1240.3">150</text>
<text x="709" y="1240.3">160</text>
<text x="747.2" y="1240.3">170</text>
<text x="785.3" y="1240.3">180</text>
<text x="848.1" y="1242.6">0</text>
<text x="888.5" y="1242.6">10</text>
<text x="926.7" y="1242.6">20</text>
<text x="964.8" y="1242.6">30</text>
<text x="1003" y="1242.6">40</text>
<text x="1041.1" y="1242.6">50</text>
<text x="1079.3" y="1242.6">60</text>
<text x="1117.4" y="1242.6">70</text>
<text x="1155.6" y="1242.6">80</text>
<text x="1193.7" y="1242.6">90</text>
<text x="1234.2" y="1242.6">100</text>
<text x="1272.3" y="1242.6">110</text>
<text x="1310.4" y="1242.6">120</text>
<text x="1348.6" y="1242.6">130</text>
<text x="1386.7" y="1242.6">140</text>
<text x="1424.9" y="1242.6">150</text>
<text x="1463" y="1242.6">160</text>
<text x="1501.2" y="1242.6">170</text>
<text x="1539.3" y="1242.6">180</text>
</g>
<g font-size="16.8" letter-spacing="0.52" text-anchor="middle">
<text x="450" y="1268">Angle individual A (°<tspan font-style="italic">θ</tspan><tspan font-style="italic" font-size="9.5" dy="6">A</tspan><tspan dy="-6">)</tspan></text>
<text x="1203.2" y="1271.2">Angle individual A (°<tspan font-style="italic">θ</tspan><tspan font-style="italic" font-size="9.5" dy="6">A</tspan><tspan dy="-6">)</tspan></text>
<text transform="translate(12.6,294.3) rotate(-90)">Angle individual B (°<tspan font-style="italic">θ</tspan><tspan font-style="italic" font-size="9.5" dy="6">B</tspan><tspan dy="-6">)</tspan></text>
<text transform="translate(12.6,901.6) rotate(-90)">Angle individual B (°<tspan font-style="italic">θ</tspan><tspan font-style="italic" font-size="9.5" dy="6">B</tspan><tspan dy="-6">)</tspan></text>
</g>
<g font-size="19.2" letter-spacing="0.33">
<text x="75.2" y="24.9">a) <tspan font-style="italic">S. corallinus</tspan></text>
<text x="832.7" y="25.9">b) <tspan font-style="italic">S. vulpinus</tspan></text>
<text x="77.8" y="633.4">c) <tspan font-style="italic">S. doliatus</tspan></text>
<text x="834.7" y="634.1">d) <tspan font-style="italic">S. puellus</tspan></text>
</g>
<g fill="#3366ff">
<circle cx="750.8" cy="16.0" r="2.95"/>
<circle cx="750.8" cy="35.6" r="3.78"/>
<circle cx="750.8" cy="53.3" r="4.61"/>
<circle cx="750.8" cy="73.3" r="5.44"/>
<circle cx="750.8" cy="90.4" r="6.27"/>
<circle cx="750.8" cy="110.8" r="7.10"/>
</g>
<g font-size="15.8" letter-spacing="-0.1">
<text x="771.1" y="18.8">n = 1</text>
<text x="771.1" y="38">n = 2</text>
<text x="771.1" y="57.1">n = 3</text>
<text x="771.1" y="76.2">n = 4</text>
<text x="771.1" y="95.4">n = 5</text>
<text x="771.1" y="114.5">n = 6</text>
</g>
<g fill="#e01cd6">
<circle cx="1504.7" cy="16.4" r="2.95"/>
<circle cx="1504.7" cy="35.75" r="3.99"/>
<circle cx="1504.7" cy="55.6" r="5.03"/>
<circle cx="1504.7" cy="75.4" r="6.06"/>
<circle cx="1504.7" cy="93.0" r="7.10"/>
</g>
<g font-size="15.8" letter-spacing="-0.1">
<text x="1525.5" y="19.2">n = 1</text>
<text x="1525.5" y="38.3">n = 2</text>
<text x="1525.5" y="57.4">n = 3</text>
<text x="1525.5" y="76.5">n = 4</text>
<text x="1525.5" y="95.6">n = 5</text>
</g>
<g fill="#137d0c">
<circle cx="749.4" cy="627.3" r="2.95"/>
<circle cx="749.4" cy="646.1" r="3.64"/>
<circle cx="749.4" cy="665.5" r="4.33"/>
<circle cx="749.4" cy="684.6" r="5.03"/>
<circle cx="749.4" cy="703.2" r="5.72"/>
<circle cx="749.4" cy="724.0" r="6.41"/>
<circle cx="749.4" cy="741.6" r="7.10"/>
</g>
<g font-size="15.8" letter-spacing="-0.1">
<text x="771.4" y="630">n = 1</text>
<text x="771.4" y="649.1">n = 2</text>
<text x="771.4" y="668.3">n = 3</text>
<text x="771.4" y="687.5">n = 4</text>
<text x="771.4" y="706.6">n = 5</text>
<text x="771.4" y="725.8">n = 6</text>
<text x="771.4" y="744.9">n = 7</text>
</g>
<g fill="#c2ac06">
<circle cx="1504.1" cy="625.9" r="2.95"/>
<circle cx="1504.1" cy="644.8" r="4.33"/>
<circle cx="1504.1" cy="663.5" r="5.72"/>
<circle cx="1504.1" cy="683.2" r="7.10"/>
</g>
<g font-size="15.8" letter-spacing="-0.1">
<text x="1524.3" y="629.2">n = 1</text>
<text x="1524.3" y="648.3">n = 2</text>
<text x="1524.3" y="667.5">n = 3</text>
<text x="1524.3" y="686.6">n = 4</text>
</g>
<g transform="translate(545,0) scale(0.10793)" fill="none" stroke="#000" stroke-width="9" stroke-linejoin="round" stroke-linecap="round">
<path d="M389,247L365,176M413,241L410,126M460,235L471,88M515,229L536,76M571,224L615,56M627,221L680,59M677,219L742,62M727,219L804,76M774,222L866,88M821,231L918,118M863,241L974,141M898,253L1013,171M930,265L1054,191M365,176L405,190M410,126L451,171M471,88L513,153M536,76L580,132M615,56L645,118M680,59L710,112M742,62L771,112M804,76L830,118M866,88L889,126M918,118L942,150M974,141L989,168M1013,171L1030,188"/>
<path d="M1054,191C1061.8,192 1083.3,194.3 1101,197C1118.7,199.7 1143.3,200.7 1160,207C1176.7,213.3 1191,222.5 1201,235C1211,247.5 1218.7,264.3 1220,282C1221.3,299.7 1215.7,321.3 1209,341C1202.3,360.7 1190.2,386.2 1180,400C1169.8,413.8 1153.3,420 1148,424"/>
<path d="M957,276L1089,200M983,291L1135,204M1007,306L1177,222M1030,324L1204,255M1054,347L1215,298M1083,371L1205,345M1113,400L1180,388"/>
<path d="M707,782L726,895M729,784L815,907M803,773L895,885M852,759L982,854M901,740L1043,817M945,716L1096,771M982,691L1136,734M726,895L757,827M815,907L837,845M895,885L914,833M982,854L988,802M1043,817L1050,771M1096,771L1105,740"/>
<path d="M1096,771C1103.7,764.8 1127.2,746.3 1142,734C1156.8,721.7 1173.7,710.3 1185,697C1196.3,683.7 1206.8,669.3 1210,654C1213.2,638.7 1208.2,621.5 1204,605C1199.8,588.5 1192.2,569 1185,555C1177.8,541 1165,526.7 1161,521"/>
<path d="M1013,666L1161,694M1037,642L1179,648M1062,617L1185,605M1087,589L1185,586M1105,562L1173,558"/>
<path d="M440,760L540,912L610,815L580,795L560,780Z"/>
<path d="M465,775L545,900M490,778L562,880M515,780L580,855M540,780L598,830" stroke-width="7"/>
<path d="M1185,447C1194.3,439.2 1217.3,421.2 1241,400C1264.7,378.8 1299.3,344.7 1327,320C1354.7,295.3 1386.5,267 1407,252C1427.5,237 1438.2,233.3 1450,230C1461.8,226.7 1472.8,228.7 1478,232C1483.2,235.3 1485.7,237.2 1481,250C1476.3,262.8 1462.3,290 1450,309C1437.7,328 1418.7,345.5 1407,364C1395.3,382.5 1384.8,402.3 1380,420C1375.2,437.7 1376.5,454.2 1378,470C1379.5,485.8 1382,497.5 1389,515C1396,532.5 1407.7,554.2 1420,575C1432.3,595.8 1452.5,623.8 1463,640C1473.5,656.2 1482,664.3 1483,672C1484,679.7 1476.5,684.7 1469,686C1461.5,687.3 1456.5,688.5 1438,680C1419.5,671.5 1384.7,652.5 1358,635C1331.3,617.5 1303.7,594.5 1278,575C1252.3,555.5 1219.5,529.7 1204,518C1188.5,506.3 1188.2,507.2 1185,505" fill="#fff"/>
<path d="M1245,430L1432,268M1245,520L1440,652M1252,442L1370,372M1262,460L1352,440M1262,478L1355,488M1258,498L1383,537" stroke-width="8"/>
<path d="M94,498C99,483.3 109.2,492.8 118,486C126.8,479.2 138.2,468.8 147,457C155.8,445.2 163.2,427.8 171,415C178.8,402.2 183.3,391.7 194,380C204.7,368.3 220.3,356.7 235,345C249.7,333.3 266.3,321.8 282,310C297.7,298.2 311.2,284.5 329,274C346.8,263.5 367.2,253.5 389,247C410.8,240.5 429.7,238.8 460,235C490.3,231.2 534.8,226.7 571,224C607.2,221.3 643.2,219.3 677,219C710.8,218.7 743,218.3 774,222C805,225.7 837,233.8 863,241C889,248.2 906,254.2 930,265C954,275.8 981.5,288.3 1007,306C1032.5,323.7 1059.5,351.3 1083,371C1106.5,390.7 1130.2,411.7 1148,424C1165.8,436.3 1183,431.5 1190,445C1197,458.5 1194.8,492.3 1190,505C1185.2,517.7 1174.3,511.3 1161,521C1147.7,530.7 1127.7,545.2 1110,563C1092.3,580.8 1073.3,608.5 1055,628C1036.7,647.5 1019.2,664.7 1000,680C980.8,695.3 965,707.2 940,720C915,732.8 878.3,747.8 850,757C821.7,766.2 795,770.8 770,775C745,779.2 728.3,780.8 700,782C671.7,783.2 633.3,783.7 600,782C566.7,780.3 530,777 500,772C470,767 445,760.7 420,752C395,743.3 369,729.5 350,720C331,710.5 319.2,703.7 306,695C292.8,686.3 284.7,678.3 271,668C257.3,657.7 241.7,643.7 224,633C206.3,622.3 183.7,611.8 165,604C146.3,596.2 124.8,591 112,586C99.2,581 91,588.7 88,574C85,559.3 89,512.7 94,498Z" fill="#fff" stroke-width="10"/>
<path d="M377,580C382.8,549.5 426.5,503.3 447,468C467.5,432.7 487.7,387 500,368C512.3,349 515.7,353 521,354C526.3,355 529.7,360.8 532,374C534.3,387.2 533.5,411.3 535,433C536.5,454.7 539.5,480.5 541,504C542.5,527.5 546,551.5 544,574C542,596.5 535.3,623.3 529,639C522.7,654.7 517.7,664 506,668C494.3,672 474.7,665.8 459,663C443.3,660.2 425.7,664.8 412,651C398.3,637.2 371.2,610.5 377,580Z" fill="#fff"/>
<path d="M400,574L506,374M412,568L512,392M424,563L518,421M447,574L506,457M453,586L500,539M459,610L509,595M453,645L494,645" stroke-width="7"/>
<circle cx="259" cy="421" r="50" fill="#fff" stroke-width="8"/>
<circle cx="259" cy="421" r="29" fill="#000" stroke="none"/>
<path d="M388,413C391,420.3 406,441.8 406,457C406,472.2 396.8,488.3 388,504C379.2,519.7 366.7,537.3 353,551C339.3,564.7 322.7,576.2 306,586C289.3,595.8 261.8,606 253,610" stroke-width="12"/>
<path d="M76,527C78,519.2 84.2,500.8 94,498C103.8,495.2 125.7,504.2 135,510C144.3,515.8 150,525.2 150,533C150,540.8 142.3,552 135,557C127.7,562 114.8,565 106,563C97.2,561 87,551 82,545C77,539 74,534.8 76,527Z" fill="#fff" stroke-width="8"/>
</g>
<g transform="translate(1290,0) scale(0.10793)" fill="none" stroke="#000" stroke-width="11.5" stroke-linejoin="round" stroke-linecap="round">
<path d="M420,298L345,225M440,296L375,140M480,292L465,115M530,290L535,88M580,288L610,92M630,286L685,90M685,285L755,105M735,285L825,110M785,287L890,135M835,290L960,158M880,300L1020,190M920,318L1070,225M955,335L1110,250M345,225L401,202.4M375,140L471,185.8M465,115L533,168.8M535,88L598,170.4M610,92L663,168.4M685,90L727,177M755,105L789,180M825,110L848,195.8M890,135L910,210.8M960,158L964,234M1020,190L1010,262.2M1070,225L1048,284"/>
<path d="M1110,250C1121.7,250.8 1160,249.2 1180,255C1200,260.8 1219.2,269.2 1230,285C1240.8,300.8 1245.8,324.2 1245,350C1244.2,375.8 1234.2,416.7 1225,440C1215.8,463.3 1204.2,481.7 1190,490C1175.8,498.3 1148.3,490 1140,490"/>
<path d="M985,350L1130,250M1000,362L1160,253M1015,375L1190,262M1030,388L1212,275M1045,400L1228,292M1060,412L1238,315M1075,425L1242,340M1090,438L1242,368M1105,450L1236,398M1120,462L1228,428M1135,475L1212,458M1145,485L1195,480"/>
<path d="M720,808L735,930M745,808L830,955M810,802L900,935M865,795L960,920M920,780L1020,890M970,758L1080,850M1015,735L1140,815M735,930L796,896.2M830,955L864,881.8M900,935L922,870M960,920L980,846M1020,890L1036,813.2M1080,850L1090,783"/>
<path d="M1140,815C1150,810.8 1183.3,802.5 1200,790C1216.7,777.5 1233.3,761.7 1240,740C1246.7,718.3 1246.7,683.3 1240,660C1233.3,636.7 1215,611.7 1200,600C1185,588.3 1158.3,591.7 1150,590"/>
<path d="M1140,610L1210,615M1125,630L1230,645M1110,650L1240,680M1095,668L1242,715M1080,685L1235,745M1060,700L1220,770M1040,715L1195,790M1028,728L1165,805"/>
<path d="M445,790L555,955L590,900L620,850L590,800Z"/>
<path d="M465,800L560,945M490,800L575,915M515,800L590,890M545,800L605,865" stroke-width="7"/>
<path d="M1210,510C1225,496.7 1268.3,453.3 1300,430C1331.7,406.7 1373.3,380.8 1400,370C1426.7,359.2 1449.2,360 1460,365C1470.8,370 1470,380.8 1465,400C1460,419.2 1439.2,456.7 1430,480C1420.8,503.3 1410,516.7 1410,540C1410,563.3 1420.8,593.3 1430,620C1439.2,646.7 1463.3,684.2 1465,700C1466.7,715.8 1454.2,715 1440,715C1425.8,715 1403.3,710.8 1380,700C1356.7,689.2 1328.3,672.5 1300,650C1271.7,627.5 1225,579.2 1210,565" fill="#fff"/>
<path d="M1290,500L1380,480M1295,515L1380,505M1295,535L1385,535M1290,555L1380,570M1280,575L1380,610M1270,480L1420,390M1260,590L1420,690" stroke-width="8"/>
<path d="M80,545C88.7,533.3 110,522.5 130,510C150,497.5 178.3,488.3 200,470C221.7,451.7 238.3,421.7 260,400C281.7,378.3 306.7,356.7 330,340C353.3,323.3 368.3,308.3 400,300C431.7,291.7 470,292.5 520,290C570,287.5 645,285 700,285C755,285 808.3,282.5 850,290C891.7,297.5 916.7,311.7 950,330C983.3,348.3 1020,376.7 1050,400C1080,423.3 1103.3,451.7 1130,470C1156.7,488.3 1196.7,495 1210,510C1223.3,525 1220,545 1210,560C1200,575 1171.7,580 1150,600C1128.3,620 1108.3,655 1080,680C1051.7,705 1018.3,730.8 980,750C941.7,769.2 896.7,785.8 850,795C803.3,804.2 741.7,805.8 700,805C658.3,804.2 633.3,794.2 600,790C566.7,785.8 530,783.3 500,780C470,776.7 445,780 420,770C395,760 371.7,740 350,720C328.3,700 308.3,668.3 290,650C271.7,631.7 256.7,620 240,610C223.3,600 205,593.3 190,590C175,586.7 165,588.3 150,590C135,591.7 112,601.7 100,600C88,598.3 81.3,589.2 78,580C74.7,570.8 71.3,556.7 80,545Z" fill="#fff" stroke-width="12.5"/>
<path d="M78,548C87,536.3 109.7,523 130,510C150.3,497 178.3,488.3 200,470C221.7,451.7 238.3,421.7 260,400C281.7,378.3 306.7,356.7 330,340C353.3,323.3 384.7,303.3 400,300C415.3,296.7 419,308.3 422,320C425,331.7 424.2,353.3 418,370C411.8,386.7 399.7,404.7 385,420C370.3,435.3 350.8,447.8 330,462C309.2,476.2 280.8,491.2 260,505C239.2,518.8 223.3,530.5 205,545C186.7,559.5 167.5,582.5 150,592C132.5,601.5 112.3,604 100,602C87.7,600 79.7,589 76,580C72.3,571 69,559.7 78,548Z" fill="#000" stroke-width="4"/>
<path d="M278,628C283,619.7 311.3,621.3 330,612C348.7,602.7 374.2,591.5 390,572C405.8,552.5 416.3,497 425,495C433.7,493 442.8,542.5 442,560C441.2,577.5 426.2,585 420,600C413.8,615 405,633.3 405,650C405,666.7 413.3,679.2 420,700C426.7,720.8 445,763 445,775C445,787 435.8,780.8 420,772C404.2,763.2 370,740.3 350,722C330,703.7 312,677.7 300,662C288,646.3 273,636.3 278,628Z" fill="#000" stroke-width="4"/>
<path d="M520,295C526.7,304.2 555,315.8 560,350C565,384.2 548.3,445 550,500C551.7,555 563.3,631.7 570,680C576.7,728.3 586.7,771.7 590,790" stroke-width="7"/>
<path d="M420,600C435,581.7 471.7,547.5 500,530C528.3,512.5 566.7,500 590,495C613.3,490 630.3,492.5 640,500C649.7,507.5 651.3,523.3 648,540C644.7,556.7 634.7,581.7 620,600C605.3,618.3 583.3,636.7 560,650C536.7,663.3 501.7,675 480,680C458.3,685 441.7,686.7 430,680C418.3,673.3 411.7,653.3 410,640C408.3,626.7 405,618.3 420,600Z" fill="#fff"/>
<path d="M430,610L600,500M435,620L630,510M440,630L645,535M440,640L635,570M440,650L615,605M440,660L580,635M440,670L530,660" stroke-width="7"/>
<circle cx="290" cy="450" r="33" fill="#fff" stroke="#000" stroke-width="6"/>
<circle cx="290" cy="450" r="22" fill="#000" stroke="none"/>
</g>
<g transform="translate(530,608) scale(0.10793)" fill="none" stroke="#000" stroke-width="9" stroke-linejoin="round" stroke-linecap="round">
<path d="M400.8,246.5L377.8,176.8M423.9,241.4L421,129.5M469.1,236.9L479.6,94.3M521.9,232.6L542.1,84.5M575.7,229.4L618,67.4M629.5,228.1L680.5,72.2M677.6,227.6L740.1,76.9M725.6,229L799.6,92.3M770.8,233.3L859.2,105.7M816,243.4L909.2,136.4M856.3,254.3L963,160.3M890,267L1000.5,190.6M920.7,279.6L1039.9,211.2M377.8,176.8L416.2,191.6M421,129.5L460.4,174.4M479.6,94.3L520,158.7M542.1,84.5L584.4,140.2M618,67.4L646.8,128.5M680.5,72.2L709.3,124.5M740.1,76.9L767.9,126.3M799.6,92.3L824.6,133.8M859.2,105.7L881.3,143.3M909.2,136.4L932.3,168.2M963,160.3L977.4,187M1000.5,190.6L1016.8,207.6"/>
<path d="M1039.9,211.2C1047.4,212.4 1068.1,215.3 1085.1,218.4C1102,221.5 1125.7,223.2 1141.8,229.9C1157.8,236.5 1171.6,245.8 1181.2,258.3C1190.8,270.7 1198.1,287.3 1199.4,304.5C1200.7,321.7 1195.3,342.6 1188.8,361.5C1182.4,380.4 1170.8,404.9 1161,418C1151.2,431.2 1135.4,436.7 1130.2,440.4"/>
<path d="M946.7,291.1L1073.5,221M971.7,306.4L1117.7,226.2M994.7,321.7L1158.1,244.9M1016.8,339.8L1184,277.8M1039.9,362.9L1194.6,319.9M1067.8,387L1185,365.3M1096.6,416.1L1161,406.4"/>
<path d="M706.4,775.7L724.7,886.1M727.6,778.3L810.2,900.3M798.7,769.7L887.1,881.2M845.8,757.5L970.7,853.6M892.9,740.5L1029.3,819.4M935.1,718.4L1080.3,776.2M970.7,695.2L1118.7,741.4M724.7,886.1L754.5,820.9M810.2,900.3L831.4,840.7M887.1,881.2L905.4,831.2M970.7,853.6L976.5,803.2M1029.3,819.4L1036,774.9M1080.3,776.2L1088.9,746.3"/>
<path d="M1080.3,776.2C1087.6,770.4 1110.2,753.1 1124.5,741.6C1138.7,730 1154.9,719.5 1165.8,706.9C1176.7,694.2 1186.8,680.6 1189.8,665.8C1192.9,651 1188,634.1 1184,618C1180,601.8 1172.7,582.6 1165.8,568.8C1158.9,555 1146.6,540.7 1142.7,535.1"/>
<path d="M1000.5,671.8L1142.7,703.2M1023.6,649.1L1160,659.1M1047.6,625.6L1165.8,617.4M1071.6,599.1L1165.8,599M1088.9,573.3L1154.3,571.4"/>
<path d="M449.8,746.6L545.9,897.2L613.2,805L584.4,784.7L565.2,769.5Z"/>
<path d="M473.9,761.9L550.7,885.7M497.9,765.6L567.1,866.8M521.9,768.2L584.4,843M545.9,768.9L601.7,819.2" stroke-width="7"/>
<path d="M1165.8,463.9C1174.8,456.5 1196.9,439.7 1219.6,419.8C1242.3,399.9 1275.7,367.7 1302.2,344.5C1328.8,321.3 1359.4,294.7 1379.1,280.7C1398.8,266.7 1409.1,263.5 1420.5,260.6C1431.8,257.7 1442.4,259.9 1447.4,263.3C1452.3,266.7 1454.7,268.6 1450.2,280.9C1445.8,293.2 1432.3,319.2 1420.5,337.4C1408.6,355.5 1390.3,371.9 1379.1,389.6C1367.9,407.2 1357.8,426.2 1353.2,443.2C1348.5,460.3 1349.8,476.3 1351.3,491.8C1352.7,507.2 1355.1,518.6 1361.8,535.8C1368.6,553 1379.8,574.4 1391.6,595C1403.5,615.7 1422.9,643.5 1432.9,659.5C1443,675.5 1451.2,683.7 1452.2,691.1C1453.1,698.6 1445.9,703.3 1438.7,704.4C1431.5,705.4 1426.7,706.4 1408.9,697.6C1391.1,688.8 1357.7,669.4 1332,651.6C1306.4,633.8 1279.8,610.6 1255.2,591C1230.5,571.3 1198.9,545.2 1184,533.4C1169.1,521.6 1168.8,522.4 1165.8,520.2" fill="#fff"/>
<path d="M1223.4,449.1L1403.2,297M1223.4,536.5L1410.8,670.5M1230.2,460.9L1343.6,396.3M1239.8,478.7L1326.3,461.9M1239.8,496.2L1329.2,508.6M1235.9,515.5L1356.1,557" stroke-width="8"/>
<path d="M117.3,482C122.1,467.9 131.9,477.4 140.4,471C148.9,464.6 159.8,454.9 168.3,443.7C176.8,432.4 183.8,415.8 191.3,403.5C198.9,391.3 203.2,381.2 213.4,370.2C223.7,359.1 238.7,348.2 252.8,337.3C266.9,326.4 282.9,315.7 298,304.7C313.1,293.6 326,280.7 343.2,271C360.3,261.3 379.8,252.2 400.8,246.5C421.8,240.8 439.9,239.7 469.1,236.9C498.2,234 541,230.9 575.7,229.4C610.5,227.9 645.1,226.9 677.6,227.6C710.1,228.2 741,228.9 770.8,233.3C800.6,237.8 831.4,246.6 856.3,254.3C881.3,262.1 897.7,268.4 920.7,279.6C943.8,290.8 970.2,303.8 994.7,321.7C1019.2,339.6 1045.2,367.3 1067.8,387C1090.3,406.8 1113.1,427.9 1130.2,440.4C1147.4,452.9 1163.9,448.7 1170.6,462.1C1177.3,475.4 1175.2,508.2 1170.6,520.4C1165.9,532.6 1155.5,526.1 1142.7,535.1C1129.9,544.1 1110.7,557.6 1093.7,574.4C1076.7,591.3 1058.5,617.6 1040.9,636C1023.2,654.5 1006.4,670.6 988,685C969.6,699.4 954.4,710.4 930.3,722.2C906.3,733.9 871.1,747.4 843.9,755.5C816.6,763.6 791,767.4 767,770.7C742.9,774 726.9,775.2 699.7,775.5C672.5,775.8 635.6,775.2 603.6,772.6C571.6,770 536.3,765.7 507.5,760C478.7,754.3 454.6,747.4 430.6,738.3C406.6,729.1 381.6,714.9 363.3,705.1C345.1,695.4 333.7,688.4 321.1,679.6C308.4,670.8 300.6,662.8 287.4,652.3C274.3,641.9 259.2,627.8 242.3,616.9C225.3,606.1 203.5,595.2 185.6,587.1C167.6,578.9 147,573.3 134.6,568C122.3,562.8 114.5,570 111.6,555.7C108.7,541.3 112.5,496.1 117.3,482Z" fill="#fff" stroke-width="10"/>
<path d="M250,328C273.3,302.3 325.7,275.7 340,276C354.3,276.3 341,306 336,330C331,354 323.5,388.3 310,420C296.5,451.7 271.3,490.3 255,520C238.7,549.7 229.5,590.3 212,598C194.5,605.7 157.8,582.3 150,566C142.2,549.7 156.7,522.7 165,500C173.3,477.3 185.8,458.7 200,430C214.2,401.3 226.7,353.7 250,328Z" fill="#000" stroke-width="4"/>
<path d="M480,240C506.3,225.3 574.7,222 590,232C605.3,242 583.3,273.7 572,300C560.7,326.3 542,360 522,390C502,420 472,451.7 452,480C432,508.3 422,536.7 402,560C382,583.3 355.3,604.7 332,620C308.7,635.3 281.5,650.3 262,652C242.5,653.7 208.7,643.7 215,630C221.3,616.3 274.2,593.3 300,570C325.8,546.7 351.7,518.3 370,490C388.3,461.7 399.7,428.3 410,400C420.3,371.7 420.3,346.7 432,320C443.7,293.3 453.7,254.7 480,240Z" fill="#000" stroke-width="4"/>
<path d="M389.3,569.8C394.9,540.4 436.9,496.7 456.6,463C476.3,429.2 495.6,385.4 507.5,367.3C519.4,349.2 522.6,353.2 527.7,354.3C532.8,355.4 536,361.2 538.3,374.1C540.5,386.9 539.7,410.4 541.1,431.5C542.6,452.6 545.5,477.8 546.9,500.7C548.3,523.6 551.7,547 549.8,568.8C547.9,590.6 541.5,616.5 535.4,631.6C529.3,646.6 524.5,655.5 513.3,659.1C502.1,662.6 483.2,656.1 468.1,652.9C453,649.7 436.1,653.7 422.9,639.9C409.8,626 383.7,599.3 389.3,569.8Z" fill="#fff"/>
<path d="M411.4,564.7L513.3,373.3M422.9,559.2L519,391M434.5,554.7L524.8,419.4M456.6,566L513.3,454M462.3,577.9L507.5,533.5M468.1,601.4L516.1,588.2M462.3,635.2L501.7,636.4" stroke-width="7"/>
<circle cx="265" cy="400" r="33" fill="#fff" stroke="#000" stroke-width="6"/>
<circle cx="265" cy="400" r="21" fill="#000" stroke="none"/>
<path d="M100,509.6C102,502.1 107.9,484.4 117.3,482C126.8,479.5 147.8,488.9 156.7,494.8C165.7,500.8 171.2,510 171.2,517.6C171.2,525.2 163.8,535.9 156.7,540.5C149.7,545.2 137.4,547.7 128.9,545.5C120.4,543.3 110.6,533.3 105.8,527.3C101,521.3 98.1,517.2 100,509.6Z" fill="#fff" stroke-width="8"/>
</g>
<g transform="translate(1282,608) scale(0.10793)" fill="none" stroke="#000" stroke-width="11" stroke-linejoin="round" stroke-linecap="round">
<path d="M365,260L350,195M400,256L400,160M445,252L470,140M490,249L540,125M540,247L605,125M590,246L670,130M640,248L735,140M690,252L800,145M740,260L860,160M790,270L920,180M840,282L980,205M890,298L1030,225M935,316L1075,240M350,195L400,198.4M400,160L460,184.8M470,140L520,174.6M540,125L579,173.8M605,125L638,176.4M670,130L697,183.2M735,140L756,187.8M800,145L812,200M860,160L868,216M920,180L924,235.8M980,205L974,254.2M1030,225L1019,270.4"/>
<path d="M1075,240C1084.2,240.8 1110.8,241.7 1130,245C1149.2,248.3 1175,249.2 1190,260C1205,270.8 1215.8,290 1220,310C1224.2,330 1221.7,358.3 1215,380C1208.3,401.7 1192.5,429.2 1180,440C1167.5,450.8 1146.7,444.2 1140,445"/>
<path d="M975,335L1110,243M1000,350L1140,247M1020,360L1168,254M1040,372L1192,265M1058,385L1210,288M1075,397L1218,318M1092,408L1218,350M1108,420L1210,382M1125,430L1198,412M1140,440L1185,432"/>
<path d="M680,712L720,810M715,712L790,815M775,702L860,800M835,690L920,780M890,674L980,760M945,655L1040,730M990,635L1100,700M720,810L760,773.8M790,815L826,760.8M860,800L886,744M920,780L944,725.6M980,760L1002,700M1040,730L1056,674"/>
<path d="M1100,700C1108.3,697.5 1135.8,693.3 1150,685C1164.2,676.7 1177.5,662.5 1185,650C1192.5,637.5 1195.8,625 1195,610C1194.2,595 1187.5,571.7 1180,560C1172.5,548.3 1155,543.3 1150,540"/>
<path d="M1135,552L1185,580M1120,562L1193,610M1100,572L1190,635M1080,585L1180,655M1060,597L1165,672M1040,608L1145,686M1020,620L1125,695"/>
<path d="M400,685L490,810L530,740L500,695Z"/>
<path d="M425,692L495,800M450,695L508,780M475,697L520,760" stroke-width="7"/>
<path d="M1190,460C1208.3,445 1260,400 1300,370C1340,340 1393.3,298.3 1430,280C1466.7,261.7 1500,261.7 1520,260C1540,258.3 1553.3,258.3 1550,270C1546.7,281.7 1521.7,305 1500,330C1478.3,355 1438.3,395 1420,420C1401.7,445 1390,456.7 1390,480C1390,503.3 1405,533.3 1420,560C1435,586.7 1461.7,620 1480,640C1498.3,660 1526.7,670 1530,680C1533.3,690 1518.3,700 1500,700C1481.7,700 1453.3,696.7 1420,680C1386.7,663.3 1338.3,626.7 1300,600C1261.7,573.3 1208.3,533.3 1190,520" fill="#fff"/>
<path d="M1240,450L1480,290M1260,460L1420,350M1265,470L1380,410M1265,485L1370,470M1265,500L1375,530M1260,515L1400,600M1240,530L1480,680" stroke-width="8"/>
<path d="M70,480C67.5,470 65,473.3 75,460C85,446.7 109.2,421.7 130,400C150.8,378.3 166.7,352.5 200,330C233.3,307.5 288.3,278.3 330,265C371.7,251.7 405,253.3 450,250C495,246.7 550,243.3 600,245C650,246.7 700,250.8 750,260C800,269.2 855,283.3 900,300C945,316.7 985,340 1020,360C1055,380 1081.7,403.3 1110,420C1138.3,436.7 1176.7,443.3 1190,460C1203.3,476.7 1205,501.7 1190,520C1175,538.3 1131.7,551.7 1100,570C1068.3,588.3 1033.3,613.3 1000,630C966.7,646.7 936.7,658.3 900,670C863.3,681.7 821.7,693 780,700C738.3,707 693.3,712 650,712C606.7,712 561.7,707 520,700C478.3,693 436.7,681.7 400,670C363.3,658.3 330,643.3 300,630C270,616.7 245,603.3 220,590C195,576.7 171.7,561.7 150,550C128.3,538.3 103.3,531.7 90,520C76.7,508.3 72.5,490 70,480Z" fill="#fcfafa" stroke-width="12"/>
<path d="M70,480C67.5,470 65,473.3 75,460C85,446.7 109.2,421.7 130,400C150.8,378.3 171.7,350.3 200,330C228.3,309.7 279.2,283 300,278C320.8,273 326.7,279.7 325,300C323.3,320.3 305.8,371.7 290,400C274.2,428.3 253.3,445.3 230,470C206.7,494.7 173.3,539.7 150,548C126.7,556.3 103.3,531.3 90,520C76.7,508.7 72.5,490 70,480Z" fill="#000" stroke-width="4"/>
<path d="M318,518C329.7,506.7 373,498.3 400,492C427,485.7 455.8,481.7 480,480C504.2,478.3 531.3,478.7 545,482C558.7,485.3 561.2,488.7 562,500C562.8,511.3 558.7,535 550,550C541.3,565 526.7,579.7 510,590C493.3,600.3 470,608.3 450,612C430,615.7 407.5,614.8 390,612C372.5,609.2 355,603.7 345,595C335,586.3 334.5,572.8 330,560C325.5,547.2 306.3,529.3 318,518Z" fill="#fcfafa"/>
<path d="M335,525L530,488M340,540L552,510M345,555L550,540M348,568L530,575M350,580L500,598M352,590L450,610" stroke-width="7"/>
<circle cx="220" cy="393" r="36" fill="#fff" stroke="#000" stroke-width="6"/>
<circle cx="220" cy="393" r="16" fill="#000" stroke="none"/>
<path d="M330,415C330.8,425.8 340,460 335,480C330,500 320,520 300,535C280,550 229.2,564.2 215,570" stroke-width="12"/>
</g>
</svg>
</body></html>
